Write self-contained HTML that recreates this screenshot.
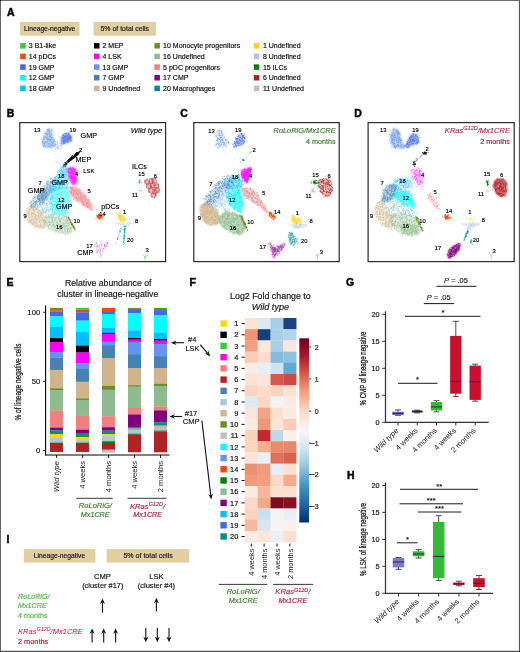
<!DOCTYPE html><html><head><meta charset="utf-8"><title>Figure</title><style>html,body{margin:0;padding:0;background:#fff}svg{display:block}text{font-family:"Liberation Sans",Arial,Helvetica,sans-serif}</style></head><body>
<svg width="520" height="652" viewBox="0 0 520 652">
<rect x="0.00" y="0.00" width="520.00" height="652.00" fill="#fff"/>
<text x="7.0" y="15.6" font-size="10.5" text-anchor="start" fill="#000" font-weight="bold" stroke="#000" stroke-width="0.45" stroke-linejoin="round">A</text>
<rect x="20.00" y="22.00" width="59.50" height="13.70" fill="#E3CEA2"/>
<text x="49.7" y="31.2" font-size="6.7" text-anchor="middle" fill="#1a1a1a" stroke="#1a1a1a" stroke-width="0.18">Lineage-negative</text>
<rect x="93.50" y="22.00" width="62.50" height="13.70" fill="#E3CEA2"/>
<text x="124.8" y="31.3" font-size="6.95" text-anchor="middle" fill="#1a1a1a" stroke="#1a1a1a" stroke-width="0.18">5% of total cells</text>
<rect x="20.20" y="43.05" width="5.50" height="5.50" fill="#32CD32"/>
<text x="28.8" y="48.3" font-size="7.0" text-anchor="start" fill="#111" stroke="#111" stroke-width="0.18">3 B1-like</text>
<rect x="20.20" y="53.70" width="5.50" height="5.50" fill="#FF4500"/>
<text x="28.8" y="58.9" font-size="7.0" text-anchor="start" fill="#111" stroke="#111" stroke-width="0.18">14 pDCs</text>
<rect x="20.20" y="64.35" width="5.50" height="5.50" fill="#4169E1"/>
<text x="28.8" y="69.6" font-size="7.0" text-anchor="start" fill="#111" stroke="#111" stroke-width="0.18">19 GMP</text>
<rect x="20.20" y="75.00" width="5.50" height="5.50" fill="#00FFFF"/>
<text x="28.8" y="80.2" font-size="7.0" text-anchor="start" fill="#111" stroke="#111" stroke-width="0.18">12 GMP</text>
<rect x="20.20" y="85.65" width="5.50" height="5.50" fill="#00BFFF"/>
<text x="28.8" y="90.9" font-size="7.0" text-anchor="start" fill="#111" stroke="#111" stroke-width="0.18">18 GMP</text>
<rect x="94.00" y="43.05" width="5.50" height="5.50" fill="#000000"/>
<text x="102.5" y="48.3" font-size="7.0" text-anchor="start" fill="#111" stroke="#111" stroke-width="0.18">2 MEP</text>
<rect x="94.00" y="53.70" width="5.50" height="5.50" fill="#FF00FF"/>
<text x="102.5" y="58.9" font-size="7.0" text-anchor="start" fill="#111" stroke="#111" stroke-width="0.18">4 LSK</text>
<rect x="94.00" y="64.35" width="5.50" height="5.50" fill="#6495ED"/>
<text x="102.5" y="69.6" font-size="7.0" text-anchor="start" fill="#111" stroke="#111" stroke-width="0.18">13 GMP</text>
<rect x="94.00" y="75.00" width="5.50" height="5.50" fill="#4682B4"/>
<text x="102.5" y="80.2" font-size="7.0" text-anchor="start" fill="#111" stroke="#111" stroke-width="0.18">7 GMP</text>
<rect x="94.00" y="85.65" width="5.50" height="5.50" fill="#D2B48C"/>
<text x="102.5" y="90.9" font-size="7.0" text-anchor="start" fill="#111" stroke="#111" stroke-width="0.18">9 Undefined</text>
<rect x="154.40" y="43.05" width="5.50" height="5.50" fill="#6B8E23"/>
<text x="163.1" y="48.3" font-size="7.0" text-anchor="start" fill="#111" stroke="#111" stroke-width="0.18">10 Monocyte progenitors</text>
<rect x="154.40" y="53.70" width="5.50" height="5.50" fill="#8FBC8F"/>
<text x="163.1" y="58.9" font-size="7.0" text-anchor="start" fill="#111" stroke="#111" stroke-width="0.18">16 Undefined</text>
<rect x="154.40" y="64.35" width="5.50" height="5.50" fill="#F08080"/>
<text x="163.1" y="69.6" font-size="7.0" text-anchor="start" fill="#111" stroke="#111" stroke-width="0.18">5 pDC progenitors</text>
<rect x="154.40" y="75.00" width="5.50" height="5.50" fill="#800080"/>
<text x="163.1" y="80.2" font-size="7.0" text-anchor="start" fill="#111" stroke="#111" stroke-width="0.18">17 CMP</text>
<rect x="154.40" y="85.65" width="5.50" height="5.50" fill="#008B8B"/>
<text x="163.1" y="90.9" font-size="7.0" text-anchor="start" fill="#111" stroke="#111" stroke-width="0.18">20 Macrophages</text>
<rect x="253.80" y="43.05" width="5.50" height="5.50" fill="#FFD700"/>
<text x="262.9" y="48.3" font-size="7.0" text-anchor="start" fill="#111" stroke="#111" stroke-width="0.18">1 Undefined</text>
<rect x="253.80" y="53.70" width="5.50" height="5.50" fill="#B0C4DE"/>
<text x="262.9" y="58.9" font-size="7.0" text-anchor="start" fill="#111" stroke="#111" stroke-width="0.18">8 Undefined</text>
<rect x="253.80" y="64.35" width="5.50" height="5.50" fill="#008000"/>
<text x="262.9" y="69.6" font-size="7.0" text-anchor="start" fill="#111" stroke="#111" stroke-width="0.18">15 ILCs</text>
<rect x="253.80" y="75.00" width="5.50" height="5.50" fill="#B22222"/>
<text x="262.9" y="80.2" font-size="7.0" text-anchor="start" fill="#111" stroke="#111" stroke-width="0.18">6 Undefined</text>
<rect x="253.80" y="85.65" width="5.50" height="5.50" fill="#C0C0C0"/>
<text x="262.9" y="90.9" font-size="7.0" text-anchor="start" fill="#111" stroke="#111" stroke-width="0.18">11 Undefined</text>
<defs><filter id="bl" x="-20%" y="-20%" width="140%" height="140%"><feGaussianBlur stdDeviation="0.9"/></filter></defs>
<text x="6.8" y="117.0" font-size="10.5" text-anchor="start" fill="#000" font-weight="bold" stroke="#000" stroke-width="0.45" stroke-linejoin="round">B</text>
<polygon points="46.9,128.9 50.8,128.2 53.1,131.2 52.6,136.6 55.1,140.5 55.7,145.1 50.8,147.6 44.6,147.6 41.5,144.3 42.3,138.9 44.6,134.3" fill="#6495ED" opacity="0.357" filter="url(#bl)"/>
<polygon points="60.8,137.4 63.8,133.5 69.2,132.8 71.8,136.6 71.5,141.2 66.2,143.2 61.5,144.0" fill="#4169E1" opacity="0.588" filter="url(#bl)"/>
<polygon points="50.8,145.0 55.7,141.2 60.8,141.2 63.0,144.3 61.5,149.0 54.6,149.7" fill="#9db8f2" opacity="0.147" filter="url(#bl)"/>
<polygon points="62.0,166.0 67.0,167.0 68.0,174.0 69.0,180.0 68.0,186.0 62.0,188.0 56.0,190.0 50.0,193.0 49.0,189.0 53.0,181.0 57.0,173.0" fill="#00BFFF" opacity="0.231" filter="url(#bl)"/>
<polygon points="51.0,178.0 56.0,180.0 52.0,189.0 47.0,197.0 42.0,204.0 36.0,208.5 30.0,207.0 31.5,201.0 37.0,193.0 44.0,185.0" fill="#4682B4" opacity="0.17639999999999997" filter="url(#bl)"/>
<polygon points="40.0,190.0 46.0,188.0 49.0,194.0 46.0,201.0 41.0,204.0 38.0,198.0" fill="#4682B4" opacity="0.336" filter="url(#bl)"/>
<polygon points="52.0,190.0 60.0,187.0 68.0,187.0 70.0,195.0 70.0,205.0 68.0,213.0 60.0,215.0 52.0,213.0 50.0,205.0 50.0,196.0" fill="#00FFFF" opacity="0.252" filter="url(#bl)"/>
<polygon points="69.0,187.0 73.0,186.0 78.0,188.0 84.0,193.0 89.0,200.0 93.0,207.0 93.5,210.0 91.0,210.0 87.0,207.5 81.0,204.0 75.0,200.0 71.0,196.0 69.0,191.0" fill="#F08080" opacity="0.462" filter="url(#bl)"/>
<polygon points="30.0,206.5 36.0,207.5 41.5,211.0 45.0,217.0 46.5,224.0 44.0,229.0 37.0,228.5 31.0,225.0 26.0,219.0 25.0,212.0" fill="#D2B48C" opacity="0.294" filter="url(#bl)"/>
<polygon points="44.0,217.5 52.0,213.0 60.0,215.0 67.0,214.0 71.0,220.0 73.0,228.0 71.0,233.0 64.0,234.0 56.0,232.0 48.0,229.0 44.5,224.0" fill="#8FBC8F" opacity="0.21" filter="url(#bl)"/>
<polygon points="67.5,168.0 71.0,167.0 75.0,168.0 77.0,171.0 76.0,175.0 77.0,180.0 76.0,184.0 73.0,185.0 71.0,182.0 69.0,178.0 68.0,173.0" fill="#FF00FF" opacity="0.672" filter="url(#bl)"/>
<polygon points="95.0,242.0 101.0,244.0 108.0,242.0 109.0,245.0 104.0,250.0 101.0,256.0 98.0,256.0 96.0,250.0" fill="#b545b5" opacity="0.042" filter="url(#bl)"/>
<polygon points="113.0,223.0 120.0,222.0 127.0,222.5 136.0,220.5 137.0,222.0 130.0,226.0 126.0,231.0 123.5,236.0 122.0,231.0 122.0,226.0 117.0,225.0" fill="#B0C4DE" opacity="0.1344" filter="url(#bl)"/>
<polygon points="116.0,212.5 120.0,214.0 127.5,220.0 124.0,221.5 120.0,221.0" fill="#FFD700" opacity="0.672" filter="url(#bl)"/>
<path d="M49.8 140.0h0M52.6 139.9h0M44.9 142.0h0M45.7 142.0h0M53.6 144.0h0M48.2 143.3h0M45.5 146.5h0M45.5 146.9h0M44.9 133.7h0M48.1 136.9h0M48.3 146.5h0M48.5 145.9h0M53.2 146.2h0M50.5 136.7h0M44.9 142.9h0M44.9 137.7h0M50.0 137.3h0M49.0 130.5h0M48.2 129.3h0M53.5 142.7h0M50.3 138.9h0M48.0 141.1h0M48.5 143.8h0M50.7 134.4h0M43.7 142.8h0M47.4 135.1h0M53.0 141.1h0M53.8 141.6h0M48.9 143.4h0M49.5 140.1h0M48.7 138.9h0M48.3 132.7h0M46.8 139.6h0M50.1 139.8h0M46.6 142.0h0M47.7 133.3h0M49.6 147.4h0M49.6 133.9h0M51.0 139.5h0M51.0 148.0h0M47.5 129.1h0M44.4 137.9h0M47.0 141.0h0M42.7 141.6h0M44.3 134.5h0M54.2 139.0h0M51.9 129.8h0M50.3 146.3h0M43.9 135.9h0M54.6 141.9h0M50.5 144.5h0M50.0 140.3h0M46.6 129.9h0M47.2 134.6h0M47.5 130.2h0M49.4 140.6h0M52.0 130.9h0M46.4 134.7h0M55.8 143.1h0M51.6 141.7h0M47.4 139.2h0M48.2 139.3h0M45.7 133.0h0M49.7 139.3h0M51.3 145.6h0M46.8 143.3h0M48.5 140.4h0M51.8 137.6h0M43.1 145.5h0M52.5 141.9h0M52.5 143.6h0M43.0 143.7h0M46.4 137.6h0M50.2 144.3h0M49.0 133.5h0M52.0 145.5h0M44.8 136.6h0M47.3 138.0h0M47.1 136.9h0M49.7 141.6h0M46.2 138.3h0M44.7 145.4h0M48.0 134.5h0M47.7 146.4h0M49.2 137.6h0M49.8 146.2h0M47.9 139.1h0M47.8 137.2h0M48.0 146.5h0M49.3 146.1h0M50.8 145.5h0M51.3 139.9h0M50.3 141.8h0M46.8 133.1h0M46.8 143.2h0M42.8 142.3h0M43.5 139.2h0M49.6 129.2h0M47.6 135.8h0M50.4 140.7h0M52.0 129.3h0M45.5 133.5h0M49.0 138.9h0M49.8 135.8h0M51.2 137.7h0M42.0 141.5h0M47.4 131.0h0M52.2 145.4h0M52.0 137.8h0M55.0 145.2h0M53.2 144.0h0M49.4 134.0h0M55.0 141.9h0M44.6 144.3h0M43.6 137.6h0M50.1 135.2h0M49.7 128.8h0M50.5 139.7h0M45.7 141.4h0M48.0 147.6h0M52.4 144.9h0M51.2 143.8h0M49.4 132.6h0M43.8 147.1h0M49.8 132.8h0M52.7 145.7h0M53.3 138.9h0M45.9 138.1h0M47.0 134.0h0M50.5 131.8h0M53.0 143.3h0M46.3 145.5h0M53.0 131.4h0M44.0 139.2h0M49.7 136.4h0M50.1 136.8h0M49.1 132.0h0M42.7 141.0h0M51.0 133.2h0M50.8 135.9h0M52.6 145.1h0M45.6 133.2h0M51.3 142.2h0M54.7 146.1h0M51.5 145.1h0M44.0 141.8h0M49.7 130.6h0M46.9 148.0h0M48.4 134.4h0M51.1 147.0h0M47.0 131.4h0M51.4 129.6h0M47.7 139.6h0M47.3 134.3h0M49.0 131.3h0M44.4 143.3h0M44.7 143.6h0M47.3 139.2h0M48.5 130.4h0M42.8 139.0h0M53.1 140.1h0M50.0 136.7h0M45.2 144.9h0M52.2 136.9h0M43.7 139.4h0M43.1 142.4h0M43.4 142.5h0M45.8 148.1h0M45.6 142.6h0M50.2 136.2h0M44.1 143.3h0M48.2 131.7h0M54.0 140.5h0M47.0 141.7h0M51.3 138.2h0M42.6 145.1h0M51.5 138.3h0M53.2 137.4h0M51.0 147.1h0M46.9 134.3h0M42.6 141.8h0M49.6 136.1h0M53.3 145.9h0M44.6 146.1h0M50.0 147.3h0M52.1 140.4h0M43.9 137.3h0M52.7 138.2h0M50.7 131.7h0M51.6 135.0h0M53.3 143.8h0M52.8 147.1h0M46.1 134.5h0M50.4 139.5h0M51.8 135.3h0M51.7 147.2h0M51.8 130.4h0M48.0 145.0h0M46.1 141.2h0M47.6 133.8h0M42.5 143.9h0M48.7 145.2h0M47.8 130.5h0M48.9 129.9h0M51.4 142.5h0M46.1 136.9h0M46.4 133.4h0M43.9 138.5h0M52.3 142.9h0M56.0 144.7h0M51.6 139.3h0M44.1 143.5h0M55.0 145.1h0M43.5 139.7h0M44.9 146.1h0M49.4 143.4h0M47.2 145.2h0M44.3 143.4h0M52.5 133.5h0M42.1 139.7h0M47.6 139.9h0M45.8 132.1h0M51.6 134.8h0M48.4 143.8h0M53.9 142.3h0M54.1 141.2h0M44.2 133.8h0M47.5 129.7h0M44.8 136.6h0M43.9 145.8h0M48.8 128.4h0M43.5 136.1h0M54.6 139.6h0M49.0 139.3h0M44.0 146.7h0M51.2 134.0h0M45.7 136.8h0M48.4 139.4h0M45.7 145.1h0M47.6 142.3h0M50.5 137.1h0M50.2 144.1h0M46.7 137.7h0M42.9 143.9h0M55.6 144.4h0M44.5 138.9h0M44.9 143.9h0M49.0 129.7h0M49.3 146.9h0M55.4 144.7h0M49.9 144.7h0M47.9 138.1h0M53.0 135.8h0M53.3 140.4h0M51.9 145.4h0M51.6 142.9h0M51.2 137.5h0M51.6 137.2h0M45.1 148.3h0M51.6 138.9h0M44.2 145.8h0M49.4 133.8h0M47.0 138.5h0M43.6 146.7h0M49.0 130.8h0" stroke="#6495ED" stroke-width="0.7" stroke-linecap="round" fill="none" opacity="0.6"/>
<path d="M63.2 140.4h0M70.6 135.8h0M68.0 138.3h0M65.1 139.7h0M61.9 141.7h0M65.7 142.0h0M65.3 133.9h0M68.8 137.1h0M62.4 138.3h0M67.0 134.3h0M64.6 133.4h0M63.9 142.9h0M68.8 137.2h0M64.3 138.2h0M63.4 135.2h0M64.9 136.7h0M66.8 135.5h0M68.1 139.1h0M68.6 138.3h0M64.5 142.8h0M70.7 139.3h0M68.1 142.5h0M68.9 138.2h0M67.0 139.2h0M68.2 141.0h0M62.2 137.4h0M63.7 143.4h0M67.3 138.6h0M69.7 135.5h0M64.7 136.5h0M69.7 138.2h0M65.7 138.7h0M64.9 137.8h0M69.1 132.7h0M70.7 141.2h0M65.3 138.1h0M72.0 140.7h0M65.5 137.0h0M71.4 136.7h0M69.6 138.5h0M62.6 143.9h0M69.6 137.3h0M68.4 134.1h0M67.4 133.3h0M66.5 136.6h0M66.4 133.6h0M65.3 139.8h0M71.0 140.0h0M69.8 137.3h0M63.2 135.2h0M63.6 143.9h0M67.2 137.7h0M63.9 134.3h0M63.3 142.4h0M62.9 143.9h0M64.1 141.4h0M69.0 136.0h0M66.5 138.6h0M67.5 139.2h0M71.2 137.2h0M70.3 140.5h0M68.9 138.5h0M66.2 133.5h0M65.5 133.7h0M71.0 136.3h0M70.4 136.7h0M65.6 140.8h0M66.4 140.2h0M63.5 141.2h0M66.8 141.1h0M68.3 139.6h0M65.7 139.3h0M64.9 141.8h0M64.1 135.6h0M61.9 141.6h0M63.3 134.9h0M71.3 138.3h0M69.0 138.1h0M65.0 141.1h0M67.2 137.7h0M63.1 135.5h0M68.3 141.8h0M69.3 140.4h0M69.1 137.6h0M65.6 142.5h0M71.1 141.0h0M67.1 141.0h0M64.2 139.3h0M71.3 140.8h0M68.2 142.7h0M63.7 138.3h0M67.8 141.6h0M61.9 140.5h0M62.2 143.8h0M69.2 137.1h0M62.4 139.2h0M64.6 143.5h0M63.2 137.6h0M61.9 137.5h0M65.2 136.9h0M70.4 136.5h0M68.8 135.4h0M68.7 138.4h0M69.2 133.9h0M68.6 133.3h0M61.1 143.3h0M69.4 139.5h0M67.5 136.5h0M63.8 134.6h0M67.2 140.2h0M64.0 138.7h0M69.7 135.9h0M66.8 140.2h0M61.4 139.6h0M69.0 136.3h0M66.2 136.6h0M63.7 137.9h0M68.5 138.4h0M63.8 141.9h0M70.7 140.4h0M64.8 139.6h0M71.0 139.0h0M64.3 140.2h0M72.0 138.0h0M61.1 140.3h0M69.0 134.8h0M64.0 136.2h0M66.1 142.4h0M67.5 137.8h0M63.9 143.5h0M61.2 139.0h0M69.2 133.9h0M63.9 140.7h0M66.6 140.0h0M65.0 136.0h0M63.9 142.2h0M70.5 137.7h0M66.1 133.0h0M68.5 134.2h0M68.7 134.9h0M69.8 139.3h0M64.3 142.1h0M62.9 139.6h0M60.1 137.0h0M70.4 137.9h0M67.7 141.6h0M65.2 143.8h0M61.9 143.2h0M69.1 141.2h0M71.4 139.6h0M70.7 137.8h0M66.6 137.3h0M64.1 137.3h0M67.8 136.3h0M62.3 135.8h0M67.6 135.5h0M68.6 138.2h0M64.6 140.9h0" stroke="#4169E1" stroke-width="0.7" stroke-linecap="round" fill="none" opacity="0.6"/>
<path d="M56.4 142.1h0M59.6 143.5h0M57.4 148.1h0M60.0 142.2h0M62.7 144.1h0M62.1 143.2h0M59.7 147.1h0M58.2 147.9h0M53.9 144.2h0M60.9 145.2h0M53.5 146.4h0M52.2 144.1h0M57.9 145.3h0M56.7 144.5h0M60.1 148.3h0M61.9 148.8h0M62.1 142.2h0M61.7 145.6h0M56.6 147.4h0M55.4 146.7h0M62.1 144.7h0M56.8 142.7h0M58.6 146.6h0M58.4 147.3h0M58.3 148.9h0M57.7 148.7h0M55.9 144.2h0M61.0 142.9h0M55.7 149.2h0M52.4 146.1h0M62.2 142.8h0M61.5 141.8h0M58.9 148.0h0M61.6 146.1h0M57.4 146.6h0M56.3 147.3h0M58.2 148.0h0M54.9 145.6h0M61.4 142.5h0M61.2 145.2h0M55.5 141.8h0M55.3 146.8h0M55.7 149.4h0M60.9 147.0h0M62.1 144.0h0M57.2 141.6h0M57.5 148.2h0M55.3 144.0h0M60.6 145.7h0M57.7 140.4h0M57.6 144.0h0M61.0 143.2h0M53.2 145.7h0M52.9 143.4h0M57.7 146.4h0M61.3 148.5h0M53.2 146.5h0M57.7 143.1h0M60.5 145.0h0M53.1 145.3h0" stroke="#9db8f2" stroke-width="0.7" stroke-linecap="round" fill="none" opacity="0.6"/>
<path d="M66.2 175.0h0M51.5 192.6h0M62.0 170.7h0M54.6 186.7h0M61.2 182.5h0M56.5 176.7h0M54.2 187.3h0M53.2 183.8h0M62.8 179.1h0M52.2 183.0h0M66.1 185.5h0M58.9 170.0h0M64.1 181.2h0M61.2 177.3h0M59.1 188.2h0M60.7 177.2h0M58.2 180.5h0M65.3 184.6h0M68.5 175.4h0M58.3 178.3h0M60.0 181.5h0M61.2 182.5h0M66.7 169.2h0M54.2 186.1h0M59.6 183.2h0M55.8 183.6h0M55.5 176.8h0M56.9 189.3h0M55.4 179.7h0M52.9 189.3h0M55.8 190.4h0M62.9 180.1h0M53.1 189.4h0M65.3 169.2h0M61.3 169.6h0M66.5 183.4h0M54.5 181.7h0M50.5 190.8h0M61.3 188.1h0M63.3 169.7h0M67.2 175.9h0M55.3 187.1h0M53.4 184.5h0M61.3 170.3h0M68.2 179.8h0M55.7 188.6h0M62.6 182.5h0M67.9 184.0h0M65.0 172.7h0M62.1 171.6h0M51.4 191.8h0M66.7 172.3h0M66.0 178.3h0M60.6 185.0h0M64.2 181.5h0M64.0 184.5h0M56.2 190.1h0M61.5 182.2h0M68.0 169.9h0M55.3 188.7h0M54.4 179.5h0M51.5 190.2h0M55.3 179.9h0M54.1 190.1h0M67.5 184.5h0M68.3 176.3h0M60.5 184.0h0M50.4 190.9h0M59.9 171.3h0M52.3 189.5h0M66.0 173.9h0M58.5 186.6h0M59.9 181.6h0M55.1 177.8h0M55.7 182.8h0M62.6 182.9h0M63.8 175.0h0M63.6 167.9h0M56.2 188.5h0M67.8 169.8h0M54.7 180.7h0M65.0 168.1h0M55.6 178.2h0M64.1 182.2h0M60.7 170.4h0M61.4 176.9h0M64.9 166.2h0M56.2 176.9h0M66.0 169.0h0M60.4 172.5h0M64.6 170.9h0M59.6 184.8h0M60.4 171.1h0M57.6 175.4h0M58.4 181.4h0M60.0 187.8h0M58.3 178.8h0M61.9 187.4h0M60.1 187.6h0M61.4 183.4h0M53.6 188.3h0M65.3 178.9h0M53.6 186.2h0M57.3 188.2h0M52.6 187.9h0M54.1 185.4h0M59.1 175.2h0M63.7 168.1h0M61.6 185.2h0M67.1 172.3h0M59.7 175.0h0M52.8 191.0h0M60.0 171.6h0M57.8 176.2h0M62.4 185.3h0M53.1 191.3h0M51.8 187.6h0M55.1 177.0h0M60.7 168.8h0M54.3 178.0h0M60.3 167.7h0M63.7 166.7h0M57.6 172.6h0M56.5 187.5h0M52.7 185.0h0M65.4 172.0h0M61.1 185.3h0M62.9 180.5h0M58.7 170.8h0M49.0 190.2h0M67.4 179.1h0M53.0 190.4h0M63.7 182.7h0M59.3 174.4h0M64.4 173.4h0M53.6 189.3h0M55.3 185.8h0M67.4 184.8h0M59.4 182.4h0M59.9 181.4h0M61.1 185.1h0M66.2 174.3h0M61.7 166.5h0M62.3 167.8h0M53.7 185.8h0M49.8 190.3h0M54.9 183.8h0M62.3 171.5h0M61.7 170.5h0M57.7 177.3h0M53.1 186.2h0M67.7 184.9h0M59.3 187.8h0M58.7 175.4h0M50.4 188.3h0M61.7 171.6h0M65.0 179.1h0M62.9 183.2h0M64.1 167.4h0M60.5 176.0h0M54.9 189.9h0M54.5 190.2h0M53.2 185.8h0M53.3 190.8h0M62.1 183.3h0M53.2 182.2h0M48.8 189.0h0M51.9 184.2h0M63.9 185.2h0M53.3 186.0h0M53.3 185.8h0M66.7 182.4h0M50.1 188.5h0M65.9 180.7h0M62.2 188.0h0M56.9 183.1h0M66.3 169.1h0M59.5 186.2h0M60.3 188.2h0M63.8 167.1h0M56.8 184.5h0M58.0 175.2h0M62.6 186.0h0M63.0 171.9h0M54.2 189.0h0M56.2 184.4h0M67.9 176.3h0M68.9 172.5h0M50.9 189.1h0M51.6 186.5h0M65.2 184.2h0M57.0 183.5h0M62.2 186.3h0M51.5 190.1h0M65.3 174.5h0M62.9 173.2h0M67.0 177.3h0M56.8 185.0h0M49.2 192.1h0M55.6 181.8h0M57.2 179.7h0M68.9 181.2h0M58.3 180.8h0M58.4 188.1h0M49.6 193.0h0M66.4 179.7h0M58.7 188.6h0M59.2 187.3h0M55.8 178.3h0M62.7 174.1h0M52.6 179.7h0M55.3 187.4h0M51.7 187.5h0M56.9 182.5h0M62.1 174.0h0M67.4 180.6h0M64.0 172.9h0M66.8 167.3h0M56.7 180.2h0M61.6 177.6h0M62.5 172.7h0M57.1 181.8h0M61.9 168.1h0M59.3 185.7h0M65.4 169.1h0M56.9 171.0h0M52.3 190.3h0M57.9 171.7h0M62.1 170.0h0M65.6 182.6h0M62.0 167.6h0M56.3 181.3h0M58.6 187.7h0M62.8 187.4h0M66.1 183.5h0M62.9 166.9h0M58.5 176.7h0M66.7 180.1h0M53.8 189.8h0M53.1 188.0h0M58.5 174.5h0M65.4 178.2h0M57.7 184.1h0M65.2 175.9h0M52.3 189.1h0M63.5 170.4h0M58.4 182.7h0M63.1 181.5h0M54.9 191.1h0M64.2 170.0h0M49.8 191.9h0M55.4 186.6h0M66.4 168.6h0M65.3 170.6h0M67.3 168.1h0M60.5 187.4h0M57.0 177.9h0M53.4 185.1h0M56.5 187.1h0M63.4 184.7h0M69.4 179.9h0M66.6 181.4h0M63.8 177.3h0M51.7 188.8h0M54.8 189.1h0M50.1 189.4h0M67.5 169.9h0M63.7 166.7h0M54.3 191.0h0M66.3 175.9h0M56.2 187.8h0M51.5 192.2h0M57.7 184.8h0M55.3 184.4h0M65.3 178.6h0M66.3 171.5h0M53.8 181.8h0M51.6 190.5h0M65.3 171.7h0M64.9 174.7h0M65.6 174.6h0M54.5 182.7h0M64.1 175.5h0M60.0 179.7h0M62.8 187.3h0M60.3 181.3h0M60.4 181.2h0M51.9 189.7h0M51.4 188.8h0M55.6 184.4h0M60.9 174.0h0M54.5 180.1h0M57.8 186.1h0M55.7 183.2h0M53.2 188.2h0M58.6 185.2h0M62.6 171.7h0M66.3 169.6h0M64.0 166.5h0M64.3 185.7h0M68.3 183.5h0M60.7 178.9h0M50.6 190.3h0M61.6 188.8h0M52.8 181.8h0M57.1 181.3h0M67.8 186.3h0M55.5 187.9h0M60.9 183.1h0M60.6 173.3h0M60.2 170.5h0M56.2 180.2h0M57.2 187.0h0M66.9 170.0h0M62.9 172.5h0M54.1 186.4h0M54.9 180.7h0M54.2 182.3h0M58.1 174.3h0M64.8 178.1h0M61.0 177.0h0M59.7 169.0h0M58.8 177.9h0M59.2 182.9h0M66.5 180.1h0M54.3 184.1h0M60.7 185.5h0M65.5 172.8h0M69.6 182.9h0M57.1 179.0h0M67.1 180.6h0M49.7 189.3h0M57.8 171.8h0M61.0 169.8h0M61.7 170.2h0M66.8 174.7h0M58.0 183.4h0M55.6 185.3h0M56.6 184.0h0M67.6 180.9h0M60.7 173.7h0M59.8 178.2h0M54.7 183.7h0M64.6 186.6h0M66.6 171.3h0M54.5 177.0h0M63.3 173.6h0M66.2 176.3h0M58.3 178.2h0M57.0 181.4h0M62.2 173.9h0M65.8 184.9h0M63.7 169.0h0M52.7 189.5h0M67.2 181.0h0M62.2 176.5h0M68.5 178.5h0M57.6 177.4h0M50.4 191.3h0M62.5 172.5h0M59.7 186.1h0M62.5 166.8h0M55.0 177.6h0M61.5 177.7h0" stroke="#00BFFF" stroke-width="0.7" stroke-linecap="round" fill="none" opacity="0.6"/>
<path d="M54.3 178.9h0M44.3 191.2h0M48.9 189.9h0M44.7 189.6h0M51.7 178.4h0M49.6 187.3h0M35.2 197.8h0M38.8 200.1h0M52.4 186.9h0M47.8 187.9h0M35.5 202.9h0M44.9 191.3h0M32.6 204.8h0M47.0 188.7h0M50.2 185.5h0M34.0 205.8h0M32.1 200.3h0M39.2 192.5h0M39.4 202.8h0M48.6 191.7h0M46.5 195.5h0M53.5 188.5h0M35.7 205.8h0M55.8 180.2h0M45.6 194.5h0M37.4 205.9h0M31.0 201.1h0M31.3 205.1h0M33.4 201.0h0M37.9 196.0h0M52.9 183.1h0M31.7 206.5h0M48.2 191.0h0M42.0 193.3h0M36.0 204.3h0M44.8 190.0h0M36.4 203.2h0M56.3 180.6h0M34.1 199.8h0M44.7 188.5h0M42.2 192.0h0M31.4 204.5h0M41.0 205.9h0M35.0 207.4h0M30.3 203.0h0M45.4 190.0h0M36.4 201.3h0M39.9 204.4h0M53.5 180.0h0M45.9 194.1h0M39.4 199.1h0M48.8 181.8h0M51.2 178.6h0M50.1 186.9h0M39.0 198.7h0M37.1 202.9h0M31.9 201.6h0M37.3 195.8h0M41.8 191.5h0M53.0 184.4h0M42.7 199.7h0M46.8 183.1h0M37.5 199.5h0M44.8 195.8h0M37.7 201.0h0M46.0 197.8h0M51.2 186.3h0M31.4 207.2h0M32.0 204.3h0M37.6 192.5h0M46.9 180.5h0M49.6 193.4h0M47.4 184.8h0M35.1 204.3h0M35.6 202.1h0M35.1 197.0h0M45.6 196.1h0M46.0 188.4h0M47.2 186.2h0M45.5 197.6h0M38.9 196.0h0M38.7 201.0h0M44.5 187.2h0M48.7 184.3h0M47.2 185.2h0M41.5 194.5h0M50.2 186.0h0M34.3 206.2h0M51.2 182.8h0M39.9 198.7h0M38.4 194.4h0M44.7 195.9h0M37.2 207.2h0M35.9 201.7h0M34.0 207.3h0M36.9 206.7h0M49.9 185.6h0M40.6 201.0h0M41.2 198.9h0M30.2 202.9h0M44.9 185.7h0M47.7 187.2h0M46.5 192.3h0M41.9 184.3h0M54.7 180.8h0M49.3 186.4h0M44.1 197.6h0M42.9 188.8h0M35.0 194.7h0M45.9 194.1h0M44.1 183.2h0M39.9 204.8h0M38.7 191.6h0M32.9 200.1h0M38.8 199.0h0M44.1 189.6h0M39.5 200.6h0M49.3 193.6h0M46.4 183.2h0M37.8 198.4h0M43.9 188.9h0M45.4 185.6h0M45.8 196.4h0M38.9 195.8h0M34.9 203.1h0M47.9 195.0h0M44.2 188.4h0M44.1 191.3h0M46.4 187.4h0M43.1 190.4h0M50.0 184.1h0M39.8 204.3h0M40.4 198.2h0M45.4 193.1h0M37.3 197.5h0M48.0 182.5h0M39.3 207.1h0M50.8 182.0h0M34.6 201.4h0M31.2 202.7h0M55.2 182.5h0M34.4 197.6h0M46.9 185.8h0M48.4 187.8h0M36.8 208.5h0M39.0 196.3h0M35.6 201.6h0M52.1 183.8h0M45.4 197.6h0M38.6 205.7h0M38.5 201.4h0M41.3 192.2h0M50.7 183.9h0M53.3 180.9h0M34.6 197.5h0M36.1 201.7h0M48.1 192.6h0M51.6 181.4h0M48.9 181.5h0M46.0 182.1h0M38.8 199.5h0M39.4 199.0h0M41.8 196.6h0M45.0 191.8h0M39.3 202.0h0M35.0 202.5h0M44.8 194.1h0M32.5 198.0h0M37.4 197.4h0M55.4 182.5h0M31.5 205.5h0M46.3 194.9h0M33.3 198.6h0M49.5 190.2h0M47.9 192.2h0M45.1 193.4h0M41.9 195.1h0M43.5 198.9h0M50.9 181.4h0M30.2 203.4h0M51.3 182.0h0M37.0 203.7h0M48.7 186.1h0M42.0 190.2h0M37.4 197.2h0M48.7 189.4h0M36.0 201.3h0M47.1 181.4h0M39.1 199.2h0M37.6 196.8h0M50.2 178.8h0M33.2 207.0h0M37.5 197.5h0M47.5 188.4h0M37.7 198.2h0M31.9 207.4h0M33.3 206.3h0M38.6 208.0h0M34.0 202.8h0M46.2 187.5h0M43.4 191.8h0M44.5 198.3h0M32.8 203.6h0M50.1 182.8h0M47.3 194.1h0M36.5 209.3h0M53.9 180.3h0M41.2 190.9h0M47.2 183.8h0M40.0 201.1h0M43.7 194.9h0M43.7 186.1h0M43.7 192.4h0M34.7 206.9h0M42.3 191.3h0M45.9 193.8h0M41.8 191.0h0M31.3 207.1h0M44.4 187.0h0M39.9 189.2h0M33.1 208.1h0M40.6 202.2h0M47.5 189.5h0M46.1 192.7h0M32.9 206.5h0M39.9 204.0h0M36.8 201.8h0M47.1 187.4h0M37.2 204.6h0M42.8 196.2h0M30.1 205.8h0M42.3 196.5h0M43.0 199.0h0M37.9 199.9h0M43.6 198.9h0M49.9 187.3h0M48.3 189.5h0M50.4 183.8h0M54.2 181.3h0M31.4 201.7h0M42.5 198.9h0M41.6 190.8h0M44.5 189.1h0M44.0 191.6h0M43.7 198.1h0M41.3 190.1h0M55.1 178.9h0M34.1 202.9h0M41.0 191.8h0M35.4 196.4h0M43.0 202.3h0M41.4 191.1h0M34.5 204.3h0M48.1 181.9h0M49.3 184.8h0M34.8 205.9h0M31.5 206.2h0M30.2 206.7h0M47.1 183.8h0M50.5 178.7h0M48.5 184.7h0M34.6 196.2h0M36.6 200.7h0M33.3 204.9h0M39.1 194.4h0M48.1 181.9h0M37.6 195.8h0M49.4 192.4h0M50.4 179.7h0M33.4 203.2h0M31.7 205.8h0M37.6 196.3h0M46.6 183.8h0M36.7 198.2h0M40.1 202.8h0M47.5 184.8h0M49.9 187.8h0M36.2 203.1h0M38.7 196.4h0M47.7 196.5h0M38.7 201.8h0M44.1 192.4h0M30.9 205.8h0M50.5 182.5h0M50.1 188.7h0M33.7 203.7h0M35.7 204.0h0M43.2 191.9h0M49.0 190.4h0M43.3 189.4h0M42.6 188.8h0M31.1 207.5h0M47.5 181.4h0M43.8 195.7h0M40.2 193.6h0M35.4 205.1h0M53.5 181.6h0M37.7 202.2h0M42.4 196.0h0M50.0 191.8h0M41.9 195.5h0M45.8 188.7h0M47.8 191.2h0M41.8 200.3h0M44.1 189.6h0M48.2 189.5h0M50.1 190.2h0M41.0 188.9h0M35.4 205.5h0M29.8 201.3h0M39.7 200.1h0" stroke="#4682B4" stroke-width="0.7" stroke-linecap="round" fill="none" opacity="0.6"/>
<path d="M44.7 192.8h0M39.6 190.7h0M47.3 198.5h0M40.8 194.0h0M42.5 202.7h0M43.3 199.7h0M42.4 192.0h0M41.2 193.8h0M43.7 189.9h0M48.1 195.6h0M43.9 202.1h0M45.9 196.4h0M39.1 198.0h0M40.4 202.7h0M47.9 196.4h0M46.9 190.5h0M42.5 199.9h0M42.1 197.6h0M44.6 202.8h0M38.8 198.4h0M38.8 198.5h0M39.6 198.4h0M45.5 191.4h0M45.4 197.0h0M44.7 191.9h0M45.1 189.8h0M43.0 191.6h0M41.5 194.8h0M44.5 194.2h0M46.8 192.7h0M45.6 190.6h0M39.6 191.9h0M43.7 200.7h0M41.5 198.0h0M43.9 193.0h0M40.0 193.4h0M42.3 198.8h0M48.5 194.8h0M46.1 190.2h0M46.5 196.0h0M44.2 192.2h0M41.9 193.1h0M43.2 192.5h0M39.1 195.1h0M47.1 198.7h0M41.2 190.8h0M41.6 188.9h0M45.9 196.9h0M39.3 195.9h0M43.7 189.5h0M42.6 191.6h0M43.0 191.4h0M43.1 196.4h0M44.1 195.6h0M41.3 189.4h0M42.9 199.3h0M41.9 197.0h0M46.0 197.7h0M44.5 196.1h0M46.7 196.5h0M45.7 197.1h0M43.3 195.0h0M40.9 198.0h0M40.2 192.9h0M40.6 193.7h0M46.0 198.0h0M46.5 192.6h0M45.1 194.0h0M41.6 195.8h0M42.8 191.6h0M42.7 203.8h0M44.3 191.8h0M42.8 191.7h0M42.7 189.6h0M44.7 199.8h0M43.5 196.5h0M45.4 198.1h0M42.2 193.7h0M43.5 197.5h0M42.6 200.3h0M44.4 199.1h0M39.1 199.5h0M42.2 199.0h0M40.1 199.9h0M42.9 201.5h0M44.4 200.2h0M40.9 191.4h0M42.9 192.4h0M42.7 191.3h0M40.6 196.0h0M41.7 196.8h0M44.2 202.9h0M44.8 190.1h0M39.7 196.2h0M42.3 199.9h0M37.5 199.0h0M42.9 195.0h0M38.9 200.0h0M47.5 194.8h0M44.4 192.3h0M43.6 201.9h0M42.3 196.9h0M44.4 196.8h0M41.9 189.6h0M42.6 202.4h0M39.9 192.9h0M41.7 189.3h0M41.5 198.1h0M39.9 193.4h0M40.4 197.9h0M45.4 195.6h0M40.1 195.8h0M46.7 191.3h0" stroke="#4682B4" stroke-width="0.7" stroke-linecap="round" fill="none" opacity="0.6"/>
<path d="M51.8 189.8h0M63.4 200.7h0M48.5 202.2h0M65.8 197.9h0M59.2 197.9h0M53.8 211.2h0M63.2 208.2h0M62.0 198.5h0M62.7 210.4h0M54.4 198.1h0M51.5 191.9h0M52.1 198.9h0M56.7 199.4h0M56.3 192.9h0M50.1 205.8h0M66.2 192.7h0M53.3 205.2h0M50.7 202.0h0M55.0 205.9h0M60.2 212.7h0M62.5 208.1h0M52.1 205.5h0M52.9 204.7h0M49.7 201.6h0M66.0 191.3h0M67.7 190.5h0M67.8 199.9h0M54.4 212.9h0M63.9 191.7h0M57.8 193.8h0M64.0 207.9h0M61.5 201.1h0M63.5 193.0h0M69.1 196.9h0M64.1 192.2h0M63.3 212.0h0M64.2 200.9h0M67.9 201.9h0M53.6 204.8h0M55.0 200.0h0M70.8 195.5h0M63.7 207.4h0M68.6 206.9h0M56.5 211.5h0M70.1 200.8h0M58.4 190.2h0M59.3 190.8h0M59.2 206.6h0M60.8 210.6h0M51.4 203.4h0M68.7 195.3h0M61.7 188.4h0M52.2 207.6h0M61.8 204.8h0M55.4 190.3h0M66.2 208.0h0M57.8 213.8h0M63.3 204.0h0M69.6 198.4h0M63.5 204.1h0M52.7 211.9h0M55.2 195.8h0M65.6 205.1h0M59.6 194.0h0M53.5 191.5h0M58.0 213.9h0M55.2 194.4h0M64.9 212.8h0M66.3 211.0h0M66.1 203.1h0M63.3 203.6h0M65.8 187.6h0M68.6 208.2h0M55.9 205.2h0M55.5 202.0h0M68.0 198.7h0M62.6 197.9h0M65.6 207.4h0M62.2 200.5h0M55.0 204.2h0M61.8 191.8h0M54.9 193.4h0M52.3 192.8h0M57.0 209.5h0M50.4 200.7h0M55.1 208.9h0M67.0 189.1h0M68.2 195.6h0M55.5 212.7h0M69.4 195.3h0M60.1 191.5h0M64.1 200.0h0M63.7 208.4h0M59.7 214.6h0M67.1 187.7h0M67.5 202.8h0M59.9 209.8h0M56.5 211.1h0M63.1 205.7h0M57.2 211.1h0M52.5 198.3h0M58.0 204.5h0M60.3 202.6h0M66.0 200.9h0M64.0 199.5h0M60.3 207.1h0M68.6 190.9h0M61.6 211.6h0M68.3 207.2h0M51.5 192.5h0M52.3 196.4h0M67.3 210.3h0M64.3 198.9h0M55.2 210.4h0M52.4 198.2h0M56.1 197.5h0M53.8 198.2h0M55.7 198.9h0M66.5 191.9h0M55.0 209.6h0M54.2 189.2h0M64.6 208.7h0M66.0 201.0h0M50.0 204.0h0M57.6 214.2h0M61.6 200.7h0M56.0 192.1h0M64.2 212.7h0M53.8 212.5h0M62.1 210.2h0M54.4 204.3h0M53.1 195.6h0M66.8 187.0h0M62.8 209.5h0M60.4 206.7h0M58.5 198.5h0M63.8 200.3h0M58.2 193.5h0M55.0 190.5h0M56.0 192.7h0M62.6 205.6h0M57.9 201.8h0M61.2 201.3h0M62.4 202.2h0M66.1 204.2h0M65.2 210.0h0M58.4 210.1h0M67.3 188.4h0M52.4 210.5h0M57.3 201.8h0M65.7 210.1h0M64.9 188.6h0M53.6 198.4h0M70.8 201.6h0M51.3 203.6h0M64.6 188.3h0M67.1 204.5h0M62.0 200.6h0M65.7 191.1h0M63.5 206.4h0M51.9 207.1h0M62.5 191.0h0M65.0 190.3h0M60.4 200.5h0M64.4 213.9h0M59.0 211.9h0M51.8 206.8h0M68.0 196.7h0M54.3 201.0h0M53.2 190.3h0M57.1 203.0h0M57.4 189.5h0M54.1 212.3h0M53.5 201.8h0M58.2 206.9h0M59.5 210.3h0M51.2 208.1h0M52.6 209.8h0M51.3 197.6h0M66.0 188.8h0M66.8 194.3h0M69.7 205.1h0M66.2 195.4h0M59.5 213.9h0M57.9 195.3h0M62.3 205.4h0M63.0 190.8h0M70.6 199.6h0M55.7 208.8h0M68.8 212.3h0M62.2 213.6h0M62.3 187.5h0M57.2 187.8h0M66.2 207.0h0M54.7 189.0h0M61.0 207.8h0M63.9 190.0h0M54.1 204.4h0M66.1 197.1h0M61.3 203.4h0M52.9 208.4h0M57.3 195.2h0M66.2 187.8h0M70.1 198.4h0M65.1 189.0h0M68.0 207.7h0M52.2 206.8h0M58.0 187.8h0M62.4 205.2h0M55.9 206.1h0M57.5 197.2h0M58.4 194.9h0M67.7 193.7h0M58.9 203.5h0M55.4 201.8h0M61.2 198.0h0M61.6 200.4h0M68.2 208.7h0M59.5 193.2h0M65.9 195.8h0M64.5 201.1h0M60.4 195.4h0M58.2 206.8h0M59.1 190.3h0M52.1 213.2h0M51.6 190.7h0M52.9 200.2h0M52.0 197.1h0M58.6 197.3h0M52.0 193.2h0M70.0 202.7h0M57.6 210.1h0M63.5 208.2h0M65.2 207.4h0M68.3 204.9h0M54.5 212.1h0M56.2 204.1h0M65.5 209.4h0M63.1 214.3h0M61.9 211.5h0M69.1 203.2h0M70.7 196.3h0M50.7 202.9h0M58.1 207.1h0M68.7 207.4h0M50.1 199.3h0M57.0 208.0h0M65.8 196.9h0M62.6 214.3h0M60.7 199.0h0M48.6 201.4h0M58.9 213.5h0M51.5 198.1h0M62.4 204.3h0M57.4 190.3h0M57.1 190.7h0M65.5 203.3h0M64.7 206.4h0M53.3 206.9h0M56.4 204.5h0M63.0 203.4h0M60.1 194.2h0M65.6 198.2h0M57.0 204.9h0M68.7 190.4h0M55.2 196.1h0M62.2 192.1h0M66.3 187.5h0M70.2 200.2h0M57.1 196.1h0M68.0 202.2h0M60.9 197.9h0M61.2 188.8h0M56.2 209.2h0M67.9 187.5h0M61.1 208.5h0M62.1 197.3h0M63.0 195.0h0M52.8 199.2h0M65.9 206.9h0M65.2 212.2h0M54.1 212.5h0M67.3 198.7h0M62.5 206.0h0M55.3 187.8h0M63.8 202.9h0M63.6 205.0h0M60.5 195.4h0M63.9 205.2h0M65.9 197.0h0M66.4 207.7h0M67.0 189.1h0M53.0 202.5h0M70.4 204.1h0M60.1 213.2h0M55.2 208.5h0M59.5 207.1h0M52.5 201.0h0M52.5 208.8h0M58.2 209.9h0M60.6 188.0h0M59.5 198.7h0M58.8 207.0h0M51.0 199.5h0M52.5 198.8h0M68.0 187.7h0M63.2 204.5h0M61.0 213.2h0M68.2 204.4h0M63.6 193.4h0M56.5 205.1h0M67.2 196.9h0M63.9 196.3h0M67.6 206.0h0M67.4 210.4h0M66.1 186.9h0M68.1 209.4h0M52.7 196.8h0M63.8 195.6h0M57.6 200.1h0M66.1 193.0h0M51.3 193.3h0M68.2 207.2h0M61.0 190.0h0M60.2 194.6h0M68.0 206.2h0M67.4 197.3h0M55.5 208.8h0M58.0 207.5h0M68.9 207.9h0M52.9 199.7h0M53.5 195.5h0M63.8 197.8h0M63.8 191.4h0M54.8 190.3h0M62.6 197.6h0M58.7 210.7h0M50.3 197.5h0M57.0 202.8h0M52.7 209.7h0M58.8 189.4h0M58.5 197.5h0M57.7 197.7h0M68.2 206.1h0M58.2 212.5h0M68.6 202.1h0M63.0 187.2h0M69.0 196.0h0M59.8 198.0h0M62.1 194.1h0M56.5 198.9h0M69.9 197.2h0M55.5 200.5h0M68.8 193.3h0M56.9 198.0h0M64.7 193.4h0M62.8 199.2h0M65.2 207.2h0M61.0 191.3h0M52.1 208.7h0M63.4 193.8h0M62.9 208.3h0M64.4 201.4h0M53.5 194.4h0M52.6 196.5h0M52.4 213.0h0M63.7 206.9h0M63.1 194.2h0M68.8 193.8h0M56.8 203.5h0M52.0 191.0h0M61.4 195.1h0M66.5 209.1h0M65.6 207.7h0M60.5 187.3h0M55.6 200.0h0M63.8 198.0h0M67.0 207.5h0M53.9 198.1h0M64.5 193.5h0M66.2 210.5h0M57.1 204.1h0M57.9 194.7h0M52.3 205.9h0M54.3 191.2h0M63.9 211.4h0M54.8 198.3h0M68.3 205.8h0M56.4 208.9h0M65.3 200.4h0M56.3 202.0h0M64.7 190.5h0M58.9 203.0h0M54.7 201.5h0M53.2 211.5h0M55.4 196.7h0M51.9 192.0h0M68.0 198.2h0M68.1 208.8h0M65.9 187.3h0M64.8 202.3h0M65.6 207.1h0M63.1 199.3h0M54.3 192.1h0M55.5 207.0h0M58.4 194.1h0M53.4 199.9h0M57.7 198.3h0M61.6 206.4h0M51.9 191.1h0M68.3 204.6h0M64.5 194.3h0M53.5 195.3h0M64.5 187.8h0M50.6 203.9h0M50.8 201.2h0M52.4 210.2h0M64.8 198.2h0M61.0 197.2h0M56.6 188.4h0M65.2 210.6h0M64.0 189.9h0M51.1 207.7h0M54.8 201.4h0M65.2 211.4h0M62.1 201.0h0M57.9 205.7h0M60.6 194.9h0M61.1 192.6h0M53.1 210.1h0M67.9 199.5h0M61.7 197.0h0M64.2 210.3h0M61.9 192.4h0M62.7 211.5h0M64.4 212.5h0M66.5 196.2h0M54.1 207.6h0M50.0 208.5h0M64.0 208.9h0M62.3 209.8h0M60.5 203.3h0M52.3 192.7h0M55.9 213.5h0M63.5 203.2h0M61.2 191.0h0M56.6 213.1h0M53.6 208.1h0M50.5 197.5h0M52.6 195.9h0M58.7 192.4h0M56.5 210.2h0M70.4 199.3h0M68.2 207.3h0M60.9 210.5h0M53.6 188.9h0M56.6 194.4h0M62.4 197.5h0M56.8 191.9h0M57.8 209.5h0M68.1 202.3h0M58.9 193.7h0M64.2 192.2h0M57.9 203.5h0M66.9 212.0h0M54.5 212.7h0M53.5 212.9h0M51.8 196.6h0M57.9 206.5h0M64.5 201.5h0M59.8 202.6h0M67.1 205.9h0M61.7 194.8h0M59.4 194.9h0M60.4 197.9h0M63.1 210.3h0M54.5 197.4h0M52.3 205.5h0M63.1 202.4h0M55.0 194.1h0M56.0 213.4h0M58.9 204.6h0M69.4 204.8h0M56.4 199.4h0M56.5 208.8h0M54.5 205.1h0M57.2 202.5h0M55.8 196.4h0M67.3 209.0h0M59.0 189.4h0M66.8 187.7h0M59.0 211.2h0M67.3 205.5h0M52.2 198.3h0M57.4 212.7h0M60.2 199.0h0M68.5 197.0h0M69.5 202.6h0M54.2 203.8h0M60.0 210.8h0M64.9 210.5h0M58.0 193.6h0M60.9 198.7h0M62.5 188.5h0M64.0 197.0h0M58.8 208.5h0M55.4 206.9h0M65.7 195.6h0M56.7 201.1h0M52.6 196.6h0M67.6 208.8h0M57.7 195.5h0M68.0 194.0h0M57.7 208.9h0M63.4 208.2h0M64.9 206.6h0M60.2 188.8h0M67.2 214.2h0M61.7 192.3h0M52.1 200.8h0M53.8 198.5h0M52.5 196.2h0M59.8 188.7h0M68.5 194.4h0M61.0 213.7h0M57.5 199.8h0M52.3 192.3h0M57.5 189.7h0M52.7 204.0h0M58.4 209.9h0M57.0 193.6h0M69.5 207.9h0M68.4 188.6h0M50.8 205.9h0M58.0 189.3h0M63.9 200.3h0M58.1 200.3h0M56.0 210.1h0M61.1 208.8h0M55.0 204.8h0M51.7 194.0h0M65.2 206.3h0M62.6 203.7h0M55.6 204.7h0M58.3 207.2h0M57.9 194.6h0M65.0 213.1h0M68.0 200.1h0M56.7 195.1h0M67.6 200.4h0M58.8 213.8h0M60.4 207.2h0M54.2 190.2h0M51.9 194.9h0M54.3 205.8h0M58.8 202.8h0M59.2 201.3h0M66.4 187.7h0M57.0 192.6h0M63.1 209.1h0M54.8 194.0h0M60.5 201.9h0M50.8 206.7h0M68.9 201.9h0M57.5 208.7h0M62.2 204.7h0M61.4 195.7h0M59.6 202.6h0M55.0 206.0h0M66.5 188.5h0M59.6 214.6h0M52.8 204.8h0M59.1 211.5h0M61.5 187.4h0M55.4 187.3h0M54.8 210.7h0M65.0 194.2h0M63.2 212.7h0M66.0 208.9h0M51.2 204.3h0M67.2 199.9h0M65.1 212.5h0M52.1 203.8h0M68.9 208.0h0M52.8 195.5h0" stroke="#00FFFF" stroke-width="0.7" stroke-linecap="round" fill="none" opacity="0.6"/>
<path d="M75.4 190.1h0M88.9 201.7h0M88.3 201.6h0M84.4 203.5h0M86.6 203.4h0M79.1 200.2h0M89.0 200.5h0M69.9 192.7h0M76.6 200.7h0M88.4 202.3h0M87.9 207.4h0M74.7 190.4h0M77.3 200.5h0M84.6 196.5h0M81.9 202.1h0M70.8 193.0h0M71.0 192.2h0M74.7 187.9h0M80.5 192.1h0M76.2 190.0h0M88.5 204.6h0M86.2 202.0h0M83.8 196.5h0M84.9 201.1h0M71.2 187.9h0M84.6 205.0h0M85.3 195.8h0M72.8 186.4h0M81.5 193.2h0M87.4 206.6h0M78.8 194.4h0M77.0 191.2h0M74.7 199.7h0M88.2 206.1h0M85.0 196.5h0M83.9 204.4h0M76.4 197.8h0M81.2 194.0h0M83.8 205.5h0M78.9 192.1h0M73.0 195.3h0M81.0 200.2h0M76.8 198.5h0M78.0 190.7h0M78.1 189.2h0M70.4 192.1h0M87.9 198.4h0M79.8 192.7h0M77.2 189.5h0M76.9 197.9h0M83.3 195.4h0M83.6 204.9h0M85.7 195.4h0M91.0 205.0h0M84.8 199.1h0M74.1 188.6h0M76.9 194.0h0M79.0 189.3h0M72.5 195.3h0M76.2 187.2h0M86.3 203.3h0M77.0 190.5h0M82.0 199.1h0M79.7 189.5h0M79.2 197.9h0M79.1 197.7h0M73.1 192.7h0M76.4 197.5h0M82.6 201.9h0M81.3 196.2h0M93.3 206.9h0M70.7 191.7h0M73.5 190.5h0M73.9 197.7h0M88.7 200.2h0M89.2 208.2h0M80.2 197.2h0M73.5 194.9h0M83.7 196.4h0M79.8 190.2h0M79.9 194.4h0M83.5 204.9h0M85.2 199.8h0M83.2 202.4h0M70.7 187.9h0M71.4 192.2h0M77.0 200.6h0M78.6 201.4h0M78.6 191.5h0M88.4 199.7h0M91.3 210.4h0M87.3 202.4h0M75.9 198.1h0M91.6 205.5h0M82.1 194.6h0M71.6 187.5h0M90.3 203.8h0M87.8 203.9h0M78.0 194.5h0M77.1 193.8h0M72.0 195.5h0M79.5 193.1h0M71.6 192.6h0M83.5 201.9h0M83.7 205.1h0M89.9 209.0h0M84.9 205.1h0M70.9 193.6h0M82.1 205.7h0M84.7 197.0h0M75.6 193.8h0M80.4 193.8h0M82.2 200.3h0M83.8 204.3h0M87.7 207.1h0M79.2 197.2h0M90.1 200.1h0M69.3 192.5h0M89.9 203.7h0M69.5 191.4h0M72.0 187.3h0M78.8 195.8h0M74.8 186.1h0M75.2 194.1h0M90.3 208.8h0M80.6 196.0h0M81.7 201.2h0M85.4 205.7h0M79.8 199.1h0M89.5 205.1h0M85.0 201.0h0M77.0 192.2h0M89.2 205.4h0M76.0 191.6h0M89.3 206.3h0M78.8 188.6h0M76.3 197.5h0M81.8 193.5h0M78.3 195.3h0M81.5 199.9h0M91.3 209.7h0M75.1 191.6h0M87.6 202.8h0M71.2 188.8h0M70.4 189.6h0M87.6 203.4h0M87.1 199.6h0M87.4 206.5h0M72.4 189.1h0M74.9 193.7h0M83.4 198.6h0M78.6 198.4h0M82.5 201.9h0M76.5 192.7h0M89.7 202.6h0M83.2 196.3h0M73.9 194.4h0M81.3 198.6h0M77.0 192.8h0M81.6 202.8h0M71.3 191.8h0M81.7 192.9h0M88.6 208.1h0M73.6 193.4h0M72.7 188.1h0M89.4 203.5h0M69.2 187.2h0M70.9 188.8h0M81.4 202.2h0M88.5 204.4h0M72.7 187.7h0M82.5 204.0h0M82.2 198.9h0M74.4 192.1h0M84.8 199.5h0M82.5 205.1h0M75.6 187.9h0M87.5 204.2h0M73.6 192.8h0M77.9 195.3h0M90.0 202.0h0M76.2 196.6h0M92.7 209.4h0M81.9 197.0h0M87.4 202.3h0M71.5 187.2h0M84.3 194.4h0M73.5 195.0h0M73.4 189.6h0M77.5 194.2h0M71.9 189.6h0M81.1 196.6h0M85.2 196.2h0M78.3 197.0h0M80.5 196.9h0M78.8 199.1h0M84.9 202.4h0M85.9 206.4h0M86.7 203.9h0M81.0 195.0h0M81.1 193.3h0M77.3 198.9h0M90.1 203.1h0M87.8 204.8h0M73.6 199.4h0M72.9 190.0h0M85.4 201.2h0M70.2 188.3h0M77.6 198.4h0M82.8 196.1h0M87.9 199.7h0M85.0 205.8h0M77.3 199.9h0M86.4 207.0h0M73.5 190.8h0M71.7 190.8h0M81.1 203.3h0M87.1 202.7h0M78.8 190.2h0M84.5 195.9h0M90.3 206.6h0M75.2 198.7h0M83.1 202.8h0M83.5 196.9h0M86.6 199.3h0M69.9 187.6h0M81.3 195.2h0M74.0 190.6h0M72.6 193.1h0M84.4 204.4h0M91.0 204.5h0M84.1 203.9h0M82.6 199.5h0M80.6 197.8h0M75.3 197.5h0M86.6 199.2h0M80.1 189.6h0M71.5 191.6h0M88.7 202.2h0M81.5 199.0h0M75.7 196.7h0M70.2 187.1h0M85.3 197.7h0M75.7 187.6h0M86.8 206.4h0M77.1 195.2h0M78.1 193.4h0M72.0 191.4h0M75.7 190.5h0M85.7 200.2h0M79.9 190.9h0M73.9 195.7h0M75.8 194.3h0M73.7 191.4h0M80.9 196.9h0M91.1 209.4h0M80.9 198.5h0M72.6 192.9h0M83.0 197.2h0M75.1 196.2h0M72.5 195.1h0M76.6 199.1h0M87.5 202.3h0M74.9 198.1h0M78.7 188.5h0M89.3 206.9h0M90.8 205.1h0M76.4 192.4h0M85.2 205.6h0M83.8 204.3h0M71.2 187.4h0M80.9 198.1h0M68.9 191.7h0M79.5 198.5h0M73.4 191.6h0M77.3 189.5h0M84.2 194.7h0M72.0 190.6h0M88.2 206.6h0M80.8 198.3h0M89.7 207.0h0M80.7 199.5h0M71.4 191.6h0M86.3 203.3h0M72.6 188.5h0M85.3 198.9h0M85.7 197.5h0M69.2 187.2h0M70.2 187.8h0M73.7 189.3h0M85.0 200.7h0M81.6 198.5h0M80.1 190.9h0M83.3 202.0h0M75.9 194.4h0M83.7 203.6h0M82.7 200.7h0M76.3 189.5h0M87.4 204.9h0M71.5 195.4h0M82.7 198.6h0M84.6 198.3h0M84.8 198.4h0M77.4 190.7h0M80.4 201.7h0M87.7 204.9h0M85.3 204.1h0M86.3 196.5h0M87.2 202.5h0M76.0 190.6h0M76.8 201.3h0M75.1 194.0h0M78.9 190.4h0M82.4 200.7h0M88.9 200.9h0M77.7 196.6h0M69.9 190.7h0M78.4 195.5h0M74.4 190.5h0M80.5 198.3h0M78.7 193.5h0M74.2 196.1h0M86.4 201.9h0M80.3 196.4h0M87.3 206.9h0M70.6 191.8h0M74.0 193.5h0M87.2 203.2h0M74.6 187.3h0M83.7 197.8h0M71.5 193.4h0M89.8 206.8h0M78.6 199.6h0M75.8 198.4h0M86.4 204.6h0M84.0 192.5h0M88.5 200.3h0M86.8 203.7h0M78.8 192.1h0M89.1 204.4h0M84.3 205.1h0M71.3 192.8h0M80.6 197.1h0M79.7 192.2h0M86.9 205.3h0M71.7 189.9h0M76.5 188.4h0M72.7 189.8h0M85.2 196.8h0M72.0 187.8h0M92.2 205.9h0M81.7 201.5h0M73.2 193.9h0M82.8 202.9h0M85.4 200.9h0M81.0 196.2h0M88.1 207.2h0M77.7 187.8h0M84.9 201.5h0M87.6 200.7h0M77.2 194.7h0M74.2 200.6h0M86.2 206.8h0M84.1 195.2h0M77.7 199.3h0" stroke="#F08080" stroke-width="0.7" stroke-linecap="round" fill="none" opacity="0.6"/>
<path d="M40.4 212.7h0M33.8 210.5h0M37.6 212.9h0M32.5 216.8h0M42.6 228.3h0M28.8 214.2h0M34.3 226.2h0M35.7 223.7h0M32.3 212.6h0M35.9 215.1h0M29.5 209.5h0M45.0 221.8h0M28.1 211.4h0M42.3 220.1h0M40.5 214.8h0M38.7 220.0h0M41.5 220.1h0M27.9 210.2h0M31.3 221.5h0M29.7 220.9h0M30.7 221.2h0M31.6 222.2h0M33.5 220.3h0M41.8 227.9h0M39.5 221.4h0M36.5 224.4h0M36.0 223.1h0M43.9 217.2h0M32.5 212.7h0M43.0 219.0h0M37.0 209.3h0M32.6 216.3h0M41.1 213.3h0M30.9 213.4h0M40.3 224.2h0M30.5 214.3h0M43.9 216.7h0M35.2 221.2h0M43.2 213.5h0M28.5 222.9h0M26.6 215.1h0M31.5 219.7h0M33.8 213.5h0M41.2 221.3h0M40.5 213.9h0M33.8 207.4h0M40.7 226.8h0M40.6 213.2h0M28.8 220.3h0M30.8 209.6h0M33.9 225.5h0M42.1 225.3h0M39.9 211.3h0M31.5 209.8h0M31.7 220.1h0M32.6 216.6h0M35.4 215.0h0M33.4 218.4h0M31.8 215.9h0M42.0 213.1h0M42.9 220.2h0M28.5 213.6h0M36.4 226.5h0M28.7 222.1h0M43.5 221.3h0M36.0 227.3h0M42.7 225.4h0M39.2 225.0h0M28.4 211.1h0M44.0 215.7h0M34.5 224.7h0M38.8 213.4h0M32.4 210.0h0M35.0 227.3h0M42.1 213.1h0M42.8 214.5h0M32.7 219.3h0M43.0 218.5h0M32.3 213.6h0M43.6 220.6h0M31.3 211.0h0M43.4 222.9h0M31.1 213.9h0M36.3 211.3h0M28.9 213.4h0M27.0 212.7h0M34.0 223.8h0M27.8 208.6h0M41.6 224.8h0M33.1 209.3h0M26.7 216.9h0M33.9 217.6h0M34.9 217.3h0M31.3 206.6h0M35.9 215.8h0M35.9 223.0h0M38.1 218.8h0M40.2 223.1h0M33.5 213.3h0M33.2 213.4h0M29.0 207.9h0M38.8 216.6h0M29.9 221.9h0M38.9 215.2h0M30.1 222.9h0M26.4 210.9h0M36.9 215.3h0M30.3 217.9h0M28.2 215.0h0M40.2 217.0h0M40.3 222.4h0M39.3 218.7h0M37.4 223.2h0M37.3 226.9h0M42.8 222.1h0M31.5 208.5h0M35.7 223.8h0M44.7 225.0h0M36.4 220.0h0M42.9 220.0h0M26.1 216.3h0M27.3 219.3h0M39.9 212.3h0M40.2 217.3h0M32.1 218.2h0M43.1 226.2h0M39.8 227.0h0M44.4 225.2h0M42.4 218.6h0M32.5 224.3h0M34.1 216.3h0M29.7 209.8h0M32.8 207.9h0M28.5 209.5h0M44.6 225.2h0M37.8 217.5h0M38.4 210.6h0M36.2 215.9h0M44.3 220.0h0M37.5 216.7h0M37.1 218.8h0M25.8 215.6h0M34.2 210.0h0M30.9 207.3h0M43.0 219.5h0M35.5 208.1h0M29.9 208.7h0M28.2 214.5h0M40.8 216.2h0M37.0 219.3h0M37.0 225.7h0M32.9 210.0h0M34.0 210.3h0M41.1 225.1h0M32.3 213.2h0M29.8 212.2h0M29.2 221.5h0M37.1 212.3h0M28.0 214.1h0M39.6 222.6h0M33.4 222.6h0M28.2 217.4h0M31.3 221.7h0M34.6 213.2h0M40.1 211.7h0M35.3 215.1h0M31.0 222.3h0M44.6 222.3h0M28.1 213.2h0M32.6 219.2h0M45.8 222.7h0M25.7 216.2h0M40.5 215.0h0M28.9 222.6h0M35.8 210.3h0M45.0 225.6h0M43.5 221.8h0M36.9 221.8h0M38.6 213.8h0M38.4 207.9h0M35.6 221.4h0M30.5 216.2h0M27.0 209.9h0M31.4 212.9h0M38.6 215.0h0M37.9 214.8h0M33.3 209.2h0M35.5 218.5h0M33.3 211.4h0M35.3 218.5h0M32.2 212.4h0M39.2 227.6h0M25.3 217.6h0M38.3 216.8h0M38.0 209.5h0M40.4 214.1h0M35.1 218.8h0M35.6 219.0h0M28.6 215.8h0M30.1 205.3h0M35.2 209.1h0M31.7 211.7h0M30.1 216.3h0M41.7 213.0h0M43.9 225.0h0M37.9 223.6h0M44.0 220.6h0M27.6 208.9h0M36.2 226.1h0M45.1 221.9h0M35.0 210.0h0M39.1 217.0h0M31.3 218.6h0M30.0 217.4h0M36.5 220.0h0M29.8 211.7h0M38.7 215.3h0M25.9 213.5h0M45.5 224.8h0M43.8 224.3h0M34.7 220.2h0M38.5 226.1h0M33.8 214.0h0M33.0 213.5h0M39.1 220.7h0M32.0 215.2h0M31.4 212.1h0M40.4 224.0h0M32.6 224.5h0M32.7 223.5h0M40.2 226.2h0M36.5 209.0h0M34.8 209.2h0M41.7 216.9h0M38.0 227.9h0M39.2 227.2h0M43.9 227.4h0M43.2 221.0h0M36.2 221.6h0M39.5 211.6h0M30.4 220.5h0M37.2 219.3h0M39.7 214.2h0M28.8 212.7h0M37.0 221.3h0M36.3 217.8h0M43.0 227.6h0M27.0 210.4h0M28.0 211.2h0M34.6 223.0h0M32.3 220.5h0M44.6 227.0h0M29.3 219.4h0M36.4 225.6h0M46.0 217.6h0M42.5 214.5h0M39.9 219.9h0M33.6 208.7h0M41.9 221.9h0M40.0 210.8h0M28.9 220.6h0M41.1 214.4h0M42.3 214.7h0M39.0 226.0h0M30.1 214.7h0M34.1 224.2h0M30.8 208.5h0M33.0 221.7h0M33.5 208.1h0M41.8 217.6h0M41.3 226.6h0M28.1 212.9h0M41.8 213.1h0M40.1 225.8h0M31.5 216.8h0M37.1 220.3h0M41.4 228.0h0M29.4 208.0h0M32.1 207.3h0M35.8 223.1h0M34.1 212.0h0M31.1 222.1h0M36.2 209.5h0M35.8 216.9h0M42.9 216.9h0M41.6 219.4h0M28.7 211.1h0M35.1 217.0h0M40.5 223.7h0M38.7 218.7h0M26.8 213.2h0M35.3 216.6h0M37.7 211.5h0M42.4 228.0h0M29.0 217.3h0M26.2 216.7h0M31.6 215.1h0M39.7 221.2h0M30.1 220.3h0M41.0 224.3h0M37.6 209.1h0M37.6 206.2h0M42.1 218.0h0M30.2 213.5h0M42.7 220.3h0M43.1 221.9h0M33.2 215.1h0M37.1 225.3h0M37.4 222.3h0M40.5 219.6h0M34.8 211.5h0M29.7 214.4h0M25.5 215.4h0M29.5 222.2h0M35.3 218.8h0M38.2 213.5h0M37.1 225.5h0M33.4 207.5h0M27.6 214.2h0M35.5 214.4h0M45.3 217.2h0M40.9 215.3h0M39.7 222.4h0M33.8 211.6h0M29.3 221.1h0M39.2 217.3h0M37.8 212.4h0M41.2 216.1h0M38.7 224.6h0M35.5 226.3h0M31.9 220.3h0M31.5 208.7h0M41.5 212.5h0M45.9 220.9h0M39.1 216.4h0M34.6 220.4h0M34.5 217.3h0M41.9 226.7h0M32.1 223.3h0M44.0 223.4h0M41.8 217.8h0M44.8 223.7h0M43.5 225.4h0M29.9 210.5h0M36.8 218.5h0M40.5 228.2h0M38.8 216.4h0M30.7 220.3h0M28.8 221.3h0M45.4 227.6h0M43.9 221.2h0M30.4 209.2h0M37.9 212.5h0M33.8 226.2h0M31.8 223.7h0M34.0 221.6h0M31.8 213.1h0M30.9 220.8h0M41.2 226.3h0M32.9 222.7h0M44.7 217.8h0M35.0 222.8h0M30.2 218.8h0M32.8 224.3h0M44.6 220.4h0M39.9 213.8h0M30.9 225.6h0M29.6 209.4h0M31.4 206.2h0M34.6 220.0h0M29.4 213.9h0M40.3 225.7h0M36.7 226.5h0M42.4 212.3h0M41.0 223.7h0M40.4 211.1h0M26.8 218.3h0M31.8 214.5h0M33.1 223.2h0M44.2 227.3h0M44.9 228.1h0M33.8 214.4h0M39.5 210.1h0M39.9 215.6h0M33.9 221.9h0M35.6 208.1h0M38.9 222.1h0M35.9 219.0h0M43.6 219.7h0M34.9 209.7h0M38.2 217.0h0M32.3 207.1h0M41.5 226.5h0M32.0 222.0h0M39.0 210.1h0M38.2 216.7h0M40.4 220.6h0M41.6 226.8h0M30.0 209.4h0M33.2 222.2h0M38.5 211.0h0" stroke="#D2B48C" stroke-width="0.7" stroke-linecap="round" fill="none" opacity="0.6"/>
<path d="M67.4 229.6h0M63.0 223.1h0M67.3 224.9h0M53.8 214.5h0M69.2 221.0h0M58.1 218.4h0M59.3 216.6h0M46.5 215.5h0M51.7 215.4h0M55.1 231.4h0M59.8 222.7h0M49.2 228.7h0M72.4 227.9h0M69.4 231.1h0M47.7 224.6h0M48.7 217.0h0M66.5 226.4h0M52.2 220.9h0M61.4 215.9h0M60.5 221.4h0M55.9 233.1h0M49.6 222.1h0M58.7 231.5h0M52.9 217.9h0M68.0 231.2h0M53.3 216.4h0M70.4 229.0h0M68.4 228.7h0M66.8 222.8h0M59.5 221.5h0M61.6 218.7h0M58.2 222.9h0M71.6 227.5h0M57.3 227.3h0M48.9 224.1h0M68.2 216.7h0M69.7 224.4h0M53.1 224.9h0M54.5 230.2h0M62.4 225.4h0M70.8 230.9h0M69.5 224.7h0M48.9 225.1h0M55.4 218.5h0M60.0 225.0h0M65.6 232.7h0M69.1 218.1h0M70.8 232.8h0M63.0 219.2h0M67.6 226.6h0M69.0 233.1h0M52.9 225.4h0M62.4 227.2h0M61.9 224.2h0M67.1 225.8h0M53.2 217.9h0M50.9 222.2h0M65.6 220.4h0M68.4 233.3h0M54.1 221.4h0M65.2 226.7h0M58.5 215.0h0M57.0 224.5h0M52.4 220.3h0M51.0 214.6h0M69.6 222.8h0M65.4 227.0h0M58.2 232.4h0M64.0 220.6h0M70.4 232.8h0M49.2 225.1h0M60.9 227.8h0M72.1 230.8h0M58.7 218.2h0M66.9 220.6h0M51.2 218.5h0M65.7 218.3h0M61.6 230.8h0M54.3 228.3h0M57.6 222.9h0M66.9 218.1h0M60.4 231.6h0M50.2 223.9h0M49.0 219.4h0M50.5 225.0h0M70.9 227.4h0M65.7 228.1h0M66.5 216.1h0M50.7 217.5h0M56.2 223.0h0M53.9 224.2h0M57.3 230.0h0M47.1 217.9h0M63.2 214.5h0M59.6 226.1h0M49.0 222.5h0M46.2 218.1h0M51.2 227.8h0M65.6 222.0h0M50.0 224.3h0M60.8 222.7h0M61.0 229.6h0M60.1 220.7h0M71.3 232.3h0M55.6 228.1h0M45.0 222.6h0M63.2 218.7h0M55.5 218.9h0M49.6 220.4h0M66.5 221.5h0M51.8 222.7h0M63.9 227.0h0M46.7 217.3h0M60.2 221.4h0M48.7 217.1h0M53.4 215.3h0M64.5 215.3h0M49.7 217.8h0M48.3 221.9h0M52.0 226.8h0M61.5 230.2h0M73.4 224.5h0M60.7 214.7h0M55.1 225.8h0M60.0 230.5h0M67.4 230.8h0M67.6 229.8h0M64.5 220.6h0M64.4 230.4h0M60.2 221.0h0M63.2 214.1h0M52.8 225.9h0M50.8 227.0h0M66.4 216.7h0M52.1 223.1h0M71.5 219.8h0M60.3 233.1h0M63.7 215.7h0M69.9 223.1h0M66.5 223.1h0M46.2 219.2h0M62.5 230.9h0M66.6 218.3h0M63.9 216.7h0M68.0 227.8h0M63.4 233.5h0M57.7 223.1h0M50.8 214.7h0M65.2 230.8h0M52.3 224.6h0M66.7 225.7h0M67.3 223.1h0M70.2 221.4h0M52.3 217.6h0M67.4 221.5h0M53.0 229.8h0M70.5 228.9h0M63.6 228.1h0M50.3 214.8h0M51.2 230.8h0M63.3 232.3h0M59.1 228.2h0M56.7 224.7h0M46.9 226.4h0M65.2 233.6h0M64.4 225.0h0M67.6 220.8h0M51.5 215.7h0M69.9 230.9h0M51.4 228.9h0M53.6 226.8h0M67.5 232.1h0M65.7 225.7h0M67.8 232.7h0M69.0 226.4h0M54.0 224.2h0M48.0 226.5h0M68.6 229.7h0M56.5 229.7h0M71.2 225.3h0M48.8 229.3h0M52.3 221.6h0M51.9 222.3h0M66.3 225.2h0M52.4 219.5h0M66.7 226.8h0M50.5 217.6h0M55.8 220.6h0M68.3 225.3h0M58.7 228.3h0M60.5 224.5h0M46.4 222.9h0M49.0 221.6h0M54.4 223.5h0M60.7 219.7h0M58.1 224.0h0M62.1 221.8h0M60.4 229.6h0M64.6 222.8h0M69.0 222.1h0M47.2 225.6h0M44.1 222.2h0M47.8 222.5h0M57.3 231.0h0M56.4 231.0h0M55.7 213.8h0M59.9 232.4h0M44.6 223.5h0M59.6 226.9h0M53.1 225.6h0M60.2 222.1h0M55.3 217.4h0M44.6 219.5h0M56.7 221.0h0M59.9 229.8h0M49.2 225.0h0M59.5 215.7h0M69.8 227.5h0M47.4 217.1h0M59.5 218.6h0M63.4 219.7h0M60.0 220.8h0M45.2 220.9h0M59.0 231.9h0M59.8 223.9h0M65.4 216.6h0M56.9 223.1h0M56.8 222.3h0M50.0 222.2h0M66.1 228.7h0M51.8 220.1h0M63.6 220.1h0M52.8 219.8h0M57.9 225.2h0M70.3 221.1h0M56.6 230.9h0M52.2 222.5h0M64.8 231.0h0M68.5 223.5h0M62.2 227.5h0M52.1 221.0h0M46.4 221.2h0M66.2 215.7h0M60.3 223.3h0M52.7 230.8h0M55.4 226.3h0M65.9 233.3h0M49.0 216.3h0M61.5 232.5h0M56.3 217.8h0M62.0 224.1h0M67.2 230.7h0M62.2 229.3h0M45.0 222.9h0M53.6 228.0h0M64.1 225.6h0M48.6 227.1h0M48.1 221.1h0M63.0 227.7h0M54.9 227.2h0M53.5 223.8h0M71.4 228.4h0M46.7 223.7h0M65.5 223.7h0M57.6 214.9h0M52.9 214.1h0M54.3 220.7h0M64.5 223.5h0M49.2 216.3h0M60.0 218.7h0M61.9 226.3h0M70.9 231.1h0M47.0 220.2h0M55.5 222.1h0M49.8 225.1h0M63.0 232.6h0M57.3 221.7h0M70.1 220.7h0M52.6 229.0h0M69.3 219.6h0M61.7 218.5h0M64.3 228.3h0M62.9 221.7h0M55.0 217.2h0M67.7 222.9h0M66.2 222.0h0M61.1 220.8h0M63.5 225.7h0M68.0 216.2h0M61.2 219.3h0M65.2 225.0h0M60.2 220.9h0M56.8 222.1h0M54.6 226.4h0M54.5 214.4h0M67.8 228.9h0M61.5 232.3h0M54.7 232.1h0M48.1 218.7h0M54.0 214.5h0M51.9 217.3h0M66.4 233.4h0M68.5 225.3h0M58.0 219.9h0M64.1 217.4h0M53.7 213.7h0M47.9 225.6h0M45.2 224.0h0M50.0 221.6h0M68.1 228.6h0M63.1 223.9h0M66.9 221.7h0M49.8 224.1h0M59.3 220.5h0M60.0 229.7h0M62.5 215.7h0M64.3 225.9h0M52.3 225.3h0M68.7 231.9h0M64.9 217.5h0M55.8 229.7h0M53.2 224.7h0M70.5 221.5h0M67.1 226.0h0M53.4 222.5h0M64.5 227.4h0M54.6 225.2h0M64.8 214.5h0M69.8 227.9h0M68.8 215.4h0M54.9 227.2h0M64.6 228.1h0M68.3 233.2h0M50.6 216.0h0M63.5 215.0h0M63.0 222.7h0M59.8 218.5h0M68.6 219.1h0M65.7 214.8h0M59.1 219.2h0M70.7 228.8h0M45.5 221.8h0M63.4 223.4h0M64.1 216.7h0M63.5 226.4h0M65.5 226.6h0M59.1 221.0h0M47.5 223.4h0M61.1 219.1h0M68.9 217.8h0M65.4 234.5h0M50.8 216.0h0M66.7 231.0h0M54.1 226.0h0M56.0 224.7h0M55.3 220.2h0M58.2 216.9h0M64.6 216.5h0M66.5 219.5h0M53.2 215.6h0M57.6 219.2h0M64.7 229.4h0M55.1 229.7h0M61.3 231.0h0M54.3 220.1h0M46.4 217.7h0M60.1 222.6h0M52.6 220.4h0M53.2 217.0h0M67.1 233.1h0M65.1 226.4h0M58.0 216.4h0M67.4 216.9h0M45.2 221.3h0M58.4 232.4h0M58.5 219.0h0M55.3 214.0h0M63.1 226.3h0M61.7 228.5h0M55.3 226.3h0M46.0 217.8h0M72.6 225.2h0M49.1 216.1h0M47.4 216.7h0M51.2 219.1h0M65.1 228.2h0M68.0 218.8h0M52.4 220.5h0M50.8 223.2h0M65.3 233.9h0M67.7 231.5h0M65.2 230.4h0M70.8 228.5h0M59.9 227.6h0M63.1 224.1h0M46.2 222.4h0M55.2 230.2h0M48.8 227.4h0M67.7 228.1h0M66.3 220.1h0M68.1 229.2h0M66.3 217.0h0M56.2 218.0h0M53.8 229.2h0M61.6 228.7h0M58.2 230.5h0M59.0 224.3h0M50.1 221.5h0M67.1 228.7h0M45.7 220.2h0M67.5 231.7h0M56.5 215.7h0M64.4 216.0h0M62.5 231.7h0M54.2 218.8h0M68.4 220.5h0M57.7 222.1h0M71.6 228.8h0M65.0 232.5h0M66.9 216.9h0M59.3 230.3h0M70.5 219.0h0M62.4 231.0h0M49.7 224.6h0M57.0 217.8h0M55.4 230.6h0M67.2 229.9h0M68.5 223.9h0M48.5 217.4h0M52.8 221.0h0M66.5 226.0h0M65.1 225.8h0M51.7 215.4h0M46.2 224.6h0M70.8 223.9h0M71.3 226.7h0M51.6 217.7h0M56.9 228.6h0M60.5 226.6h0M60.8 226.3h0M58.7 217.1h0M59.2 220.8h0M69.5 231.6h0M52.9 214.5h0M48.2 228.9h0M68.7 223.5h0M66.6 217.6h0M61.6 219.4h0M65.3 224.0h0M51.6 219.1h0M69.8 229.4h0M68.1 234.3h0M53.8 221.8h0M69.2 228.9h0M67.6 219.5h0M67.9 223.4h0M63.8 224.1h0M66.8 223.5h0M66.0 217.0h0M64.3 231.9h0M45.3 226.0h0M54.8 220.0h0M68.7 219.3h0M48.7 222.2h0M67.8 220.0h0M69.6 230.6h0M66.2 216.3h0M62.6 217.4h0M59.9 227.4h0M52.4 219.0h0M54.2 219.0h0M56.3 217.2h0M61.4 217.4h0M59.4 220.1h0M68.4 223.3h0M60.9 228.0h0M49.1 215.5h0M51.9 216.5h0M50.2 228.5h0M55.1 215.3h0M48.3 225.7h0M57.5 224.4h0M70.2 219.5h0M58.2 227.6h0M72.6 220.6h0M62.6 226.8h0M62.7 225.5h0M58.3 230.4h0M68.5 217.1h0M62.9 223.9h0M58.5 224.3h0M51.2 222.8h0M70.5 227.3h0M71.5 229.9h0M64.3 227.4h0M58.5 218.1h0M45.3 217.3h0M67.8 222.2h0M65.7 214.7h0M71.0 231.2h0" stroke="#8FBC8F" stroke-width="0.7" stroke-linecap="round" fill="none" opacity="0.6"/>
<path d="M73.0 173.2h0M69.9 170.0h0M74.7 183.4h0M68.8 174.3h0M74.1 184.0h0M69.9 169.4h0M74.9 179.2h0M70.3 171.6h0M71.7 183.0h0M71.4 168.1h0M69.0 174.0h0M73.8 170.3h0M73.6 180.1h0M72.1 182.0h0M75.9 169.7h0M69.2 169.4h0M76.4 172.8h0M73.0 176.7h0M74.5 181.9h0M74.2 171.5h0M75.4 181.8h0M74.0 171.0h0M70.4 178.5h0M68.5 172.6h0M69.3 176.2h0M70.3 173.5h0M74.9 170.5h0M76.3 179.9h0M71.3 174.8h0M68.6 169.0h0M75.3 177.4h0M71.5 180.1h0M74.3 171.9h0M69.7 179.0h0M70.9 172.0h0M73.8 179.1h0M71.2 178.8h0M72.6 171.5h0M74.2 169.1h0M71.4 170.0h0M74.1 181.5h0M72.9 174.6h0M73.1 178.2h0M71.1 168.4h0M73.6 170.8h0M70.7 180.2h0M73.1 174.0h0M68.6 168.6h0M75.5 175.9h0M69.2 175.4h0M72.2 180.2h0M73.6 174.4h0M75.6 174.0h0M68.2 171.5h0M72.7 167.9h0M71.8 176.7h0M76.9 177.9h0M74.2 180.2h0M76.3 178.7h0M75.1 181.0h0M70.7 177.4h0M75.0 169.6h0M75.7 174.9h0M74.4 179.9h0M75.3 181.1h0M70.9 171.6h0M73.1 178.0h0M72.0 181.8h0M74.2 171.7h0M68.6 176.3h0M72.1 181.9h0M76.1 180.8h0M68.6 171.9h0M72.6 178.6h0M70.8 176.0h0M71.4 169.5h0M76.0 184.0h0M76.2 174.1h0M74.7 171.8h0M73.9 178.4h0M72.7 177.7h0M73.8 178.8h0M70.7 181.1h0M70.7 173.1h0M69.4 171.0h0M72.3 170.6h0M73.5 171.0h0M72.3 177.8h0M73.4 169.0h0M70.2 168.9h0M73.6 179.0h0M69.7 168.3h0M69.1 177.7h0M74.6 176.3h0M72.3 169.6h0M73.6 170.8h0M75.2 181.1h0M70.6 169.3h0M71.9 171.0h0M76.3 171.5h0M74.1 182.8h0M77.2 179.8h0M71.0 176.2h0M70.0 172.9h0M75.4 179.1h0M77.1 181.0h0M74.1 180.3h0M73.2 179.9h0M71.1 180.0h0M69.9 173.3h0M74.3 168.5h0M75.2 178.3h0M75.6 178.1h0M69.4 168.2h0M71.9 177.4h0M73.8 177.2h0M72.7 178.5h0M71.0 169.1h0M74.2 168.9h0M71.4 173.9h0M68.0 169.3h0M75.4 169.9h0M67.7 171.9h0M73.0 177.1h0M72.9 183.3h0M71.2 176.9h0M75.8 176.2h0M76.5 178.9h0M71.6 177.9h0M72.7 180.8h0M69.0 172.7h0M73.1 173.7h0M74.0 169.2h0M71.9 171.2h0M71.5 178.0h0M74.5 182.5h0M70.0 174.4h0M71.2 176.3h0M73.5 178.8h0M73.4 180.8h0M70.4 169.8h0M71.6 178.3h0M70.1 168.2h0M70.8 176.5h0M75.4 182.1h0M75.5 174.9h0M75.0 182.7h0M72.8 168.6h0M70.9 171.7h0M73.1 172.7h0M73.2 173.1h0M72.2 173.5h0M72.7 167.6h0M73.8 180.6h0M71.7 175.7h0M74.5 178.5h0M72.5 176.3h0M75.6 176.3h0M68.6 170.2h0M73.6 184.4h0M71.4 183.0h0M73.1 177.9h0M76.8 176.9h0M73.5 172.6h0M72.9 173.3h0M75.1 180.4h0M70.0 168.4h0M72.7 182.4h0M73.3 171.8h0M71.4 170.6h0M71.4 180.9h0M73.5 169.5h0M69.6 176.1h0M69.1 178.1h0M71.5 177.4h0M71.3 173.3h0M75.1 177.4h0M69.7 177.5h0M68.7 172.2h0M69.2 174.6h0M75.3 183.7h0M71.2 172.5h0M73.9 176.3h0M71.6 173.6h0M75.8 179.1h0M72.5 184.0h0M74.4 169.9h0M74.4 172.5h0M74.1 183.9h0M70.9 178.4h0M75.5 179.7h0M73.9 175.5h0M72.9 181.1h0M73.4 174.1h0M75.8 173.6h0M70.4 175.9h0M72.0 176.1h0M68.1 172.0h0M75.9 175.0h0M69.0 170.2h0M72.1 182.2h0M75.7 178.6h0M74.9 172.6h0M69.7 172.4h0M72.7 184.5h0M73.7 181.8h0M74.4 177.9h0M76.4 178.8h0M76.1 176.9h0M69.1 172.5h0M67.4 170.5h0M73.3 171.7h0M71.0 167.2h0M69.6 177.4h0M68.1 168.5h0M70.9 175.7h0" stroke="#FF00FF" stroke-width="0.7" stroke-linecap="round" fill="none" opacity="0.6"/>
<path d="M103.8 248.4h0M107.4 243.3h0M102.1 253.2h0M102.6 251.5h0M100.2 250.1h0M101.0 255.9h0M102.1 246.4h0M100.6 253.0h0M94.5 246.4h0M98.4 250.1h0M104.5 246.4h0M102.7 249.0h0M106.9 246.3h0M98.6 250.3h0M103.7 248.2h0M106.5 246.3h0M103.5 249.1h0M104.6 246.0h0M97.1 246.5h0M97.8 246.7h0M100.7 246.2h0M97.7 245.9h0M97.5 245.8h0M104.5 246.1h0M97.4 250.9h0M97.1 252.3h0M107.4 246.4h0M107.5 242.2h0M100.1 251.4h0M107.9 242.8h0M100.4 250.6h0M105.1 249.8h0M108.2 244.7h0M99.0 251.8h0M100.9 254.3h0M96.8 245.8h0M104.6 244.9h0M97.5 251.8h0M98.1 246.2h0M100.1 249.8h0M104.9 245.3h0M96.6 242.5h0M102.0 244.4h0M97.2 252.6h0M105.0 247.9h0M101.6 244.7h0M104.4 244.5h0M96.8 243.6h0M105.5 246.2h0M95.9 250.4h0M104.1 242.1h0M103.0 250.8h0M101.8 244.1h0M106.2 245.0h0M107.7 243.9h0M100.8 255.4h0M99.5 245.7h0M96.9 252.5h0M100.9 242.8h0M101.9 248.5h0M100.0 248.5h0M95.8 242.0h0M99.9 252.9h0M100.8 251.5h0M108.1 242.2h0M96.5 248.0h0M99.8 247.5h0M103.9 248.9h0M100.4 256.7h0M96.9 250.8h0M106.6 243.1h0M105.5 246.7h0M104.6 244.8h0M95.6 244.4h0M94.3 244.7h0M107.3 242.5h0M97.0 249.6h0M97.0 247.1h0M99.6 244.5h0M96.3 244.0h0M106.6 245.2h0M98.6 248.9h0M99.8 254.0h0M105.0 244.7h0M100.4 249.7h0" stroke="#b545b5" stroke-width="0.7" stroke-linecap="round" fill="none" opacity="0.6"/>
<path d="M123.8 226.4h0M127.9 225.4h0M123.6 234.9h0M126.4 225.1h0M119.9 222.5h0M123.0 230.2h0M123.1 225.6h0M125.6 229.7h0M120.7 222.0h0M126.6 223.5h0M124.8 229.5h0M117.4 223.4h0M130.2 223.0h0M127.6 223.2h0M125.4 226.2h0M130.3 223.0h0M122.7 228.2h0M129.3 222.8h0M121.0 224.5h0M122.6 225.9h0M122.5 229.5h0M124.0 229.4h0M129.2 223.6h0M117.6 223.2h0M122.4 230.2h0M136.2 222.3h0M133.7 223.5h0M133.6 222.1h0M116.3 224.3h0M118.9 224.9h0M123.5 223.1h0M127.2 222.7h0M123.6 221.9h0M125.2 228.4h0M125.4 228.7h0M116.6 222.8h0M124.1 230.2h0M124.9 228.1h0M124.5 225.5h0M125.1 232.2h0M123.8 230.6h0M125.0 231.7h0M124.6 224.0h0M124.0 224.5h0M134.3 221.8h0M128.4 222.9h0M126.5 226.7h0M124.6 231.5h0M123.1 226.6h0M125.9 227.1h0M129.0 224.9h0M131.5 223.5h0M120.1 223.0h0M122.7 224.3h0M122.7 233.2h0M119.9 223.4h0M118.8 223.6h0M123.4 226.7h0M134.5 223.6h0M127.6 224.1h0M126.7 225.8h0M122.0 223.0h0M125.1 230.3h0M124.0 233.4h0M127.1 225.9h0M130.0 221.3h0M119.7 223.9h0M125.2 231.6h0M125.8 229.4h0M124.9 225.6h0M124.0 225.3h0M120.6 226.2h0M120.9 224.7h0M115.8 223.4h0M122.1 224.2h0M135.5 223.5h0M125.9 226.6h0M124.2 233.6h0M124.7 232.6h0M128.5 224.6h0M130.0 223.1h0M125.4 227.8h0M126.6 230.0h0" stroke="#B0C4DE" stroke-width="0.7" stroke-linecap="round" fill="none" opacity="0.6"/>
<path d="M124.6 220.5h0M118.3 213.3h0M118.5 214.9h0M124.0 218.4h0M126.5 219.9h0M120.9 220.9h0M124.2 220.9h0M122.5 216.2h0M120.8 215.8h0M118.7 215.3h0M120.7 220.7h0M120.2 219.1h0M120.1 214.6h0M123.8 218.6h0M120.3 219.0h0M119.7 219.7h0M123.4 218.1h0M120.9 216.2h0M120.4 217.5h0M125.6 218.9h0M122.5 215.4h0M119.8 220.0h0M119.8 214.8h0M121.1 219.4h0M122.5 217.6h0M118.7 215.0h0M119.1 217.5h0M121.0 220.7h0M119.9 217.5h0M122.0 218.8h0M121.5 216.8h0M121.0 218.9h0M124.9 220.9h0M119.6 216.0h0M118.6 214.1h0M119.9 217.7h0M121.1 216.1h0M123.9 217.8h0M124.4 217.4h0M119.5 216.7h0M121.4 216.0h0M118.2 216.5h0M116.9 213.5h0M123.1 220.9h0M119.2 215.4h0M123.4 218.0h0M125.6 219.6h0M121.3 216.0h0M119.9 218.5h0M118.7 214.5h0M124.0 219.6h0M127.1 220.0h0M119.1 214.8h0M120.7 215.2h0M125.1 220.0h0M118.7 217.7h0M123.2 218.0h0M116.6 213.3h0M119.8 216.5h0M122.0 220.9h0M119.2 215.0h0M122.4 218.0h0M120.0 216.5h0M121.0 215.5h0M123.6 219.4h0M121.0 217.2h0" stroke="#FFD700" stroke-width="0.7" stroke-linecap="round" fill="none" opacity="0.6"/>
<path d="M58.4 153.5h0M63.9 159.3h0M64.3 154.2h0M68.8 159.3h0M54.6 151.7h0M61.2 154.4h0M56.4 161.2h0M56.5 162.7h0M54.6 154.2h0M59.9 158.6h0M55.0 157.3h0M64.9 159.4h0M55.6 162.8h0M62.5 162.5h0M57.1 149.7h0M60.3 151.7h0M56.0 150.9h0M56.7 166.9h0M57.6 157.6h0M55.2 164.5h0M61.0 155.4h0M57.9 162.5h0M66.4 158.6h0M58.2 163.2h0M66.7 162.0h0M62.1 163.7h0M56.1 154.2h0M62.2 151.8h0M53.6 151.6h0M61.0 160.4h0M55.9 157.4h0M61.5 162.8h0M54.2 161.9h0M60.6 164.8h0M63.8 156.7h0M63.4 152.8h0M62.9 165.2h0M58.7 155.0h0M58.0 162.6h0M56.8 162.8h0" stroke="#9cc4f0" stroke-width="0.6" stroke-linecap="round" fill="none" opacity="0.6"/>
<path d="M41.2 207.1h0M50.0 198.7h0M51.1 209.1h0M46.0 195.6h0M50.3 198.6h0M44.1 196.5h0M47.2 195.3h0M45.6 198.5h0M46.4 203.6h0M48.1 207.8h0M48.0 213.9h0M41.7 212.4h0M50.2 195.0h0M51.6 196.4h0M43.8 209.3h0M43.2 212.7h0M52.4 211.8h0M48.9 211.1h0M46.3 210.7h0M45.0 208.7h0M47.8 195.0h0M48.5 215.9h0M49.5 195.2h0M51.1 197.1h0M44.3 196.6h0M48.7 212.2h0M44.8 208.3h0M54.1 197.0h0M50.8 192.9h0M45.4 209.1h0M47.6 198.6h0M46.4 210.9h0M47.5 209.7h0M49.6 192.0h0M46.4 194.1h0M52.8 191.3h0M42.0 212.2h0M47.5 199.5h0M51.6 202.5h0M50.1 192.3h0M50.9 198.1h0M47.0 203.8h0M44.9 194.0h0M45.1 211.6h0M52.5 187.3h0M48.1 214.0h0M44.8 194.2h0M49.1 201.4h0M50.4 196.0h0M49.8 217.0h0M42.8 208.1h0M47.8 197.4h0M49.3 204.1h0M49.6 195.6h0M41.4 209.9h0M43.4 199.4h0M46.5 210.6h0M51.1 213.4h0M50.7 203.1h0M48.1 195.5h0M45.1 213.7h0M44.2 204.2h0M49.4 197.4h0M48.9 194.2h0M45.7 199.9h0M48.7 192.8h0M47.3 198.8h0M51.4 191.4h0M49.9 203.4h0M41.6 214.8h0M47.5 193.4h0M52.8 197.9h0M49.7 197.3h0M45.9 213.1h0M46.9 205.3h0M40.5 212.8h0M49.9 195.0h0M48.6 210.4h0M47.4 198.2h0M51.5 195.4h0M46.9 205.2h0M45.8 212.5h0M45.7 191.2h0M46.0 191.5h0M51.3 199.0h0M46.5 209.1h0M43.0 200.2h0M43.1 209.5h0M41.1 205.7h0M47.8 209.8h0M52.0 211.0h0M46.2 207.8h0M49.4 199.3h0M49.7 193.5h0M47.8 187.8h0M44.5 212.3h0M43.3 213.0h0M43.5 202.5h0M51.4 203.3h0M47.4 203.7h0M44.6 195.8h0M53.7 195.7h0M44.3 205.6h0M49.4 195.5h0M43.6 206.9h0M52.6 204.1h0M49.2 203.3h0M48.0 207.7h0M47.7 199.7h0M49.3 206.3h0M51.7 203.9h0M44.4 199.5h0M49.0 200.4h0M51.9 197.2h0M49.7 193.6h0M50.7 198.9h0M49.1 209.6h0M53.2 205.1h0M46.1 211.3h0M50.3 193.4h0M43.8 211.0h0M50.5 200.8h0M49.3 194.1h0M53.0 208.1h0M51.2 199.8h0M51.3 200.1h0M45.5 211.6h0M46.1 201.8h0M51.0 196.3h0M45.9 210.4h0M42.5 209.6h0M48.1 213.9h0M41.9 202.7h0M48.2 197.8h0M50.4 202.9h0M40.4 204.4h0M49.7 187.9h0M48.9 193.3h0M47.9 211.6h0M50.9 196.5h0M48.8 211.0h0M51.2 189.6h0M51.5 202.1h0M44.2 194.8h0M50.3 203.4h0M50.6 209.9h0M54.4 194.4h0M44.7 207.5h0M48.5 201.7h0M52.7 210.6h0" stroke="#86c0ee" stroke-width="0.65" stroke-linecap="round" fill="none" opacity="0.75"/>
<path d="M49.7 210.7h0M51.3 193.4h0M46.1 209.4h0M50.8 202.8h0M47.3 199.9h0M46.1 194.7h0M46.1 209.2h0M46.3 199.6h0M45.7 212.8h0M51.9 186.4h0M46.3 208.0h0M49.9 189.3h0M44.9 194.8h0M44.8 211.7h0M48.7 209.9h0M44.3 197.5h0M48.6 209.5h0M49.1 210.7h0M49.1 211.7h0M45.0 203.7h0M43.8 211.6h0M45.3 199.2h0M51.6 188.9h0M50.0 197.7h0M49.8 192.1h0M41.8 205.6h0M48.8 214.7h0M40.6 204.9h0M47.9 208.9h0M48.9 190.3h0M44.4 210.4h0M48.7 199.1h0M44.2 205.2h0M48.8 200.8h0M50.3 208.0h0M49.4 195.8h0M42.4 198.6h0M42.7 209.7h0M49.0 209.7h0M45.6 207.9h0M48.7 188.0h0M46.0 200.0h0M49.5 204.3h0M43.6 211.9h0M44.3 208.7h0M43.3 205.1h0M47.7 196.3h0M51.2 202.0h0M43.3 211.2h0M48.3 206.8h0M41.0 210.3h0M40.4 209.7h0M51.0 211.6h0M47.0 208.4h0M46.7 198.3h0M45.5 192.8h0M49.0 203.0h0M42.0 205.1h0M50.4 210.1h0M46.5 211.0h0M43.4 203.7h0M47.3 195.5h0M49.9 207.0h0M53.4 190.4h0M50.5 214.8h0M47.5 202.2h0M44.5 203.5h0M52.0 209.5h0M45.8 214.4h0M45.4 210.9h0" stroke="#6fe0ee" stroke-width="0.65" stroke-linecap="round" fill="none" opacity="0.7"/>
<path d="M45.4 195.7h0M46.0 212.5h0M47.5 205.3h0M40.6 205.0h0M52.0 189.3h0M42.4 204.3h0M50.3 188.8h0M46.2 204.5h0M54.7 204.7h0M52.3 206.3h0M45.8 196.0h0M44.3 192.8h0M47.1 200.8h0M47.2 192.4h0M47.2 203.3h0M50.8 192.4h0M47.2 203.6h0M43.6 210.5h0M46.1 210.3h0M42.6 212.0h0M51.7 209.6h0M42.6 208.2h0M47.2 207.1h0M50.5 198.8h0M53.9 190.4h0M45.5 216.4h0M43.0 197.0h0M45.7 216.1h0M51.2 191.6h0M49.8 199.5h0M49.8 194.0h0M46.3 198.9h0M42.5 210.6h0M42.4 198.5h0M51.4 195.5h0M44.0 200.2h0M42.5 203.2h0M50.3 209.3h0M48.7 194.0h0M42.5 201.8h0" stroke="#5a8fc4" stroke-width="0.65" stroke-linecap="round" fill="none" opacity="0.7"/>
<path d="M70.6 159.6h0M73.7 157.8h0M68.4 160.4h0M64.9 164.7h0M79.3 152.8h0M66.5 163.9h0M78.1 154.3h0M72.1 159.0h0M69.6 161.1h0M75.5 155.6h0M68.6 160.7h0M66.6 162.9h0M78.1 153.1h0M66.9 162.2h0M78.0 154.1h0M70.0 160.4h0M73.2 156.3h0M74.7 154.9h0M67.4 162.1h0M69.8 160.1h0M73.0 157.2h0M65.4 164.2h0M66.1 164.2h0M65.6 163.2h0M78.2 152.7h0M76.2 154.6h0M79.0 152.9h0M68.8 161.8h0M73.5 156.9h0M70.5 159.7h0M76.8 154.4h0M69.7 160.8h0M75.9 154.3h0M74.1 156.7h0M68.9 160.8h0M66.5 164.4h0M71.7 158.9h0M79.8 151.7h0M77.3 154.8h0M74.6 155.9h0M70.3 157.6h0M72.9 158.4h0M77.1 155.0h0M75.3 153.8h0M70.1 161.0h0M75.6 155.8h0M76.3 155.3h0M69.3 161.2h0M69.9 159.5h0M75.2 155.7h0M69.3 160.1h0M77.1 153.6h0M73.6 156.8h0M72.0 158.0h0M73.4 157.4h0M67.1 162.4h0M69.3 160.3h0M75.2 155.7h0M71.5 158.8h0M77.7 153.4h0M76.1 154.7h0M66.9 161.6h0M69.5 160.7h0M72.4 158.1h0M68.6 159.4h0M65.4 163.5h0M71.1 159.4h0M68.1 160.9h0M71.4 157.8h0M71.6 159.4h0M71.8 157.6h0M67.7 161.8h0M76.1 155.7h0M77.1 153.3h0M73.7 158.2h0M65.6 164.1h0M71.9 158.0h0M73.1 158.3h0M69.4 160.7h0M74.8 155.5h0M65.4 164.5h0M74.5 156.5h0M68.4 160.1h0M70.9 158.1h0M65.4 162.4h0M66.7 163.7h0M75.1 157.0h0M70.8 159.1h0M70.8 159.3h0M68.8 160.1h0M73.2 157.0h0M70.3 160.5h0M72.3 158.4h0M77.8 152.8h0M65.1 162.9h0M72.8 157.4h0M76.3 154.6h0M78.6 152.3h0M72.4 159.0h0M71.5 158.3h0M74.6 155.2h0M67.6 160.5h0M71.7 158.0h0M76.8 154.8h0M74.1 157.4h0M65.3 163.8h0M75.4 155.6h0M66.2 163.6h0M77.1 154.4h0M68.3 161.8h0M72.0 157.7h0M72.6 157.9h0M74.8 157.5h0M72.1 158.4h0M71.6 159.0h0M78.4 152.4h0M70.2 159.3h0M74.4 157.8h0M78.0 153.2h0M77.1 155.4h0M68.8 161.3h0M79.4 151.8h0M65.3 164.4h0M71.0 159.0h0M75.7 156.1h0M74.6 155.4h0M69.7 159.0h0M71.3 158.2h0M67.2 164.0h0M77.8 153.6h0M74.5 155.1h0M73.7 156.8h0M75.6 155.4h0M73.4 158.1h0M66.5 163.9h0M69.4 161.2h0M76.3 153.8h0M75.6 156.5h0M70.6 159.7h0M76.2 153.8h0M69.9 160.2h0M78.4 153.3h0M77.4 153.1h0M66.8 163.7h0M69.1 159.4h0M68.5 162.7h0M78.4 152.9h0M77.4 152.8h0M68.2 161.3h0M65.7 163.9h0" stroke="#000" stroke-width="0.85" stroke-linecap="round" fill="none" opacity="0.95"/>
<path d="M73.1 156.3h0M72.8 158.7h0M74.9 155.3h0M75.7 155.2h0M76.6 152.6h0M77.0 153.7h0M72.0 159.5h0M73.4 156.3h0M70.7 159.7h0M70.4 160.5h0M77.8 153.0h0M75.0 156.4h0M70.1 158.6h0M71.2 158.5h0M76.8 154.9h0M76.0 153.6h0M77.1 153.1h0M69.8 158.7h0M76.7 155.2h0M71.6 158.1h0M73.7 156.6h0M73.0 157.0h0M74.8 155.7h0M71.1 158.6h0M73.0 156.2h0M75.0 155.3h0M74.9 155.1h0M75.6 155.8h0M77.9 153.8h0M75.8 155.0h0M72.6 155.5h0M76.8 153.4h0M74.9 155.5h0M75.8 157.0h0M71.2 158.2h0M77.0 154.4h0M78.7 154.3h0M70.4 159.7h0M71.1 159.3h0M73.2 156.8h0M78.0 152.7h0M75.2 155.6h0M71.9 156.3h0M73.9 156.8h0M71.1 158.7h0M76.5 154.1h0M71.9 158.5h0M75.3 155.0h0M74.7 156.4h0M70.8 158.0h0M76.7 152.5h0M76.0 154.5h0M73.6 156.4h0M76.2 153.7h0M74.2 156.6h0M71.7 158.8h0M74.5 155.7h0M72.3 158.3h0M75.5 155.3h0M75.3 155.1h0M74.6 156.8h0M77.4 154.1h0M71.6 156.4h0M73.3 157.4h0M75.6 156.1h0M71.3 160.4h0M75.6 154.6h0M75.3 155.0h0M76.6 153.0h0M76.3 156.1h0" stroke="#000" stroke-width="0.85" stroke-linecap="round" fill="none" opacity="0.95"/>
<path d="M64.3 164.8h0M64.7 164.9h0M64.8 162.8h0M63.8 166.6h0M65.4 166.8h0M65.2 166.1h0M64.2 164.8h0M63.4 165.4h0M64.1 164.3h0M65.7 164.4h0M64.1 164.3h0M65.4 165.2h0M65.6 164.5h0M66.1 164.5h0M65.4 166.6h0M65.6 164.7h0M66.8 165.5h0M64.9 165.3h0M65.4 164.6h0M66.6 164.6h0M64.4 166.0h0M66.0 164.5h0M63.1 165.6h0M64.0 164.6h0M64.0 164.6h0" stroke="#0a5050" stroke-width="0.8" stroke-linecap="round" fill="none" opacity="0.9"/>
<path d="M71.9 224.0h0M72.7 225.9h0M73.3 225.4h0M71.6 222.8h0M75.0 229.2h0M71.7 224.6h0M74.2 227.3h0M68.5 217.8h0M75.2 230.6h0M74.7 227.7h0M70.4 220.7h0M73.3 226.8h0M70.9 222.1h0M68.9 218.1h0M71.9 224.4h0M71.3 224.0h0M73.8 226.3h0M72.8 224.6h0M74.9 229.4h0M71.7 224.3h0M69.4 219.3h0M68.9 219.1h0M74.9 229.1h0M73.5 226.1h0M74.0 228.1h0M70.7 222.4h0M70.2 222.3h0M69.9 219.1h0M71.2 224.2h0M73.8 228.1h0M73.3 226.2h0M73.8 227.0h0M68.2 217.3h0M74.2 226.9h0M73.3 227.2h0M71.8 223.5h0M69.1 218.6h0M72.4 224.9h0M71.3 222.6h0M72.6 226.5h0M73.3 228.0h0M71.6 223.4h0M70.0 220.8h0M73.6 226.5h0M72.7 224.7h0M69.6 219.6h0M70.2 219.9h0M74.1 227.1h0M69.1 217.3h0M74.1 228.4h0M72.6 225.1h0M73.8 227.8h0M72.4 225.1h0M70.7 222.4h0M68.3 217.7h0M69.3 219.8h0M71.8 225.2h0M72.0 223.3h0M72.4 224.3h0M71.2 223.1h0M68.3 218.6h0M72.4 223.5h0M74.6 228.2h0M72.1 224.0h0M70.6 221.1h0M71.0 221.9h0M74.9 229.3h0M68.5 217.7h0M70.4 222.5h0M72.9 225.6h0" stroke="#6B8E23" stroke-width="0.7" stroke-linecap="round" fill="none" opacity="0.9"/>
<path d="M98.7 216.5h0M99.5 217.9h0M101.2 217.0h0M97.2 215.5h0M100.0 217.6h0M97.1 215.5h0M100.0 218.4h0M99.1 216.6h0M99.3 214.2h0M99.1 215.5h0M102.1 217.5h0M95.8 218.8h0M97.5 217.0h0M99.7 216.2h0M99.8 219.4h0M98.4 214.9h0M99.9 217.8h0M99.4 214.7h0M99.6 214.4h0M101.0 215.2h0M98.2 217.6h0M99.7 216.9h0M100.7 216.3h0M98.7 217.1h0M101.1 215.7h0M98.3 218.4h0M97.1 216.7h0M97.9 217.2h0M99.5 215.0h0M100.8 216.5h0M98.9 215.1h0M99.3 217.4h0M99.4 214.6h0M100.3 217.5h0M98.1 217.8h0M99.2 217.3h0M98.1 218.1h0M100.0 218.4h0M100.6 216.2h0M96.3 216.0h0M99.7 216.0h0M99.1 216.5h0M100.4 216.3h0M98.4 216.3h0M99.4 218.7h0M97.7 216.6h0M100.5 216.0h0M102.6 218.4h0M99.8 215.2h0M101.5 216.5h0M101.6 217.2h0M99.1 217.4h0M99.5 215.0h0M99.7 214.9h0M100.9 215.1h0M98.5 215.5h0M100.4 218.0h0M98.3 216.4h0M100.3 217.0h0M99.4 215.5h0M97.1 215.9h0M98.9 217.3h0M100.1 217.0h0M99.2 216.2h0M99.8 217.7h0M102.5 215.8h0M97.7 215.9h0M98.4 216.0h0M98.4 215.8h0M99.4 217.5h0M98.8 214.7h0M99.1 217.1h0M98.3 214.3h0M98.4 214.4h0M102.1 216.5h0M102.9 216.9h0M99.2 216.4h0M99.6 214.0h0M97.1 218.0h0M98.9 217.9h0M100.5 215.5h0M100.0 218.1h0M99.1 215.8h0M101.9 216.6h0M103.5 215.6h0M99.2 215.3h0M98.0 214.7h0M100.3 216.2h0M100.6 217.3h0M98.3 216.1h0" stroke="#FF4500" stroke-width="0.8" stroke-linecap="round" fill="none" opacity="0.95"/>
<path d="M123.7 242.1h0M123.3 238.0h0M124.6 229.7h0M124.8 230.0h0M124.9 230.1h0M124.2 240.3h0M124.9 226.1h0M124.7 232.7h0M124.2 236.5h0M123.7 238.7h0M124.4 231.6h0M124.3 235.3h0M123.5 241.8h0M125.1 227.2h0M124.8 226.4h0M124.1 235.9h0M124.1 234.8h0M124.4 243.7h0M124.4 238.0h0M124.0 239.0h0M124.5 233.2h0M123.9 236.9h0M124.3 236.8h0M123.8 239.1h0M124.2 236.6h0M124.4 228.9h0M124.5 229.9h0M124.2 238.5h0M124.9 229.1h0M124.4 235.6h0M124.0 240.4h0M125.1 228.0h0M124.3 242.1h0M124.7 229.2h0M125.0 228.9h0M124.8 226.3h0M123.3 242.2h0M124.9 230.8h0M124.2 232.7h0M124.7 234.7h0M124.5 231.8h0M124.1 237.6h0M123.3 244.0h0M124.4 235.0h0M124.0 229.5h0" stroke="#008B8B" stroke-width="0.7" stroke-linecap="round" fill="none" opacity="0.9"/>
<path d="M118.1 236.1h0M117.8 238.9h0M118.8 235.3h0M121.0 230.1h0M119.7 234.1h0M121.0 228.2h0M119.9 230.3h0M117.9 238.2h0M117.7 237.4h0M117.6 239.0h0M117.2 239.0h0M120.1 232.3h0M120.5 231.4h0M119.5 232.1h0M119.6 230.8h0M117.5 239.1h0M120.4 230.3h0M118.7 233.3h0M121.0 228.3h0M120.0 231.8h0M120.7 228.3h0M117.9 237.1h0M117.8 238.6h0M117.6 239.2h0M116.1 243.5h0" stroke="#008B8B" stroke-width="0.6" stroke-linecap="round" fill="none" opacity="0.8"/>
<circle cx="147.3" cy="181.9" r="2.7" fill="#d96a6a" opacity="0.5"/>
<path d="M144.6 181.3h0M149.7 183.0h0M145.2 181.1h0M144.6 182.9h0M146.5 179.2h0M146.4 179.8h0M145.5 183.4h0M149.7 181.0h0M146.4 184.2h0M147.2 179.3h0M144.5 181.9h0M145.2 180.8h0M148.4 184.2h0M145.2 182.4h0M146.3 184.4h0M144.9 180.5h0M146.1 180.6h0M146.7 184.0h0M147.4 179.3h0M149.4 181.8h0M149.3 183.4h0M149.4 180.3h0M144.9 181.1h0M145.2 180.3h0" stroke="#b03a3a" stroke-width="0.6" stroke-linecap="round" fill="none" opacity="0.8"/>
<circle cx="150.9" cy="181.1" r="2.7" fill="#d96a6a" opacity="0.5"/>
<path d="M150.7 183.4h0M153.0 183.0h0M149.3 179.0h0M150.0 178.7h0M151.3 183.4h0M153.8 180.7h0M152.7 183.3h0M149.2 182.7h0M149.0 183.2h0M152.4 183.2h0M148.6 182.0h0M151.7 178.4h0M152.0 179.0h0M152.5 183.0h0M153.6 180.4h0M153.3 180.1h0M150.4 183.2h0M149.5 183.0h0M153.1 179.8h0M152.4 179.3h0M150.3 178.7h0M152.6 183.2h0M151.9 179.0h0M151.2 178.9h0" stroke="#b03a3a" stroke-width="0.6" stroke-linecap="round" fill="none" opacity="0.8"/>
<circle cx="154.5" cy="180.6" r="2.7" fill="#d96a6a" opacity="0.5"/>
<path d="M154.8 182.7h0M154.0 178.2h0M156.3 182.5h0M153.0 182.5h0M153.6 178.1h0M152.8 181.8h0M152.0 178.9h0M155.0 178.2h0M152.2 180.0h0M152.3 179.8h0M152.3 181.5h0M155.3 178.6h0M152.4 181.4h0M152.6 178.9h0M154.6 183.3h0M156.2 182.0h0M154.9 178.0h0M153.5 182.8h0M153.3 177.8h0M152.9 182.7h0M155.3 178.0h0M156.2 178.7h0M152.0 181.2h0M155.0 178.2h0" stroke="#b03a3a" stroke-width="0.6" stroke-linecap="round" fill="none" opacity="0.8"/>
<circle cx="149.1" cy="186.2" r="2.7" fill="#d96a6a" opacity="0.5"/>
<path d="M148.6 183.8h0M149.9 188.5h0M147.7 188.6h0M146.9 185.1h0M146.9 187.0h0M151.3 184.1h0M146.5 187.4h0M148.7 188.8h0M151.5 186.0h0M146.2 186.2h0M151.2 187.7h0M151.2 187.5h0M147.8 184.1h0M151.0 184.2h0M151.0 187.9h0M148.0 184.1h0M148.7 188.1h0M147.5 184.0h0M148.2 188.6h0M151.3 184.6h0M146.7 187.1h0M151.8 186.3h0M146.7 185.0h0M146.6 186.1h0" stroke="#b03a3a" stroke-width="0.6" stroke-linecap="round" fill="none" opacity="0.8"/>
<circle cx="152.7" cy="185.3" r="2.7" fill="#d96a6a" opacity="0.5"/>
<path d="M155.2 185.6h0M155.2 184.9h0M151.7 187.8h0M152.0 182.8h0M154.0 187.9h0M150.7 187.5h0M150.8 187.2h0M150.7 186.4h0M154.7 186.7h0M151.4 187.5h0M150.3 185.8h0M150.2 186.5h0M150.1 185.7h0M150.2 186.0h0M152.1 187.8h0M154.1 183.0h0M150.4 185.4h0M154.0 187.1h0M152.5 182.9h0M154.2 183.7h0M151.5 183.3h0M153.5 187.0h0M155.2 185.6h0M152.7 187.6h0" stroke="#b03a3a" stroke-width="0.6" stroke-linecap="round" fill="none" opacity="0.8"/>
<circle cx="156.3" cy="186.2" r="2.7" fill="#d96a6a" opacity="0.5"/>
<path d="M157.2 188.7h0M154.9 188.3h0M153.9 184.7h0M158.8 186.2h0M156.4 183.7h0M158.2 184.8h0M158.9 186.0h0M158.8 187.1h0M153.9 184.9h0M154.1 185.1h0M155.3 183.9h0M158.5 185.0h0M155.0 187.7h0M158.5 184.9h0M157.6 188.0h0M155.2 183.9h0M158.7 186.3h0M156.5 183.8h0M157.5 184.0h0M155.3 184.3h0M157.6 184.1h0M158.9 187.4h0M159.0 185.2h0M155.0 188.8h0" stroke="#b03a3a" stroke-width="0.6" stroke-linecap="round" fill="none" opacity="0.8"/>
<circle cx="151.1" cy="190.7" r="2.7" fill="#d96a6a" opacity="0.5"/>
<path d="M152.3 187.8h0M153.3 191.9h0M148.7 191.0h0M153.0 188.9h0M148.8 189.5h0M150.2 188.5h0M149.5 188.7h0M149.2 189.7h0M148.5 190.1h0M149.5 192.4h0M149.2 191.8h0M153.5 191.5h0M150.5 188.6h0M148.8 192.2h0M153.2 188.7h0M153.0 189.6h0M148.9 191.7h0M150.3 192.8h0M152.2 192.6h0M151.1 188.4h0M148.7 191.1h0M149.1 191.4h0M150.6 188.0h0M154.0 191.6h0" stroke="#b03a3a" stroke-width="0.6" stroke-linecap="round" fill="none" opacity="0.8"/>
<circle cx="154.7" cy="191.6" r="2.7" fill="#d96a6a" opacity="0.5"/>
<path d="M152.3 193.1h0M156.4 193.5h0M152.5 193.3h0M152.5 191.9h0M154.1 189.3h0M155.8 190.3h0M154.7 194.4h0M154.0 188.9h0M156.3 190.2h0M156.3 190.0h0M155.7 193.9h0M156.9 192.0h0M154.8 194.4h0M152.9 194.0h0M157.2 192.0h0M155.0 189.0h0M153.4 193.7h0M153.6 193.5h0M156.8 191.1h0M155.8 193.6h0M156.2 193.6h0M153.0 189.4h0M155.9 193.6h0M153.5 189.3h0" stroke="#b03a3a" stroke-width="0.6" stroke-linecap="round" fill="none" opacity="0.8"/>
<circle cx="157.0" cy="190.2" r="2.7" fill="#d96a6a" opacity="0.5"/>
<path d="M158.7 188.5h0M154.8 190.5h0M158.7 191.8h0M159.5 189.9h0M156.9 187.7h0M159.0 188.8h0M154.7 189.5h0M155.2 188.2h0M154.8 191.1h0M159.3 192.1h0M159.2 190.8h0M158.7 190.8h0M154.7 189.8h0M156.6 187.6h0M159.3 189.0h0M155.5 188.0h0M155.4 192.4h0M158.8 192.5h0M157.5 192.5h0M159.8 190.5h0M156.8 187.6h0M154.7 190.9h0M157.5 193.1h0M159.8 189.8h0" stroke="#b03a3a" stroke-width="0.6" stroke-linecap="round" fill="none" opacity="0.8"/>
<circle cx="153.4" cy="195.2" r="2.7" fill="#d96a6a" opacity="0.5"/>
<path d="M154.3 197.8h0M153.0 192.6h0M154.4 197.5h0M151.8 193.7h0M154.6 197.7h0M151.3 196.8h0M155.4 193.5h0M154.2 192.9h0M151.1 193.6h0M151.2 194.4h0M155.6 195.2h0M156.2 195.6h0M151.0 195.6h0M154.4 193.1h0M155.7 195.9h0M156.2 196.0h0M155.9 194.4h0M155.8 195.0h0M155.6 194.6h0M155.2 196.7h0M151.9 197.2h0M152.2 197.0h0M151.0 195.4h0M155.8 195.0h0" stroke="#b03a3a" stroke-width="0.6" stroke-linecap="round" fill="none" opacity="0.8"/>
<path d="M139.1 181.5h0M139.6 181.7h0M139.3 180.7h0M139.9 180.3h0M140.8 180.7h0M140.9 182.9h0M139.2 183.1h0M139.7 183.1h0M140.2 180.3h0M139.6 183.9h0M138.9 182.6h0M139.4 180.7h0M139.2 181.6h0M139.1 181.8h0M139.9 182.3h0M139.8 179.4h0M139.3 180.0h0M140.8 182.8h0M139.7 182.7h0M140.8 180.7h0M139.6 181.9h0M139.9 183.2h0" stroke="#4db565" stroke-width="0.7" stroke-linecap="round" fill="none" opacity="0.75"/>
<path d="M141.6 182.0h0M139.8 182.2h0M141.4 182.4h0M144.6 183.6h0M142.1 182.7h0M142.3 182.6h0" stroke="#7fcf8f" stroke-width="0.6" stroke-linecap="round" fill="none" opacity="0.6"/>
<path d="M142.3 190.8h0M139.0 191.0h0M141.9 190.5h0M141.4 190.9h0M140.6 192.0h0M139.1 191.0h0M141.3 190.4h0M139.6 190.5h0M139.5 190.6h0M140.8 191.9h0" stroke="#aab" stroke-width="0.6" stroke-linecap="round" fill="none" opacity="0.8"/>
<path d="M143.5 254.8L145 257.5L146.6 254.8M145 257.5L145.2 260.2" stroke="#32CD32" stroke-width="0.7" fill="none" opacity="0.85"/>
<text x="37.2" y="131.9" font-size="5.8" text-anchor="middle" fill="#000" stroke="#000" stroke-width="0.15">13</text>
<text x="72.7" y="131.7" font-size="5.8" text-anchor="middle" fill="#000" stroke="#000" stroke-width="0.15">19</text>
<text x="80.6" y="151.9" font-size="5.8" text-anchor="middle" fill="#000" stroke="#000" stroke-width="0.15">2</text>
<text x="76.5" y="175.6" font-size="5.8" text-anchor="middle" fill="#000" stroke="#000" stroke-width="0.15">4</text>
<text x="61.2" y="177.8" font-size="5.8" text-anchor="middle" fill="#000" stroke="#000" stroke-width="0.15">18</text>
<text x="40.2" y="185.1" font-size="5.8" text-anchor="middle" fill="#000" stroke="#000" stroke-width="0.15">7</text>
<text x="61.2" y="201.8" font-size="5.8" text-anchor="middle" fill="#000" stroke="#000" stroke-width="0.15">12</text>
<text x="89.2" y="193.3" font-size="5.8" text-anchor="middle" fill="#000" stroke="#000" stroke-width="0.15">5</text>
<text x="25.2" y="218.1" font-size="5.8" text-anchor="middle" fill="#000" stroke="#000" stroke-width="0.15">9</text>
<text x="59.2" y="228.6" font-size="5.8" text-anchor="middle" fill="#000" stroke="#000" stroke-width="0.15">16</text>
<text x="76.8" y="223.3" font-size="5.8" text-anchor="middle" fill="#000" stroke="#000" stroke-width="0.15">10</text>
<text x="102.6" y="215.9" font-size="5.8" text-anchor="middle" fill="#000" stroke="#000" stroke-width="0.15">14</text>
<text x="124.5" y="213.5" font-size="5.8" text-anchor="middle" fill="#000" stroke="#000" stroke-width="0.15">1</text>
<text x="136.6" y="222.7" font-size="5.8" text-anchor="middle" fill="#000" stroke="#000" stroke-width="0.15">8</text>
<text x="130.2" y="241.5" font-size="5.8" text-anchor="middle" fill="#000" stroke="#000" stroke-width="0.15">20</text>
<text x="89.6" y="247.5" font-size="5.8" text-anchor="middle" fill="#000" stroke="#000" stroke-width="0.15">17</text>
<text x="147.0" y="252.3" font-size="5.8" text-anchor="middle" fill="#000" stroke="#000" stroke-width="0.15">3</text>
<text x="141.4" y="175.9" font-size="5.8" text-anchor="middle" fill="#000" stroke="#000" stroke-width="0.15">15</text>
<text x="155.4" y="177.8" font-size="5.8" text-anchor="middle" fill="#000" stroke="#000" stroke-width="0.15">6</text>
<text x="135.0" y="196.7" font-size="5.8" text-anchor="middle" fill="#000" stroke="#000" stroke-width="0.15">11</text>
<text x="88.8" y="137.5" font-size="7.2" text-anchor="middle" fill="#000" stroke="#000" stroke-width="0.15">GMP</text>
<text x="83.4" y="161.6" font-size="7.2" text-anchor="middle" fill="#000" stroke="#000" stroke-width="0.15">MEP</text>
<text x="59.7" y="184.8" font-size="7.2" text-anchor="middle" fill="#000" stroke="#000" stroke-width="0.15">GMP</text>
<text x="36.0" y="193.4" font-size="7.2" text-anchor="middle" fill="#000" stroke="#000" stroke-width="0.15">GMP</text>
<text x="64.2" y="209.0" font-size="7.2" text-anchor="middle" fill="#000" stroke="#000" stroke-width="0.15">GMP</text>
<text x="110.3" y="209.3" font-size="7.2" text-anchor="middle" fill="#000" stroke="#000" stroke-width="0.15">pDCs</text>
<text x="85.3" y="254.6" font-size="7.2" text-anchor="middle" fill="#000" stroke="#000" stroke-width="0.15">CMP</text>
<text x="139.4" y="168.8" font-size="7.2" text-anchor="middle" fill="#000" stroke="#000" stroke-width="0.15">ILCs</text>
<text x="88.8" y="173.1" font-size="5.8" text-anchor="middle" fill="#000" stroke="#000" stroke-width="0.15">LSK</text>
<text x="162.3" y="132.6" font-size="7.7" text-anchor="end" fill="#1a1a1a" font-style="italic" stroke="#1a1a1a" stroke-width="0.18">Wild type</text>
<rect x="19.8" y="122.6" width="145.8" height="139" fill="none" stroke="#2a2a2a" stroke-width="1.2"/>
<text x="180.3" y="117.0" font-size="10.5" text-anchor="start" fill="#000" font-weight="bold" stroke="#000" stroke-width="0.45" stroke-linejoin="round">C</text>
<polygon points="216.0,131.0 219.0,129.0 222.0,130.0 224.0,134.0 227.0,139.0 229.0,143.0 227.0,147.0 222.0,147.0 218.0,148.0 215.5,145.0 216.0,138.0" fill="#6495ED" opacity="0.13999999999999999" filter="url(#bl)"/>
<polygon points="236.0,138.0 240.0,134.0 244.0,133.0 245.5,137.0 245.0,142.0 242.0,145.0 238.0,146.0 235.0,149.0 233.0,147.0 234.0,142.0" fill="#4169E1" opacity="0.315" filter="url(#bl)"/>
<polygon points="233.0,176.0 240.0,175.0 242.0,181.0 242.0,188.0 236.0,189.0 229.0,190.0 225.0,188.0 227.0,182.0" fill="#00BFFF" opacity="0.27999999999999997" filter="url(#bl)"/>
<polygon points="224.0,177.5 233.0,175.5 230.0,186.0 225.0,193.0 218.0,200.0 211.0,206.0 204.0,205.0 205.0,198.0 211.0,190.0 217.0,183.0" fill="#4682B4" opacity="0.182" filter="url(#bl)"/>
<polygon points="226.0,192.0 233.0,189.5 240.0,189.0 242.0,196.0 242.5,205.0 241.5,213.5 237.0,211.5 231.0,207.0 227.0,200.0" fill="#00FFFF" opacity="0.42" filter="url(#bl)"/>
<polygon points="242.0,188.5 247.0,187.0 253.0,189.5 258.0,195.0 263.0,203.0 268.0,210.0 267.0,212.0 262.0,209.0 256.0,205.0 250.0,201.0 245.0,197.0 242.0,192.0" fill="#F08080" opacity="0.26599999999999996" filter="url(#bl)"/>
<polygon points="201.0,205.0 205.0,203.0 212.0,205.0 217.5,210.5 219.5,218.5 217.5,225.0 210.0,225.5 204.0,222.0 200.0,215.0 200.0,209.0" fill="#D2B48C" opacity="0.63" filter="url(#bl)"/>
<polygon points="218.5,216.0 227.0,211.0 236.0,214.0 242.0,216.0 245.0,224.0 245.0,231.0 240.0,235.0 232.0,233.0 224.5,228.5 219.0,223.0" fill="#8FBC8F" opacity="0.48999999999999994" filter="url(#bl)"/>
<polygon points="241.0,170.0 245.0,169.0 250.0,167.0 251.5,169.0 250.0,175.0 248.0,181.0 246.5,184.0 244.0,181.0 241.5,176.0" fill="#FF00FF" opacity="0.6649999999999999" filter="url(#bl)"/>
<polygon points="268.0,242.0 273.0,246.0 279.0,246.0 286.0,242.0 284.0,247.0 279.0,253.0 275.0,258.0 272.0,257.0 271.0,250.0" fill="#9a28a8" opacity="0.27999999999999997" filter="url(#bl)"/>
<polygon points="290.0,224.0 296.0,223.0 303.0,224.0 308.0,225.0 303.0,228.0 296.0,228.5 291.0,227.0" fill="#B0C4DE" opacity="0.27999999999999997" filter="url(#bl)"/>
<polygon points="291.0,217.0 293.0,215.0 296.0,218.0 301.0,218.0 301.5,222.0 297.0,224.0 292.0,222.5" fill="#FFD700" opacity="0.42" filter="url(#bl)"/>
<polygon points="289.0,233.0 292.0,231.0 294.0,236.0 297.0,238.0 297.5,243.0 294.0,245.5 290.0,244.0 288.5,239.0" fill="#1f9aa0" opacity="0.24499999999999997" filter="url(#bl)"/>
<polygon points="319.0,180.0 324.0,178.0 330.0,179.0 332.0,184.0 332.5,191.0 330.0,196.0 325.0,197.0 321.0,193.0 318.0,187.0" fill="#B22222" opacity="0.21" filter="url(#bl)"/>
<path d="M226.3 145.4h0M218.0 138.2h0M221.4 142.2h0M217.0 144.1h0M221.7 139.5h0M219.0 144.7h0M228.7 141.9h0M226.0 145.9h0M218.4 144.8h0M223.2 134.6h0M228.3 143.8h0M221.4 143.2h0M218.2 130.6h0M224.3 144.1h0M217.1 139.0h0M220.9 137.6h0M223.4 144.6h0M228.9 142.8h0M219.1 143.8h0M219.2 148.2h0M219.4 139.5h0M220.2 137.2h0M215.8 135.7h0M220.6 138.3h0M215.0 145.7h0M225.4 139.6h0M222.1 129.8h0M217.2 134.9h0M221.5 144.4h0M219.6 143.1h0M222.6 138.6h0M218.9 138.6h0M221.7 144.6h0M218.0 147.9h0M223.2 141.5h0M224.1 142.5h0M217.1 147.0h0M219.9 139.0h0M219.9 145.6h0M221.2 137.5h0M220.9 141.1h0M222.9 140.1h0M219.0 131.4h0M218.5 142.9h0M227.2 140.7h0M223.1 142.6h0M218.1 130.7h0M226.1 139.5h0M229.0 142.3h0M221.4 131.1h0M222.7 140.6h0M220.6 142.5h0M219.4 133.7h0M217.1 135.3h0M220.6 141.5h0M219.5 130.5h0M217.0 143.3h0M220.1 139.0h0M220.4 146.1h0M215.9 144.9h0M226.2 140.8h0M220.5 135.2h0M219.4 134.9h0M223.9 144.7h0M217.4 137.3h0M225.6 140.6h0M218.5 133.3h0M221.7 146.3h0M224.0 143.4h0M222.2 135.4h0M223.6 142.6h0M222.2 134.3h0M217.8 138.5h0M221.6 130.8h0M218.5 147.1h0M217.4 140.6h0M219.3 135.6h0M218.1 137.8h0M221.3 132.5h0M222.8 142.2h0M222.3 139.7h0M216.1 136.2h0M222.3 132.4h0M222.7 140.5h0M225.6 146.8h0M222.4 139.9h0M217.3 140.1h0M219.1 133.5h0M221.3 133.3h0M224.6 143.8h0M217.6 143.3h0M228.3 141.9h0M222.0 136.7h0M221.0 133.6h0M225.1 145.0h0M216.8 131.7h0M224.7 137.6h0M221.2 137.6h0M220.5 135.4h0M218.1 139.2h0M228.5 142.6h0M220.5 130.8h0M216.4 140.6h0M219.9 135.8h0M220.8 140.3h0M220.3 137.6h0M221.8 135.4h0M220.5 140.9h0M223.7 138.1h0M219.6 146.0h0M226.3 142.2h0M224.3 143.0h0M218.4 144.2h0M220.5 144.9h0M220.8 132.0h0M219.3 131.9h0M216.2 136.5h0M223.8 146.5h0M225.2 139.4h0M216.3 144.4h0M220.2 128.7h0M219.0 135.4h0M219.7 145.6h0M219.7 138.4h0M216.8 140.0h0M217.7 141.3h0" stroke="#6495ED" stroke-width="0.7" stroke-linecap="round" fill="none" opacity="0.85"/>
<path d="M240.9 143.9h0M234.6 141.6h0M237.5 141.4h0M242.4 143.8h0M242.7 143.7h0M240.8 142.2h0M241.7 135.0h0M243.4 141.9h0M242.9 137.5h0M236.3 138.8h0M234.5 142.1h0M241.7 145.0h0M243.9 141.7h0M237.8 145.8h0M242.3 133.7h0M238.9 136.7h0M239.1 145.3h0M239.9 137.5h0M242.0 138.5h0M237.2 142.0h0M244.3 138.0h0M237.9 142.2h0M240.4 137.8h0M237.0 139.3h0M244.7 137.7h0M241.6 134.5h0M242.6 141.5h0M234.7 146.0h0M242.2 139.9h0M234.9 141.5h0M235.5 144.7h0M239.5 134.3h0M244.7 138.5h0M237.8 143.1h0M239.7 141.9h0M237.9 143.7h0M243.0 137.7h0M243.3 137.4h0M237.3 141.9h0M237.9 138.0h0M241.3 144.1h0M238.3 136.8h0M241.2 144.9h0M235.4 145.1h0M241.7 141.0h0M239.0 145.3h0M242.5 134.7h0M244.0 137.8h0M236.3 143.0h0M244.6 138.5h0M235.4 139.9h0M238.8 143.6h0M238.1 135.9h0M243.7 143.0h0M241.4 139.3h0M238.9 135.0h0M234.4 143.5h0M240.1 137.0h0M237.6 139.7h0M243.2 140.4h0M237.1 138.6h0M244.8 134.7h0M243.5 135.5h0M239.8 143.4h0M238.0 136.4h0M243.3 135.9h0M243.1 144.1h0M245.1 136.9h0M239.9 137.6h0M236.1 138.4h0M236.8 140.6h0M239.4 140.2h0M238.3 144.8h0M241.3 141.2h0M238.1 141.4h0M242.1 140.5h0M240.3 145.1h0M238.0 143.0h0M240.1 140.5h0M244.7 141.1h0M243.0 136.7h0M239.2 142.8h0M236.1 138.7h0M239.8 145.0h0M245.3 138.5h0M240.8 134.2h0M239.2 143.0h0M240.9 141.5h0M235.2 142.8h0M233.5 144.0h0M237.4 138.4h0M235.7 145.7h0M243.3 143.3h0M242.6 135.9h0M243.9 135.4h0M242.6 138.1h0M238.6 138.6h0M243.3 140.5h0M232.9 144.3h0M235.9 142.9h0M244.4 138.5h0M237.3 145.5h0M239.2 139.6h0M240.0 143.4h0M235.7 143.2h0M235.0 147.3h0M242.5 135.4h0M236.5 138.6h0M240.3 140.2h0M236.4 140.0h0M243.0 142.9h0M246.0 141.5h0M239.8 135.8h0M234.1 146.1h0M241.7 140.2h0M238.2 141.0h0M239.3 139.5h0M235.5 137.8h0M237.8 142.7h0M236.5 146.2h0M242.8 136.2h0M234.8 143.5h0M242.1 136.2h0M234.8 147.1h0M236.3 144.2h0M236.6 146.2h0M236.3 146.5h0M238.1 143.8h0M241.5 133.4h0M240.9 133.6h0M236.5 141.9h0M244.4 140.6h0M241.8 138.2h0M233.8 147.1h0M244.5 142.0h0M241.9 137.3h0M243.2 136.9h0M240.5 140.1h0M238.4 135.3h0M239.5 140.8h0" stroke="#4169E1" stroke-width="0.7" stroke-linecap="round" fill="none" opacity="0.85"/>
<path d="M239.2 188.6h0M230.7 185.0h0M239.5 184.0h0M231.6 179.8h0M230.5 182.8h0M235.9 178.6h0M238.6 180.3h0M233.3 176.8h0M233.1 188.9h0M240.1 181.1h0M233.1 186.2h0M234.5 181.7h0M229.0 186.2h0M238.1 179.5h0M234.7 186.9h0M234.8 179.7h0M233.1 181.8h0M239.6 182.7h0M235.3 178.1h0M233.1 182.5h0M236.3 185.1h0M236.8 184.9h0M233.4 180.2h0M238.3 175.0h0M240.6 186.2h0M238.9 176.8h0M237.2 182.6h0M238.7 183.7h0M226.1 185.4h0M232.4 182.8h0M232.8 188.3h0M236.8 185.9h0M233.3 178.7h0M238.4 181.3h0M232.7 183.7h0M242.8 180.1h0M241.6 184.2h0M227.0 186.5h0M231.9 182.6h0M228.6 182.8h0M232.5 178.5h0M236.0 181.0h0M235.2 180.5h0M232.0 181.4h0M237.8 177.1h0M227.8 182.1h0M228.8 189.8h0M225.2 186.8h0M233.1 184.8h0M230.0 186.6h0M242.6 184.4h0M241.3 184.9h0M233.1 183.2h0M229.8 180.4h0M238.2 185.6h0M235.7 188.1h0M238.9 182.9h0M234.9 181.9h0M238.2 179.9h0M237.1 186.5h0M236.2 182.6h0M234.8 176.7h0M238.3 174.4h0M227.0 183.7h0M234.3 185.4h0M233.0 182.7h0M230.9 187.6h0M230.5 186.3h0M239.0 186.5h0M232.5 189.7h0M231.4 186.3h0M237.7 188.2h0M232.6 182.2h0M241.4 186.4h0M231.7 182.8h0M239.6 183.2h0M232.3 187.6h0M242.3 182.0h0M231.9 177.3h0M231.4 188.9h0M232.9 188.7h0M228.0 188.1h0M236.0 179.5h0M233.5 176.2h0M240.1 180.4h0M234.5 179.4h0M237.3 178.2h0M231.0 188.7h0M236.6 177.1h0M236.4 176.5h0M239.1 177.5h0M237.9 177.9h0M235.5 187.6h0M225.7 187.5h0M237.8 176.0h0M229.2 186.2h0M234.0 188.0h0M229.3 181.6h0M241.3 181.8h0M239.6 179.1h0M226.6 186.8h0M238.8 179.9h0M235.0 184.7h0M225.9 187.8h0M233.5 181.1h0M236.8 181.9h0M231.4 180.4h0M230.1 179.1h0M240.3 188.0h0M229.5 181.7h0M231.2 186.6h0M229.2 187.4h0M231.0 176.6h0M240.5 186.4h0M239.3 175.6h0M229.3 182.6h0M238.6 174.8h0M239.2 179.4h0M239.4 186.0h0M231.8 188.0h0M234.1 185.9h0M229.6 188.2h0M234.6 179.0h0M231.7 186.8h0M232.9 181.3h0M230.0 181.5h0M234.7 186.0h0M238.7 185.6h0M232.3 188.6h0M233.7 184.3h0M238.0 186.3h0M232.9 185.3h0M242.2 181.5h0M237.9 186.2h0M236.3 182.5h0M239.3 180.5h0M241.9 187.4h0M238.6 184.6h0M229.5 183.7h0M233.6 179.7h0M236.2 180.6h0M235.0 179.0h0M227.7 185.0h0M235.1 177.0h0M236.2 186.5h0M237.9 183.7h0M228.2 183.3h0M241.0 180.8h0M239.3 178.4h0M235.3 182.2h0M237.2 187.3h0M227.0 187.2h0M231.3 182.2h0M229.9 188.0h0M242.7 180.0h0M231.8 184.1h0M231.1 179.8h0M238.5 174.7h0M240.9 184.9h0M229.7 180.9h0M239.1 180.4h0M241.0 182.3h0M237.6 188.0h0M241.0 186.7h0M233.3 183.2h0M226.2 187.1h0M232.6 185.2h0M235.5 178.0h0M238.6 180.8h0M233.1 183.4h0M238.0 177.4h0M230.9 179.4h0M227.5 183.0h0M227.2 181.8h0M239.9 178.8h0M228.5 185.3h0M241.8 182.1h0M235.2 178.4h0M230.0 185.6h0M235.1 180.9h0M237.3 176.8h0M241.9 177.5h0M236.2 187.3h0M236.0 187.3h0M241.0 183.6h0M231.2 178.9h0M231.8 179.3h0M233.6 184.7h0M238.4 176.6h0M239.1 184.8h0M238.9 179.2h0M233.3 185.5h0M235.5 179.1h0M235.0 175.3h0M229.7 184.4h0M229.1 186.2h0M231.2 185.8h0M237.8 187.9h0M232.3 180.9h0M235.2 180.9h0M229.9 180.6h0M238.2 177.4h0M231.1 181.7h0" stroke="#00BFFF" stroke-width="0.7" stroke-linecap="round" fill="none" opacity="0.85"/>
<path d="M215.9 189.6h0M213.3 196.4h0M227.9 188.4h0M210.7 191.4h0M209.3 205.6h0M219.1 194.6h0M213.2 201.5h0M229.6 181.4h0M215.0 201.1h0M212.8 194.6h0M214.3 188.5h0M207.9 197.4h0M220.5 186.2h0M215.3 192.6h0M207.4 202.5h0M225.2 180.6h0M214.1 197.0h0M218.9 182.1h0M217.5 184.1h0M213.6 200.7h0M213.1 201.5h0M224.2 184.8h0M231.5 182.3h0M221.8 190.1h0M225.7 190.2h0M207.1 204.3h0M210.9 200.1h0M220.3 187.9h0M210.4 197.8h0M218.2 193.3h0M218.3 184.8h0M218.3 196.4h0M209.8 201.3h0M227.0 184.1h0M214.2 197.2h0M225.7 179.1h0M213.4 197.4h0M210.6 194.9h0M211.0 205.0h0M227.4 178.4h0M224.7 184.9h0M219.7 188.6h0M206.7 197.2h0M225.7 190.6h0M206.6 195.3h0M224.3 185.7h0M208.7 201.3h0M209.8 188.7h0M214.8 191.0h0M227.9 176.0h0M219.1 190.5h0M214.1 184.9h0M206.3 197.0h0M207.6 204.0h0M229.7 177.0h0M218.3 197.6h0M209.9 198.1h0M222.9 194.1h0M222.4 181.5h0M206.1 199.3h0M226.4 188.1h0M222.0 185.4h0M228.7 184.4h0M224.7 176.7h0M225.7 181.2h0M229.2 181.6h0M207.9 196.9h0M217.4 191.6h0M231.1 182.6h0M214.4 193.7h0M211.2 199.4h0M215.9 186.1h0M215.3 192.1h0M208.5 202.8h0M211.9 199.0h0M231.8 175.4h0M208.8 198.7h0M211.3 199.7h0M216.2 196.7h0M218.2 183.6h0M228.3 185.1h0M217.4 188.3h0M223.9 183.1h0M209.6 195.1h0M212.7 198.2h0M221.1 187.9h0M217.0 183.3h0M219.6 187.2h0M223.0 186.7h0M225.8 190.5h0M227.9 187.1h0M217.2 193.4h0M215.7 202.8h0M213.8 195.6h0M227.2 181.5h0M218.4 183.6h0M225.8 185.5h0M219.3 183.3h0M228.9 180.7h0M229.2 181.0h0M221.6 182.7h0M216.9 196.8h0M227.9 175.9h0M207.5 201.7h0M229.1 184.8h0M210.7 199.8h0M211.3 204.7h0M215.5 191.6h0M208.3 204.2h0M232.6 178.0h0M213.1 194.1h0M205.6 196.3h0M204.7 205.4h0M231.9 180.8h0M221.2 183.6h0M211.1 196.6h0M232.6 176.2h0M212.1 190.7h0M224.2 176.5h0M217.7 185.7h0M217.9 182.3h0M224.1 179.4h0M204.5 204.6h0M222.9 185.3h0M227.2 183.7h0M217.7 189.7h0M232.4 176.8h0M215.7 200.6h0M226.6 177.7h0M211.2 201.2h0M214.3 199.6h0M215.3 188.3h0M222.7 185.5h0M224.7 185.2h0M225.6 183.3h0M219.5 184.2h0M211.5 205.0h0M215.9 185.8h0M210.2 195.7h0M216.9 193.6h0M210.1 199.5h0M215.7 191.9h0M221.0 186.4h0M212.1 195.5h0M209.8 203.3h0M227.2 188.0h0M215.4 193.4h0M225.3 184.5h0M220.2 190.6h0M228.2 188.7h0M223.6 188.3h0M221.8 183.7h0M226.5 181.1h0M229.4 178.8h0M218.7 190.7h0M219.1 183.7h0M218.3 185.3h0M215.0 199.6h0M223.0 182.6h0M210.0 195.8h0M228.9 175.5h0M218.4 188.2h0M214.3 202.0h0M205.8 203.1h0M219.5 181.3h0M231.7 181.2h0M206.7 195.4h0M209.4 200.5h0M222.6 186.1h0M232.0 178.5h0M224.3 183.2h0M220.3 181.0h0M213.3 201.9h0M219.3 192.6h0M208.4 204.6h0M209.1 200.2h0M211.5 191.9h0M210.1 200.1h0M222.1 189.3h0M221.8 188.2h0M214.1 199.1h0M229.3 186.4h0M229.7 180.5h0M206.1 196.2h0M226.5 187.3h0M219.4 195.1h0M229.2 177.8h0M210.4 196.7h0M230.1 179.1h0M219.6 197.1h0M230.7 177.5h0M218.8 198.1h0M222.1 178.5h0M215.8 193.0h0M216.9 190.6h0M204.5 203.8h0M215.0 196.6h0M203.6 205.6h0M216.2 187.7h0M220.0 181.9h0M224.3 181.3h0M207.4 200.6h0M221.0 191.7h0M218.7 183.0h0M227.1 184.2h0M212.6 200.4h0M214.2 202.3h0M208.3 195.4h0M216.5 197.1h0M213.6 200.8h0M211.4 202.0h0M227.1 179.1h0M208.3 194.0h0M226.4 187.3h0M225.5 178.7h0M206.0 201.8h0M227.4 185.4h0M220.6 182.5h0M215.7 197.1h0M224.3 187.0h0M224.0 185.4h0M207.7 204.5h0M222.1 183.9h0M222.9 186.7h0M219.3 186.3h0M215.4 184.8h0M218.8 198.8h0M224.1 183.9h0M216.1 192.8h0M219.0 191.7h0M217.7 194.1h0M224.5 179.5h0M210.4 196.5h0M221.8 188.1h0M223.3 183.6h0M227.1 176.2h0M207.6 203.2h0M220.0 189.8h0M209.9 191.6h0M227.7 188.4h0M219.1 196.1h0M207.3 202.2h0M221.5 188.6h0M218.3 190.8h0M219.5 193.1h0M206.2 201.8h0M209.8 201.8h0M217.2 193.6h0M210.0 201.3h0M219.6 187.5h0M222.4 193.0h0M219.0 195.9h0M226.3 190.0h0M210.1 192.9h0M215.7 188.1h0M224.5 182.8h0M215.9 185.9h0M208.2 195.7h0M228.2 190.9h0M224.1 182.4h0M210.8 192.1h0M226.7 192.9h0M211.0 201.4h0M215.5 196.5h0M209.6 194.9h0M224.1 184.5h0M209.5 204.7h0M212.9 203.1h0M215.3 191.8h0M228.2 180.4h0M207.6 201.1h0M229.0 179.7h0M221.4 194.8h0M218.0 189.4h0M207.2 202.8h0M204.0 198.8h0M222.5 181.1h0M221.9 191.8h0M227.6 178.3h0M206.0 203.5h0M214.7 187.0h0M209.9 201.7h0M215.8 191.8h0M220.0 190.7h0M226.9 185.1h0M216.6 198.2h0M225.7 191.7h0M213.1 186.3h0M227.6 187.9h0M208.3 199.8h0M210.4 197.4h0M213.6 194.3h0M216.4 193.6h0M228.1 184.5h0M217.4 198.4h0M213.2 191.7h0M223.0 186.2h0M217.0 201.2h0M223.7 179.6h0M205.5 199.1h0M217.3 197.3h0M210.9 202.6h0M220.7 191.0h0M216.8 192.9h0M228.8 181.1h0M215.4 191.8h0M230.5 188.7h0M218.8 194.4h0M218.8 195.8h0M223.9 188.3h0M222.1 191.3h0M211.6 197.7h0M213.0 203.7h0M203.9 198.7h0M216.6 202.1h0M214.8 196.7h0M203.2 205.5h0M232.9 176.7h0M215.4 194.4h0M217.3 183.3h0M218.9 181.6h0M214.3 194.0h0M219.4 194.6h0M218.8 187.6h0M226.2 176.7h0M226.9 183.1h0M214.1 197.9h0M216.2 188.1h0M222.7 193.3h0M208.7 199.4h0M209.8 203.8h0M210.4 198.9h0M228.3 178.9h0M213.2 199.4h0M222.7 178.3h0M212.2 195.7h0M219.8 187.9h0M208.5 201.7h0M222.9 195.6h0M209.1 195.7h0M225.2 178.6h0M224.6 182.3h0M216.6 185.2h0" stroke="#4682B4" stroke-width="0.7" stroke-linecap="round" fill="none" opacity="0.85"/>
<path d="M234.4 191.9h0M231.6 204.0h0M230.2 204.5h0M236.7 195.5h0M237.3 208.6h0M239.0 208.2h0M233.2 191.3h0M231.4 203.2h0M230.6 198.9h0M231.2 196.2h0M229.4 198.8h0M238.3 194.3h0M232.2 200.6h0M229.3 200.6h0M238.9 198.9h0M232.6 197.9h0M231.3 200.6h0M237.1 195.6h0M240.8 198.4h0M233.3 199.8h0M233.9 203.7h0M241.0 197.0h0M233.0 190.8h0M239.9 205.1h0M239.3 209.8h0M237.9 210.6h0M240.8 201.5h0M239.2 203.6h0M241.8 206.7h0M232.7 195.6h0M237.0 203.2h0M239.0 194.2h0M241.4 209.3h0M234.8 197.5h0M237.9 204.2h0M234.8 207.7h0M241.5 199.9h0M229.5 200.3h0M230.9 190.4h0M231.5 194.4h0M234.9 198.2h0M229.1 201.2h0M233.6 197.0h0M228.1 192.7h0M240.1 189.4h0M239.6 199.3h0M238.3 206.2h0M228.0 194.7h0M240.7 201.0h0M232.3 195.3h0M229.9 193.1h0M233.9 206.5h0M232.4 206.7h0M239.2 193.1h0M239.6 202.7h0M237.1 190.4h0M226.6 196.1h0M231.7 194.3h0M238.0 192.5h0M236.1 191.5h0M233.2 189.1h0M238.1 209.1h0M236.9 198.9h0M227.5 197.0h0M235.5 192.5h0M235.7 207.6h0M232.5 200.2h0M238.9 201.5h0M230.0 203.0h0M230.7 203.0h0M229.0 197.1h0M241.6 198.7h0M242.4 204.5h0M240.2 209.6h0M232.0 195.6h0M229.2 192.5h0M231.0 193.4h0M237.7 211.6h0M234.5 193.0h0M234.4 202.5h0M236.9 201.8h0M231.4 200.5h0M238.6 191.9h0M229.7 197.0h0M239.1 196.8h0M237.9 202.7h0M234.8 190.0h0M242.5 203.3h0M242.2 202.3h0M229.3 192.8h0M232.4 205.9h0M239.9 205.4h0M232.7 198.0h0M241.5 192.4h0M236.3 192.4h0M241.7 194.1h0M235.6 207.0h0M240.4 192.5h0M234.9 205.7h0M238.9 190.5h0M239.0 193.6h0M230.4 200.7h0M232.8 197.9h0M237.4 205.6h0M237.0 200.9h0M243.6 200.8h0M239.8 192.1h0M227.8 195.4h0M228.3 194.9h0M239.2 206.2h0M239.3 190.4h0M237.9 207.4h0M229.3 194.6h0M238.5 211.0h0M236.2 204.8h0M225.5 192.3h0M234.8 199.4h0M242.8 205.0h0M240.6 209.8h0M237.6 203.7h0M231.8 206.0h0M234.2 195.5h0M238.2 203.6h0M235.9 192.3h0M234.7 198.5h0M240.4 210.1h0M234.9 207.2h0M237.8 204.3h0M241.2 201.0h0M240.1 211.6h0M238.1 189.5h0M228.2 192.9h0M240.5 189.8h0M239.8 195.7h0M236.1 204.8h0M235.2 209.0h0M236.7 209.3h0M236.3 210.6h0M240.1 197.6h0M240.6 203.6h0M241.4 206.4h0M231.9 205.9h0M233.1 202.3h0M234.8 194.7h0M238.5 202.0h0M235.3 204.2h0M233.3 207.0h0M239.3 190.2h0M230.4 201.5h0M228.2 192.0h0M239.8 196.8h0M240.5 212.5h0M233.9 194.0h0M238.5 202.2h0M238.6 190.6h0M235.6 206.5h0M229.7 196.6h0M235.9 196.5h0M230.9 197.2h0M235.9 194.7h0M230.2 201.3h0M234.7 193.0h0M242.0 196.6h0M234.2 205.8h0M237.7 191.2h0M229.8 194.2h0M242.8 201.2h0M227.7 196.6h0M233.6 194.4h0M241.6 200.9h0M229.2 202.1h0M238.7 193.2h0M226.6 196.8h0M234.9 202.6h0M236.5 200.0h0M234.8 208.6h0M232.6 198.0h0M238.1 193.5h0M240.2 206.1h0M234.0 198.0h0M241.4 209.3h0M232.9 203.2h0M241.4 202.4h0M237.7 189.7h0M232.9 198.8h0M231.8 193.3h0M234.1 202.9h0M232.5 198.0h0M232.6 198.3h0M231.0 204.4h0M242.8 203.0h0M235.4 190.2h0M240.1 205.3h0M242.3 199.4h0M238.8 211.8h0M241.7 199.1h0M239.2 193.8h0M242.2 205.3h0M230.3 198.6h0M234.6 190.8h0M231.3 196.5h0M231.2 204.8h0M238.9 211.3h0M227.1 198.1h0M239.3 207.5h0M228.5 197.3h0M238.7 196.0h0M226.9 194.6h0M228.6 200.2h0M231.0 193.0h0M231.2 201.7h0M240.5 205.9h0M242.9 207.3h0M236.7 198.6h0M229.5 192.8h0M239.3 205.6h0M234.6 209.0h0M237.2 201.0h0M233.6 191.2h0M228.6 198.7h0M227.3 196.0h0M225.9 193.0h0M232.4 190.1h0M239.8 199.3h0M241.7 208.7h0M239.7 208.9h0M231.4 202.5h0M238.8 191.2h0M240.1 204.2h0M234.7 195.0h0M237.1 194.7h0M233.5 193.9h0M231.5 205.0h0M241.7 200.0h0M229.1 195.8h0M234.8 199.1h0M236.1 192.0h0M234.4 195.9h0M239.7 200.7h0M237.7 190.4h0M238.3 207.9h0M234.8 204.2h0M231.9 197.3h0M231.7 201.7h0M235.3 208.4h0M228.5 201.0h0M240.3 197.0h0M234.2 194.4h0M242.3 202.9h0M241.6 201.2h0M230.4 204.2h0M242.0 206.7h0M236.4 197.9h0M238.3 189.8h0M234.2 194.9h0M240.6 198.5h0M235.6 201.4h0M237.2 190.6h0M235.8 198.6h0M238.6 190.9h0M240.9 191.0h0M229.5 194.3h0M234.1 209.6h0M225.7 192.9h0M228.5 200.5h0M240.0 202.2h0M238.2 202.2h0M236.3 204.0h0M241.4 200.7h0M240.4 202.6h0M229.9 191.2h0M237.3 210.9h0M236.6 194.9h0M228.5 193.4h0M236.1 194.3h0M233.6 202.3h0M240.9 201.3h0M228.5 203.6h0M233.8 208.7h0M228.6 205.2h0M235.2 206.6h0M241.4 206.7h0M242.3 202.3h0M237.7 190.4h0M243.1 203.1h0M238.3 196.8h0M228.4 196.8h0M235.9 198.1h0M231.5 196.9h0M239.7 210.7h0M231.4 197.9h0M241.9 206.8h0M239.5 210.1h0M236.5 200.8h0M227.8 199.8h0M232.2 198.7h0M235.5 207.7h0M238.3 198.7h0M230.4 205.2h0M238.8 206.9h0M232.1 198.7h0M229.3 195.5h0M240.5 192.2h0M230.6 204.1h0M234.0 208.4h0M242.6 208.0h0M239.5 200.2h0M233.8 204.5h0M237.4 201.6h0M229.6 192.2h0M238.1 190.8h0M238.0 192.9h0M237.8 192.9h0M239.8 202.9h0M234.5 206.4h0M230.5 203.1h0M237.9 188.2h0M242.2 203.3h0M233.3 191.2h0M238.2 200.3h0M229.6 204.0h0M237.6 193.2h0M228.2 191.1h0M228.9 198.2h0M237.0 192.2h0M227.4 191.8h0M232.7 197.6h0M229.4 193.2h0M241.7 203.2h0M241.0 203.9h0M230.2 200.2h0M241.2 197.0h0M233.1 203.0h0M233.8 196.4h0M226.5 197.1h0M234.2 195.3h0M236.9 189.6h0M236.4 192.3h0M235.0 197.3h0M233.4 197.0h0M240.8 205.9h0M228.1 196.7h0M239.1 202.1h0M239.4 195.9h0M240.7 202.2h0M235.1 207.0h0M237.5 211.2h0M231.8 193.7h0M230.0 203.1h0M227.9 196.8h0M232.6 207.7h0M238.2 209.0h0M240.1 198.3h0M234.7 209.5h0M229.5 200.5h0M241.8 205.1h0M233.7 196.0h0M228.3 191.9h0M241.1 197.6h0M229.8 204.5h0M230.9 197.6h0M234.8 195.7h0M233.9 196.2h0M230.0 195.1h0M240.3 211.3h0M236.3 189.9h0M229.3 203.3h0M233.5 202.8h0M239.0 192.4h0M227.6 193.2h0M235.7 190.8h0M226.5 200.2h0M234.4 194.6h0M236.5 207.3h0M235.2 201.3h0M243.0 198.3h0M228.6 191.4h0" stroke="#00FFFF" stroke-width="0.7" stroke-linecap="round" fill="none" opacity="0.85"/>
<path d="M267.0 211.8h0M243.4 195.3h0M264.0 209.9h0M253.2 195.4h0M256.9 197.4h0M266.9 209.6h0M247.1 193.3h0M252.8 197.3h0M242.5 190.5h0M252.5 192.3h0M257.1 195.2h0M259.3 201.4h0M247.4 191.1h0M260.9 200.7h0M244.7 194.1h0M256.4 194.0h0M248.9 195.6h0M246.8 190.2h0M254.9 192.6h0M248.6 197.4h0M259.3 202.8h0M256.1 203.8h0M256.0 201.6h0M261.6 205.4h0M246.3 191.9h0M246.1 195.8h0M249.3 197.0h0M248.0 194.1h0M257.4 205.1h0M252.3 199.1h0M254.5 197.5h0M251.8 200.7h0M244.0 196.5h0M257.6 197.4h0M248.8 189.8h0M248.8 193.7h0M261.2 203.1h0M264.7 206.0h0M262.4 209.6h0M249.8 188.7h0M265.5 207.4h0M266.7 211.3h0M258.4 205.1h0M247.7 193.2h0M257.0 199.3h0M261.2 205.4h0M257.1 201.8h0M258.2 201.4h0M253.3 200.2h0M260.8 201.2h0M262.5 205.1h0M249.7 192.6h0M260.1 198.4h0M253.4 192.1h0M252.4 195.2h0M252.4 199.6h0M262.1 205.0h0M245.6 189.7h0M260.4 200.8h0M245.4 198.5h0M253.3 202.2h0M252.6 193.7h0M261.4 206.7h0M254.7 202.2h0M259.4 199.8h0M253.7 201.7h0M266.4 210.2h0M244.1 189.2h0M248.9 197.0h0M247.7 191.6h0M257.8 199.0h0M246.9 195.0h0M252.5 189.3h0M265.7 207.7h0M243.9 192.4h0M257.6 200.6h0M262.9 207.4h0M262.0 202.4h0M252.2 197.8h0M249.2 193.7h0M252.7 199.2h0M247.7 195.8h0M248.0 196.1h0M253.7 201.2h0M264.8 205.8h0M251.7 194.7h0M253.5 197.1h0M251.8 192.3h0M247.9 199.1h0M260.5 204.6h0M245.7 196.1h0M248.8 198.8h0M258.1 195.3h0M244.8 194.6h0M263.6 209.0h0M247.5 188.2h0M255.3 202.9h0M248.8 192.4h0M257.2 195.8h0M246.2 195.5h0M255.3 197.6h0M242.8 191.3h0M258.9 202.1h0M255.2 197.7h0M252.7 202.8h0M246.5 188.2h0M253.3 195.9h0M246.6 197.6h0M250.9 190.4h0M252.9 201.6h0M260.4 202.8h0M247.3 197.6h0M257.7 195.6h0M263.8 208.0h0M264.8 210.6h0M242.9 189.8h0M245.8 190.7h0M244.0 193.6h0M264.3 208.5h0M244.4 191.0h0M258.3 200.1h0M251.9 195.8h0M248.5 193.2h0M264.1 206.3h0M249.8 194.6h0M256.5 192.7h0M258.9 204.8h0M261.8 207.2h0M254.7 193.6h0M247.3 192.4h0M250.6 196.7h0M245.3 193.4h0M247.6 190.9h0M246.0 196.2h0M246.2 191.0h0M265.5 209.8h0M257.4 203.7h0M244.3 195.4h0M265.1 209.1h0M249.4 193.0h0M251.2 200.2h0M253.7 192.0h0M253.4 191.5h0M251.7 198.4h0M265.3 211.4h0M265.6 208.4h0M252.0 193.8h0M254.9 194.5h0M243.1 192.1h0M244.3 193.3h0M250.7 189.3h0M252.8 194.9h0M253.7 201.5h0M256.8 204.8h0M250.2 195.2h0M265.3 208.4h0M257.0 202.5h0M257.4 192.7h0M249.8 193.8h0M252.3 192.4h0M246.9 192.0h0M266.0 211.2h0M246.8 197.7h0M255.7 191.1h0M248.8 195.4h0M250.7 190.1h0M257.9 201.2h0M246.4 193.0h0M257.7 195.3h0M253.9 190.3h0M264.4 210.3h0M262.7 203.2h0M251.7 194.6h0M263.1 209.2h0M244.3 195.2h0M261.6 201.0h0M258.1 199.3h0M248.3 193.0h0M254.4 193.5h0M250.5 188.4h0M261.9 207.1h0M252.7 201.1h0M242.5 188.7h0M263.6 203.5h0M246.9 192.3h0M243.0 189.2h0M259.9 203.5h0M257.7 205.5h0M257.9 195.2h0M263.9 207.1h0M243.3 195.0h0M256.4 201.9h0M244.4 189.8h0M243.6 189.3h0M249.9 188.5h0M242.5 190.3h0M242.8 190.7h0M245.2 191.2h0M254.6 202.4h0M260.2 205.2h0M247.2 190.7h0M247.7 198.0h0M245.5 188.6h0M244.6 189.4h0M265.0 209.5h0M252.4 198.1h0M251.0 193.6h0M254.7 195.4h0M249.8 196.3h0M258.0 195.5h0M246.7 195.6h0M253.0 191.1h0M253.6 193.7h0M246.1 192.2h0M256.9 199.8h0M248.7 197.2h0M251.9 200.3h0M257.0 202.0h0M255.3 198.2h0M255.6 199.1h0M253.6 200.2h0M257.2 203.0h0M258.8 205.3h0M261.0 204.1h0M253.0 190.8h0M260.7 203.4h0M251.2 188.6h0M261.4 200.5h0M256.3 198.0h0M263.5 207.5h0M261.9 202.3h0M260.9 202.3h0M255.9 192.9h0M246.6 197.9h0M258.2 197.1h0M244.6 194.3h0M250.6 195.1h0M245.1 188.4h0M262.2 208.0h0M254.7 193.2h0M249.1 191.1h0M252.7 201.4h0M252.1 194.0h0M251.7 197.7h0M253.1 189.8h0M251.4 192.0h0M259.3 195.8h0M257.3 198.9h0M258.8 204.3h0M243.6 188.5h0M251.8 198.7h0M255.8 202.4h0M248.0 195.9h0M244.9 192.1h0M251.7 192.0h0M246.4 191.2h0" stroke="#F08080" stroke-width="0.7" stroke-linecap="round" fill="none" opacity="0.85"/>
<path d="M217.5 212.3h0M216.7 223.5h0M202.5 207.5h0M202.3 217.5h0M217.1 223.9h0M205.0 205.4h0M205.6 206.9h0M203.1 205.5h0M202.4 207.4h0M209.0 221.8h0M203.3 215.4h0M214.5 220.0h0M212.0 218.1h0M211.0 213.1h0M212.8 208.4h0M217.1 215.8h0M213.6 219.8h0M206.1 205.1h0M205.3 203.0h0M213.8 211.9h0M211.4 211.8h0M206.6 211.5h0M211.7 219.2h0M209.4 206.0h0M202.4 214.7h0M214.1 216.5h0M212.5 217.3h0M203.0 214.5h0M206.0 218.7h0M213.7 222.2h0M209.8 217.2h0M211.2 218.3h0M202.8 206.0h0M205.5 204.0h0M207.3 223.2h0M200.6 210.2h0M201.3 206.0h0M212.1 206.1h0M214.9 221.3h0M207.3 207.4h0M210.7 217.3h0M215.0 220.5h0M210.3 212.4h0M206.7 205.0h0M205.6 218.1h0M206.2 213.8h0M215.2 222.5h0M205.7 210.0h0M218.7 216.7h0M213.1 222.1h0M217.0 215.4h0M203.9 216.5h0M211.0 224.0h0M211.1 220.2h0M215.7 223.4h0M210.3 219.2h0M217.0 210.2h0M202.5 209.8h0M212.0 223.8h0M203.1 204.5h0M218.2 212.8h0M207.8 222.3h0M211.3 216.9h0M204.5 214.8h0M204.1 215.7h0M205.7 211.8h0M206.2 220.4h0M212.9 207.4h0M203.3 204.9h0M214.7 214.8h0M202.5 216.5h0M212.8 217.3h0M205.2 218.5h0M209.4 219.6h0M199.9 207.9h0M202.4 204.6h0M212.4 212.0h0M210.8 224.7h0M202.7 216.7h0M213.6 218.9h0M211.8 219.6h0M206.6 217.1h0M217.0 222.0h0M200.8 215.4h0M217.0 216.0h0M219.0 222.2h0M204.5 219.6h0M206.6 221.2h0M209.9 215.3h0M216.5 211.3h0M204.8 215.6h0M217.7 218.5h0M207.0 204.5h0M209.8 205.1h0M216.9 222.5h0M208.0 212.2h0M208.3 213.2h0M212.9 212.9h0M204.9 213.5h0M200.8 207.1h0M211.8 224.3h0M200.8 204.7h0M205.6 222.3h0M204.2 209.4h0M212.4 220.7h0M209.4 213.0h0M218.6 221.3h0M209.0 223.4h0M203.5 213.0h0M216.4 215.5h0M203.9 219.6h0M211.2 219.1h0M215.0 216.2h0M218.0 219.4h0M205.4 216.0h0M206.6 221.8h0M208.0 207.2h0M211.7 217.4h0M215.4 211.9h0M217.6 223.4h0M215.7 210.1h0M200.7 214.9h0M207.0 207.7h0M202.4 210.1h0M217.8 223.0h0M213.6 221.2h0M206.0 210.2h0M204.4 204.6h0M204.3 208.1h0M205.6 221.1h0M209.5 225.2h0M205.2 216.2h0M199.8 211.3h0M208.3 211.9h0M210.1 205.3h0M206.1 223.1h0M204.5 211.7h0M217.1 223.4h0M205.8 211.8h0M202.8 209.1h0M211.6 207.3h0M218.2 215.4h0M210.6 215.1h0M205.4 213.1h0M215.6 224.1h0M218.6 217.0h0M202.7 207.8h0M213.5 208.4h0M203.0 218.8h0M214.6 222.6h0M216.8 211.9h0M204.1 205.6h0M211.2 213.2h0M209.1 223.8h0M207.8 216.9h0M216.6 216.3h0M210.8 219.2h0M210.2 220.6h0M206.6 204.4h0M212.2 216.7h0M216.0 208.2h0M208.3 211.6h0M202.3 213.6h0M218.1 215.2h0M215.0 223.7h0M206.1 211.4h0M215.5 216.0h0M211.0 205.8h0M210.9 207.4h0M213.0 214.9h0M205.8 221.9h0M208.1 207.9h0M213.3 220.0h0M208.1 211.5h0M216.7 212.2h0M203.9 218.3h0M211.1 210.5h0M216.5 221.6h0M214.2 218.4h0M215.2 217.1h0M201.0 207.4h0M205.2 218.1h0M211.0 218.9h0M205.2 216.1h0M216.3 214.5h0M201.7 210.9h0M215.7 216.6h0M216.9 210.9h0M205.7 206.6h0M215.2 223.6h0M216.4 218.5h0M214.0 210.6h0M208.7 214.3h0M214.0 210.3h0M204.2 211.7h0M206.4 213.0h0M203.9 212.6h0M204.2 215.1h0M216.6 215.0h0M219.7 216.0h0M217.4 217.8h0M207.8 210.3h0M218.2 212.9h0M213.7 209.4h0M213.3 208.3h0M204.6 221.5h0M210.2 222.1h0M207.7 217.9h0M213.8 211.0h0M211.8 218.1h0M202.8 211.4h0M208.1 210.3h0M218.8 219.1h0M205.6 204.7h0M201.2 210.7h0M212.2 208.9h0M210.0 213.2h0M205.1 214.6h0M212.9 213.0h0M212.4 208.5h0M212.3 211.5h0M203.4 206.1h0M200.3 213.4h0M209.3 207.4h0M211.9 209.3h0M202.3 206.7h0M205.0 208.5h0M207.1 211.6h0M202.7 213.6h0M208.3 223.6h0M213.5 218.2h0M208.2 222.5h0M213.3 215.8h0M203.5 203.0h0M217.4 214.1h0M208.1 220.8h0M208.3 219.6h0M215.3 222.8h0M205.5 205.1h0M207.9 224.0h0M205.8 211.1h0M215.4 216.3h0M203.3 203.9h0M212.9 208.3h0M204.7 221.7h0M212.8 213.2h0M201.5 214.7h0M207.2 208.6h0M207.9 207.2h0M212.1 205.6h0M218.1 217.1h0M212.5 224.7h0M217.6 214.6h0M205.2 221.3h0M202.7 220.8h0M209.4 207.7h0M210.4 221.3h0M218.1 219.5h0M207.3 207.4h0M212.5 219.1h0M203.9 215.5h0M211.8 214.3h0M209.5 223.1h0M207.0 214.0h0M206.7 216.7h0M210.3 207.6h0M209.6 214.0h0M207.6 223.9h0M206.3 222.0h0M206.5 206.1h0M207.3 210.7h0M200.3 209.3h0M203.5 213.3h0M216.2 219.3h0M213.3 207.0h0M203.8 209.0h0M206.2 216.9h0M209.9 213.8h0M202.8 207.1h0M212.3 207.9h0M207.8 209.7h0M212.6 215.1h0M210.6 208.4h0M211.2 224.5h0M210.7 210.2h0M211.8 211.3h0M214.1 221.6h0M206.9 215.3h0M205.5 221.4h0M215.6 220.5h0M215.9 217.4h0M218.1 217.4h0M201.4 206.6h0M208.6 209.6h0M215.0 214.1h0M212.6 219.5h0M207.8 214.2h0M212.9 209.6h0M206.6 213.0h0M213.5 215.3h0M205.8 212.0h0M214.7 222.6h0M217.8 216.8h0M203.4 215.8h0M204.6 215.1h0M216.3 219.5h0M208.7 217.8h0M204.4 216.5h0M209.1 209.5h0M207.2 220.3h0M205.2 212.7h0M210.4 214.6h0M207.1 204.7h0M209.9 214.2h0M210.3 206.1h0M217.8 223.7h0M206.1 219.8h0M208.0 220.2h0M204.0 208.2h0M201.8 213.9h0M212.5 224.9h0M209.0 220.2h0M214.6 220.6h0M205.7 207.5h0M214.1 213.7h0M203.2 207.8h0M216.7 218.2h0M212.9 223.4h0M201.0 216.4h0M201.3 206.4h0M206.5 211.7h0M206.8 220.9h0M200.7 213.7h0M206.6 223.1h0M213.5 220.4h0M211.2 219.4h0M204.0 217.6h0M206.1 205.4h0M208.9 209.9h0M207.6 204.1h0M208.7 206.8h0M211.4 218.9h0M200.5 211.8h0M207.1 211.1h0M200.9 216.2h0M215.1 221.2h0M206.0 218.3h0M212.5 206.5h0M213.5 208.5h0M214.4 220.2h0M208.6 223.3h0M217.4 216.2h0M214.5 222.1h0M204.7 219.9h0M206.0 217.3h0M202.4 206.5h0M211.8 206.8h0M202.9 215.9h0M206.8 218.0h0M201.1 207.4h0M206.7 218.6h0M205.3 213.8h0M205.1 213.7h0M208.2 217.9h0M201.5 210.8h0M203.8 214.2h0M212.2 206.6h0M203.7 211.1h0M214.4 216.1h0M200.9 210.2h0M211.7 212.0h0M202.4 211.2h0M212.2 211.1h0M208.3 220.4h0M207.5 212.8h0M203.6 214.7h0M201.0 213.5h0M202.7 216.2h0M207.4 205.5h0M206.2 218.9h0M214.4 214.4h0M213.5 209.8h0M204.9 215.7h0M208.0 216.4h0M200.8 207.4h0M212.3 218.6h0M214.0 209.4h0M204.6 220.3h0M210.1 211.9h0M216.7 222.4h0M217.7 222.9h0M211.1 207.7h0M201.9 208.5h0M204.9 208.2h0M216.9 215.5h0M210.0 212.0h0M207.2 213.6h0M211.6 224.2h0M206.4 212.8h0M203.4 210.9h0M212.3 212.2h0M214.7 212.3h0M212.1 211.8h0M211.0 220.2h0M207.6 205.1h0M208.6 217.3h0M203.4 213.2h0M207.5 216.5h0M206.4 221.3h0M201.5 208.9h0M216.9 223.9h0M210.4 209.6h0M209.9 204.6h0M215.2 217.3h0M203.2 207.8h0M208.1 220.2h0M201.8 212.0h0M206.7 205.2h0M208.9 206.9h0M218.4 219.9h0M213.8 223.3h0M201.0 213.3h0M208.0 212.2h0M215.3 219.4h0M210.7 211.1h0M205.5 207.6h0M205.8 205.7h0M217.4 215.8h0M217.1 219.8h0M203.9 207.9h0M209.8 213.9h0M217.6 217.6h0M214.9 215.5h0M214.9 212.7h0M215.5 213.8h0M208.6 207.9h0M208.6 220.2h0M206.7 216.9h0M199.7 216.5h0M203.5 210.3h0M204.0 216.7h0M215.3 212.5h0M204.1 221.9h0M218.9 221.2h0M206.2 220.7h0M210.8 210.6h0M199.9 210.1h0M210.0 214.0h0M204.1 205.1h0M207.9 224.2h0M215.4 208.4h0M215.5 213.2h0M211.6 208.6h0M202.2 212.9h0M212.8 217.2h0M210.0 217.7h0M206.7 217.0h0M216.4 222.7h0M212.7 217.5h0M201.8 214.9h0M208.5 220.1h0M202.7 205.2h0M215.0 212.2h0M207.7 205.0h0M216.4 213.0h0M211.6 213.0h0M201.5 211.2h0M216.2 212.7h0M205.3 212.0h0M204.4 210.0h0M209.6 224.6h0M205.7 204.5h0M207.0 208.8h0M216.7 215.0h0M209.8 207.1h0M213.0 222.2h0M214.5 214.1h0M202.7 210.5h0M216.5 213.9h0M215.6 223.8h0M208.6 211.7h0M207.8 212.4h0M213.2 205.7h0M214.2 219.6h0M215.9 213.8h0M214.2 213.3h0M205.5 219.0h0M207.8 220.5h0M206.4 207.8h0M210.6 211.5h0M212.6 206.6h0M200.5 210.7h0M209.3 205.7h0M203.2 220.8h0M206.3 209.1h0M206.3 208.4h0M216.6 220.8h0M213.0 213.9h0M210.9 214.7h0M207.6 205.0h0M207.0 222.7h0M215.6 219.8h0M212.3 221.7h0M214.5 220.0h0M210.6 222.5h0M212.4 213.8h0M206.0 214.3h0M211.2 212.0h0M211.6 221.8h0M211.5 209.6h0M208.8 214.8h0M217.5 221.2h0M214.5 214.8h0M202.0 213.9h0M209.8 211.9h0M202.8 205.0h0M214.9 211.4h0M210.2 211.2h0M207.8 214.7h0M205.5 221.8h0M206.3 211.2h0M210.0 217.4h0M207.6 213.9h0M204.0 207.9h0M215.0 216.8h0M207.9 210.1h0M213.0 211.5h0M206.7 203.5h0M214.6 219.6h0M207.8 209.4h0M212.4 217.4h0M207.4 206.9h0M212.7 209.7h0M213.2 219.6h0M214.7 221.0h0M207.3 214.6h0M203.3 208.8h0M216.0 212.8h0M205.4 209.0h0" stroke="#D2B48C" stroke-width="0.7" stroke-linecap="round" fill="none" opacity="0.85"/>
<path d="M239.3 223.9h0M234.6 232.8h0M222.9 221.7h0M227.0 211.7h0M233.0 232.3h0M232.2 219.6h0M243.7 229.1h0M240.8 222.9h0M229.1 226.0h0M227.9 213.4h0M238.2 229.9h0M225.3 228.7h0M235.6 218.2h0M238.9 221.0h0M231.1 226.9h0M238.0 231.2h0M223.4 226.2h0M222.3 216.9h0M242.7 232.3h0M238.0 228.8h0M233.4 228.7h0M224.7 216.1h0M235.1 212.8h0M232.6 226.6h0M219.4 220.9h0M238.0 229.9h0M240.8 224.6h0M226.0 214.1h0M229.2 225.3h0M224.7 217.1h0M241.8 216.0h0M243.9 229.9h0M233.8 230.0h0M238.7 230.3h0M223.6 216.4h0M232.7 212.8h0M224.3 227.2h0M228.0 224.9h0M234.5 221.3h0M229.7 212.6h0M232.5 213.3h0M228.5 217.8h0M234.1 226.6h0M231.7 224.1h0M238.7 224.6h0M228.9 219.0h0M241.7 215.7h0M224.6 226.2h0M220.3 218.2h0M228.8 215.2h0M221.6 220.8h0M242.9 220.4h0M230.3 222.7h0M243.7 225.3h0M234.3 218.4h0M239.2 215.6h0M238.3 224.1h0M237.3 218.3h0M236.4 215.8h0M222.1 214.8h0M235.7 233.7h0M224.1 226.5h0M239.2 216.4h0M226.4 228.3h0M219.2 220.5h0M227.8 215.9h0M237.8 215.9h0M226.5 224.3h0M243.1 222.2h0M239.8 226.8h0M227.9 215.7h0M222.4 219.9h0M220.0 223.1h0M246.3 227.5h0M226.1 229.7h0M237.4 225.7h0M238.1 231.2h0M233.8 220.0h0M234.7 232.0h0M234.6 231.8h0M225.3 221.7h0M230.4 226.0h0M228.9 217.0h0M227.1 218.1h0M230.7 218.7h0M234.0 232.8h0M226.1 212.5h0M222.7 214.9h0M237.9 234.8h0M219.1 218.8h0M227.4 229.2h0M242.7 220.8h0M238.5 218.9h0M243.5 220.8h0M239.0 231.3h0M229.4 226.9h0M234.1 229.7h0M235.2 220.4h0M225.9 224.0h0M228.9 219.0h0M232.7 216.2h0M235.4 228.5h0M235.8 219.1h0M221.0 218.9h0M232.2 218.5h0M235.2 229.5h0M228.1 223.0h0M225.2 214.8h0M229.1 223.8h0M237.7 230.5h0M234.0 222.2h0M234.2 214.5h0M226.2 225.9h0M238.1 232.8h0M225.7 219.2h0M236.6 224.5h0M224.8 222.5h0M241.6 229.9h0M235.1 228.4h0M235.6 214.4h0M229.4 218.0h0M236.2 225.2h0M240.8 229.9h0M236.1 228.6h0M225.3 212.7h0M232.5 224.5h0M231.1 214.1h0M244.8 228.3h0M223.7 216.6h0M225.7 222.1h0M231.7 228.6h0M241.8 218.6h0M222.6 213.6h0M233.7 228.9h0M231.1 214.0h0M225.0 223.7h0M228.5 220.9h0M233.7 219.7h0M222.3 217.6h0M242.3 229.0h0M224.6 218.0h0M245.7 229.0h0M237.4 231.7h0M237.8 226.5h0M240.7 231.6h0M228.0 221.4h0M241.8 215.8h0M222.4 225.7h0M237.2 221.3h0M222.2 226.5h0M239.8 234.9h0M232.7 227.1h0M228.5 216.3h0M225.2 216.3h0M227.4 216.6h0M232.0 213.7h0M237.2 214.9h0M222.0 216.9h0M230.3 222.6h0M223.2 227.7h0M228.4 226.5h0M236.6 216.1h0M242.7 216.9h0M227.2 210.7h0M238.0 224.5h0M225.7 225.8h0M227.3 214.2h0M238.3 217.0h0M241.4 221.9h0M230.0 231.7h0M228.1 218.5h0M242.8 227.2h0M230.2 218.7h0M226.4 219.0h0M224.2 217.0h0M236.1 219.5h0M232.8 213.6h0M224.2 223.4h0M229.9 226.6h0M222.1 226.0h0M219.4 221.7h0M233.5 216.3h0M229.4 223.2h0M230.5 220.6h0M239.7 227.8h0M228.0 223.8h0M238.0 233.6h0M230.9 231.5h0M226.6 218.3h0M222.9 217.8h0M242.7 231.4h0M237.8 231.1h0M234.3 229.2h0M240.9 220.5h0M220.3 224.1h0M231.1 226.4h0M237.2 215.5h0M225.9 219.6h0M235.6 218.9h0M226.6 227.7h0M227.0 223.3h0M231.7 215.0h0M224.2 214.5h0M234.0 228.4h0M228.1 222.4h0M224.8 224.2h0M228.5 212.4h0M232.3 227.4h0M220.5 216.7h0M230.6 229.7h0M226.1 214.2h0M234.6 229.5h0M235.6 215.6h0M228.9 226.2h0M226.0 218.6h0M226.0 222.9h0M225.0 213.8h0M230.1 223.7h0M229.9 228.5h0M221.1 221.6h0M232.9 232.2h0M228.1 216.3h0M234.7 232.8h0M231.1 219.5h0M219.1 221.3h0M236.5 222.7h0M231.6 220.9h0M238.0 219.6h0M231.6 225.0h0M236.3 232.4h0M223.6 220.4h0M220.4 221.4h0M230.9 223.4h0M232.9 226.0h0M236.1 228.2h0M241.0 229.5h0M242.3 217.4h0M224.1 225.2h0M219.2 221.5h0M229.2 214.4h0M221.2 223.6h0M230.8 224.2h0M221.5 216.3h0M226.9 227.0h0M226.7 219.9h0M227.5 225.0h0M221.9 220.5h0M236.9 223.8h0M234.7 212.8h0M240.9 233.1h0M236.6 228.5h0M238.6 224.3h0M228.3 230.0h0M227.6 215.8h0M222.8 215.3h0M219.2 219.0h0M224.7 222.9h0M241.6 224.7h0M228.4 223.2h0M229.4 229.6h0M237.2 229.3h0M231.5 227.7h0M220.0 217.7h0M228.5 221.9h0M240.5 219.6h0M237.0 219.3h0M233.5 225.6h0M227.6 222.6h0M232.7 221.6h0M233.7 215.5h0M220.0 215.7h0M228.7 214.2h0M235.4 214.9h0M221.4 222.5h0M226.8 224.0h0M229.2 214.4h0M242.9 233.1h0M237.2 231.8h0M243.7 219.3h0M220.3 224.0h0M239.8 231.7h0M226.4 221.8h0M232.2 220.0h0M231.1 228.8h0M229.2 227.9h0M233.1 227.4h0M232.5 225.7h0M237.9 232.1h0M227.6 217.1h0M243.1 230.3h0M236.5 215.4h0M244.1 231.2h0M245.2 227.3h0M241.7 221.5h0M244.8 226.3h0M232.0 226.2h0M241.9 217.8h0M222.6 217.9h0M221.9 219.6h0M223.2 227.4h0M236.5 230.5h0M233.2 213.0h0M235.0 225.0h0M226.8 218.8h0M240.6 216.4h0M235.2 218.7h0M229.0 220.8h0M224.1 218.5h0M238.0 225.9h0M244.0 224.1h0M238.6 221.8h0M239.1 224.8h0M233.7 224.3h0M230.2 213.4h0M244.4 221.5h0M219.9 219.8h0M238.8 232.0h0M231.8 214.2h0M243.2 225.2h0M242.4 225.2h0M233.2 214.2h0M219.7 217.1h0M218.4 218.1h0M225.4 218.8h0M244.5 229.1h0M224.3 226.3h0M225.2 214.1h0M230.6 218.0h0M239.7 225.2h0M222.3 218.4h0M225.3 219.7h0M230.3 229.7h0M235.2 215.3h0M242.0 221.5h0M226.2 211.3h0M239.7 219.7h0M226.1 228.9h0M228.0 215.2h0M228.1 219.4h0M223.4 215.0h0M225.1 228.5h0M241.8 222.7h0M242.3 231.6h0M237.5 221.1h0M240.4 216.2h0M223.0 217.6h0M237.0 228.8h0M240.1 215.4h0M224.3 213.7h0M233.4 218.6h0M241.7 228.4h0M233.7 218.6h0M223.8 226.2h0M242.6 217.0h0M243.8 227.9h0M219.4 221.2h0M240.1 226.8h0M234.8 230.2h0M238.2 228.6h0M220.6 223.6h0M231.3 221.6h0M223.8 214.2h0M245.4 225.1h0M243.4 225.5h0M237.1 217.6h0M240.6 233.3h0M220.3 219.5h0M234.2 217.7h0M236.0 214.1h0M241.8 228.5h0M233.6 218.6h0M231.3 224.6h0M229.7 218.9h0M227.6 218.6h0M239.7 215.6h0M218.9 219.5h0M243.3 221.3h0M224.2 227.4h0M225.3 225.3h0M241.5 229.5h0M237.8 217.7h0M235.6 218.8h0M242.2 230.7h0M230.0 231.0h0M243.7 225.9h0M235.9 229.3h0M239.8 227.0h0M235.2 220.5h0M230.9 223.9h0M224.0 222.4h0M228.9 221.1h0M240.3 227.2h0M237.3 223.2h0M229.2 223.5h0M229.9 212.6h0M238.5 232.6h0M238.1 230.9h0M238.9 217.1h0M233.3 218.9h0M243.9 228.8h0M233.6 221.3h0M237.1 231.3h0M243.2 229.0h0M227.1 224.7h0M220.1 222.8h0M222.2 222.5h0M238.5 220.8h0M225.8 221.6h0M237.8 225.8h0M235.9 228.4h0M237.4 232.1h0M237.7 221.8h0M222.3 222.4h0M232.8 218.2h0M242.0 223.2h0M238.9 216.0h0M226.9 220.4h0M237.5 233.6h0M236.1 227.7h0M241.4 220.9h0M239.4 235.0h0M223.2 225.7h0M242.5 222.9h0M239.2 231.2h0M229.0 222.5h0M234.2 213.2h0M233.3 233.5h0M226.6 213.8h0M233.9 218.5h0M244.7 227.4h0M227.6 218.2h0M237.8 231.5h0M242.5 228.1h0M222.0 218.1h0M240.5 224.3h0M238.5 227.1h0M236.5 216.7h0M233.0 220.0h0M227.7 214.5h0M239.4 214.8h0M239.7 217.1h0M226.9 216.6h0M237.1 216.8h0M227.2 214.0h0M239.3 231.7h0M235.9 231.3h0M231.2 216.3h0M233.1 218.8h0M217.8 222.0h0M226.7 210.4h0M240.0 232.4h0M233.4 222.3h0M239.0 230.2h0M237.3 232.4h0M237.7 219.0h0M240.3 216.4h0M220.7 222.4h0M226.7 220.5h0M236.5 216.8h0M231.9 220.4h0M234.6 219.0h0M224.2 213.0h0M218.6 217.7h0M241.5 232.1h0M229.2 232.5h0M233.7 222.7h0M233.6 227.7h0M222.3 216.8h0M227.6 219.7h0M226.2 213.3h0M238.7 229.4h0M219.6 218.6h0M238.8 229.1h0M225.4 225.8h0M224.1 223.3h0M224.8 228.0h0M225.0 221.3h0M226.6 219.3h0M236.7 232.5h0M224.6 220.9h0M228.7 225.1h0M225.5 211.8h0M232.5 215.3h0M243.6 227.3h0M241.9 220.2h0M224.1 226.4h0M239.7 216.1h0M234.8 214.2h0M233.6 221.0h0M237.6 216.3h0M241.7 216.4h0M227.0 220.0h0M244.6 225.2h0M240.0 234.6h0M229.5 211.3h0M232.2 212.0h0M239.7 221.7h0M237.8 215.0h0M234.4 226.7h0M231.4 217.3h0M224.8 223.5h0M224.4 221.3h0M242.9 229.9h0M235.5 230.1h0M230.3 225.8h0M237.2 218.6h0M233.3 226.8h0M227.5 219.7h0M240.4 218.8h0M235.2 215.4h0M242.5 221.9h0M237.5 233.3h0M238.0 215.5h0M231.7 223.1h0M231.6 217.7h0M230.1 221.7h0M239.7 216.8h0M238.1 233.2h0M243.6 223.0h0M227.3 211.5h0M236.3 220.0h0M222.3 216.3h0M227.3 214.8h0M227.4 217.9h0M244.4 231.6h0M230.2 222.2h0M232.8 230.2h0M235.8 217.7h0M227.6 216.1h0M220.7 217.3h0M237.1 232.1h0M237.9 217.6h0M231.7 221.1h0M222.8 218.2h0M219.7 220.6h0M224.5 220.8h0M235.1 224.5h0M229.8 216.0h0M221.6 221.2h0M244.4 224.6h0M225.1 215.4h0M228.3 225.7h0M222.3 215.0h0M232.7 229.0h0M230.0 221.9h0M220.6 216.5h0M225.6 228.2h0M222.7 216.8h0M231.2 222.2h0M220.7 219.3h0M238.7 223.0h0M223.5 221.2h0M244.1 227.0h0M225.9 211.5h0M234.0 233.9h0M230.5 230.5h0M226.7 229.4h0M240.7 218.6h0M222.3 224.3h0M228.6 222.7h0M229.9 223.1h0M234.3 220.5h0M234.2 223.3h0M241.6 216.8h0M230.8 229.2h0M242.8 228.2h0M236.6 231.7h0M241.8 228.3h0M226.5 221.7h0M236.7 219.3h0M233.5 228.2h0M224.8 212.5h0M237.2 230.3h0M234.3 221.5h0M230.7 230.4h0M236.9 225.0h0M232.3 221.3h0M229.6 215.1h0M228.6 214.8h0M244.3 225.9h0M242.1 216.8h0M233.5 219.0h0M232.6 217.5h0M239.5 233.1h0M238.5 232.4h0M219.7 221.0h0M243.2 221.2h0M237.8 218.2h0M237.8 224.8h0M221.9 226.4h0M241.9 217.3h0M238.4 228.5h0M236.7 225.6h0M229.3 220.7h0M242.2 224.6h0M224.8 228.7h0M223.9 223.2h0M237.9 224.9h0M226.2 229.4h0M231.1 213.3h0M241.6 231.9h0M230.7 218.7h0M239.5 233.1h0M237.0 231.6h0M241.7 221.6h0M233.4 230.3h0M229.2 215.9h0M236.0 215.5h0M243.1 227.1h0M226.2 219.5h0M235.2 214.5h0M234.3 226.3h0M232.2 225.6h0M230.1 214.5h0M236.2 214.9h0M238.9 225.4h0M240.2 224.6h0M229.7 225.3h0M233.2 233.2h0M228.0 212.8h0M241.8 217.3h0M238.9 215.5h0M227.2 226.6h0M241.8 226.3h0M240.0 234.3h0M234.3 222.5h0M234.9 218.6h0M229.1 229.2h0M233.1 215.9h0M240.3 222.6h0M228.6 213.5h0" stroke="#8FBC8F" stroke-width="0.7" stroke-linecap="round" fill="none" opacity="0.85"/>
<path d="M245.0 175.2h0M249.9 169.6h0M246.3 181.1h0M246.5 176.4h0M250.2 173.7h0M242.1 176.8h0M246.2 172.5h0M248.6 173.9h0M245.8 175.2h0M247.1 173.1h0M244.6 169.0h0M241.4 175.3h0M248.3 178.8h0M245.2 171.1h0M241.4 172.6h0M243.6 173.1h0M243.9 178.1h0M249.7 175.5h0M246.5 172.5h0M241.5 173.6h0M245.2 174.1h0M248.6 178.3h0M241.8 173.8h0M246.9 179.1h0M247.5 169.3h0M248.0 170.6h0M245.0 176.7h0M250.1 172.7h0M242.3 171.5h0M246.8 178.3h0M245.4 171.3h0M246.0 178.0h0M244.0 174.1h0M243.2 171.4h0M250.0 171.2h0M246.3 171.7h0M247.3 170.9h0M245.3 170.2h0M250.8 170.6h0M245.0 170.9h0M245.2 172.3h0M249.9 169.8h0M244.3 180.7h0M247.4 179.2h0M243.7 175.6h0M245.1 169.2h0M247.0 180.0h0M249.7 169.3h0M249.2 174.6h0M247.6 178.0h0M243.9 177.8h0M244.2 178.3h0M244.9 177.3h0M249.7 169.8h0M244.0 177.9h0M244.5 176.1h0M250.2 172.6h0M248.5 174.6h0M243.7 175.7h0M244.4 173.7h0M248.6 169.3h0M249.7 171.5h0M247.3 182.9h0M245.2 179.1h0M246.0 173.8h0M245.4 178.7h0M249.8 172.2h0M246.3 173.1h0M245.4 175.4h0M250.4 172.0h0M248.9 174.6h0M242.5 175.4h0M248.7 171.9h0M248.1 176.8h0M248.1 171.5h0M248.1 180.2h0M243.0 178.4h0M249.9 175.3h0M245.1 175.4h0M245.4 176.9h0M248.4 174.5h0M247.8 180.8h0M242.7 174.5h0M242.4 177.0h0M247.8 172.5h0M246.6 174.0h0M245.0 179.9h0M247.3 182.0h0M245.0 177.4h0M243.4 174.4h0M249.5 168.9h0M246.4 180.3h0M246.8 169.6h0M244.9 171.8h0M243.7 173.8h0M245.3 180.2h0M246.3 173.7h0M242.9 171.6h0M250.7 173.1h0M244.6 172.9h0M241.7 174.1h0M248.3 173.7h0M249.9 169.1h0M246.7 183.0h0M247.4 175.6h0M244.8 171.7h0M244.8 177.4h0M248.9 170.2h0M247.0 177.2h0M247.6 175.8h0M248.9 168.7h0M246.2 181.0h0M242.3 174.5h0M251.0 170.0h0M245.5 173.6h0M244.3 178.4h0M247.1 174.8h0M244.1 169.5h0M249.9 167.8h0M246.8 181.2h0M244.8 181.0h0M247.1 181.6h0M249.4 171.4h0M242.3 177.2h0M243.9 176.9h0M243.3 173.2h0M248.1 171.9h0M247.4 179.9h0M244.2 175.9h0M247.1 179.3h0M245.6 176.6h0M243.3 176.2h0M245.9 181.4h0M247.2 175.1h0M243.3 175.5h0M246.2 173.9h0M250.5 169.7h0M246.3 172.7h0M246.3 172.8h0M247.5 176.1h0M249.8 173.3h0M248.8 169.4h0M247.0 179.6h0M246.9 181.8h0M241.2 170.6h0M250.0 171.1h0M246.4 180.0h0M247.6 170.7h0M246.4 170.5h0M245.7 175.4h0M248.8 168.3h0M242.4 170.0h0M247.6 171.1h0M248.0 169.3h0M248.3 177.7h0M248.4 179.1h0M248.4 176.6h0M241.8 176.2h0M246.6 172.5h0M244.6 177.6h0M245.4 173.5h0M249.2 176.9h0M241.0 173.0h0M246.1 169.4h0M247.2 173.9h0M249.3 167.5h0M250.9 167.6h0M243.2 174.0h0M248.9 172.7h0M247.3 181.0h0M247.8 181.7h0M245.1 173.0h0M250.4 168.3h0M248.4 176.2h0M241.3 174.4h0M251.2 171.0h0M248.8 171.1h0M249.3 169.6h0M243.7 177.3h0M242.8 177.9h0M245.8 176.1h0M243.2 171.9h0M248.4 178.8h0M244.4 169.4h0M250.7 170.0h0M247.9 180.9h0M251.1 169.4h0M251.5 169.5h0M243.4 176.9h0M245.7 174.3h0M241.9 175.1h0M248.0 181.2h0M244.3 179.9h0M247.2 177.7h0M244.0 169.7h0M241.5 173.9h0M250.1 171.3h0M248.8 175.4h0M243.0 172.7h0M247.1 172.6h0M241.9 171.8h0M248.2 170.9h0M245.3 177.9h0M242.5 175.7h0M248.8 170.6h0" stroke="#FF00FF" stroke-width="0.7" stroke-linecap="round" fill="none" opacity="0.85"/>
<path d="M276.9 250.8h0M279.6 249.6h0M276.9 249.3h0M272.4 252.9h0M273.8 251.0h0M283.3 243.0h0M277.3 248.6h0M273.9 250.1h0M282.5 246.7h0M275.3 254.6h0M272.2 248.4h0M276.1 250.2h0M271.5 248.9h0M278.4 250.5h0M277.9 247.2h0M272.0 251.6h0M276.3 253.3h0M274.8 248.0h0M272.5 248.7h0M277.1 245.8h0M273.8 250.1h0M270.7 243.5h0M281.3 250.0h0M281.2 245.5h0M280.6 246.7h0M275.2 253.8h0M274.2 256.9h0M279.5 248.0h0M274.0 250.5h0M276.9 251.7h0M278.3 246.5h0M277.8 246.7h0M275.9 250.3h0M282.3 244.6h0M273.0 256.7h0M271.8 250.5h0M271.0 246.7h0M279.9 246.2h0M275.6 249.8h0M272.7 254.8h0M271.5 248.0h0M278.0 246.4h0M274.0 249.0h0M278.2 247.0h0M281.1 246.9h0M275.0 249.8h0M280.6 246.3h0M278.3 246.4h0M272.5 247.4h0M274.3 248.9h0M275.7 254.3h0M284.4 244.3h0M272.4 249.8h0M274.1 252.1h0M271.2 245.0h0M270.9 249.8h0M285.0 243.2h0M277.4 251.4h0M275.0 248.8h0M282.2 248.1h0M279.0 248.4h0M279.8 248.7h0M272.4 251.5h0M284.5 245.1h0M281.4 246.6h0M275.2 251.9h0M274.2 251.4h0M275.7 248.9h0M277.2 251.1h0M277.5 250.8h0M282.0 247.1h0M273.6 249.8h0M273.4 253.4h0M275.7 253.4h0M270.3 246.7h0M272.6 248.0h0M280.0 245.8h0M278.4 251.5h0M274.6 250.0h0M273.0 249.3h0M271.6 245.4h0M272.9 252.2h0M270.4 247.4h0M272.8 254.3h0M278.1 249.1h0M279.8 247.1h0M273.5 257.1h0M278.9 250.6h0M275.8 250.7h0M271.1 247.2h0M274.2 247.5h0M273.5 249.2h0M274.9 251.8h0M273.2 247.5h0M279.6 247.4h0M275.0 257.8h0M278.3 247.6h0M282.4 246.1h0M279.0 246.4h0M283.6 247.2h0M272.6 246.8h0M282.0 248.6h0M270.1 242.9h0M278.4 251.7h0M279.6 251.9h0M281.0 244.4h0M273.8 252.6h0M285.0 244.9h0M271.0 244.3h0M279.5 253.1h0M277.0 249.3h0M275.9 253.4h0M277.1 254.5h0M280.7 247.0h0M279.8 251.6h0M269.2 243.9h0M273.0 250.9h0M283.2 247.1h0M274.9 255.6h0M282.0 248.9h0M275.2 249.4h0M275.1 250.3h0M284.1 245.1h0M274.7 255.0h0M277.1 255.2h0M275.4 251.3h0M277.8 253.7h0M274.7 248.8h0M273.3 251.9h0M274.5 254.9h0M281.3 250.5h0M274.8 250.2h0M273.2 246.8h0M277.9 249.8h0M275.0 255.4h0M281.2 249.5h0M281.6 247.2h0M273.3 244.6h0M271.2 248.6h0M283.6 245.8h0M275.6 255.0h0M268.8 244.0h0M277.4 249.9h0M274.2 249.9h0M277.9 250.3h0M281.1 249.9h0M272.8 248.9h0M272.3 251.2h0M282.2 247.0h0M275.8 248.0h0M281.9 244.9h0M274.5 248.1h0M276.2 252.4h0M279.2 248.6h0M271.9 254.5h0M280.9 247.2h0M283.1 247.1h0M277.5 250.9h0M272.9 253.2h0M273.3 248.3h0M270.7 244.8h0M282.4 248.0h0M274.7 251.7h0M273.1 247.7h0M280.7 245.7h0M274.5 256.0h0M276.2 248.6h0M281.1 248.3h0M275.2 248.2h0M281.1 249.5h0M277.8 250.8h0M274.9 247.8h0M273.3 254.5h0" stroke="#9a28a8" stroke-width="0.7" stroke-linecap="round" fill="none" opacity="0.85"/>
<path d="M297.9 223.5h0M296.7 227.1h0M305.3 225.3h0M300.7 224.9h0M295.1 223.5h0M296.5 223.6h0M293.5 227.7h0M299.7 224.1h0M294.5 226.9h0M296.5 227.5h0M296.8 227.0h0M297.6 223.1h0M299.2 224.3h0M296.6 223.9h0M306.9 225.5h0M296.0 226.2h0M299.8 225.9h0M296.7 225.6h0M298.7 226.6h0M295.7 226.6h0M294.5 226.8h0M297.9 228.6h0M305.5 224.7h0M296.3 224.6h0M296.3 224.0h0M295.2 227.9h0M302.8 225.0h0M294.3 227.6h0M297.4 226.9h0M300.6 225.3h0M296.7 223.0h0M303.5 227.6h0M299.3 224.1h0M299.7 227.5h0M293.1 225.3h0M296.2 225.7h0M296.4 224.3h0M303.5 224.4h0M300.6 227.4h0M299.2 225.6h0M300.8 225.1h0M301.0 225.6h0M301.1 226.7h0M301.2 223.6h0M301.4 224.2h0M291.5 224.2h0M301.5 224.9h0M298.6 225.7h0M297.2 226.5h0M298.1 227.9h0M298.1 228.2h0M305.5 225.8h0M295.3 226.7h0M305.2 225.4h0M299.6 227.3h0M301.0 223.7h0M299.5 225.5h0M294.4 225.1h0" stroke="#B0C4DE" stroke-width="0.7" stroke-linecap="round" fill="none" opacity="0.85"/>
<path d="M295.5 220.4h0M296.9 220.9h0M295.1 218.5h0M296.4 218.4h0M295.4 219.8h0M295.9 222.1h0M294.4 219.4h0M294.2 217.4h0M292.3 219.0h0M295.9 222.9h0M292.9 215.9h0M292.4 221.0h0M291.8 218.2h0M299.3 222.5h0M294.4 216.8h0M293.5 215.5h0M295.1 222.2h0M293.3 216.6h0M300.9 222.8h0M293.5 221.8h0M295.2 219.5h0M300.4 220.7h0M292.4 220.2h0M295.2 221.8h0M291.8 216.1h0M298.4 218.5h0M300.6 222.0h0M299.4 218.5h0M292.1 222.5h0M300.7 221.5h0M298.0 220.5h0M293.5 221.4h0M299.9 219.5h0M292.5 221.8h0M296.8 222.5h0M294.2 218.0h0M301.4 218.2h0M295.9 224.0h0M299.1 219.6h0M295.1 222.3h0M292.8 221.3h0M294.6 222.9h0M292.8 215.3h0M293.8 217.1h0M300.8 220.3h0M295.9 219.0h0M295.3 219.2h0M293.6 218.7h0M293.5 216.7h0M299.9 221.0h0M296.7 220.0h0M297.5 222.4h0M294.2 220.4h0M298.3 217.3h0M296.4 220.3h0M297.6 221.4h0M291.8 219.4h0M292.4 220.6h0M291.5 220.0h0M293.4 219.6h0M291.9 215.6h0M294.9 221.6h0M298.1 220.0h0M299.6 222.1h0M300.2 221.7h0M292.9 216.8h0M294.1 218.1h0M292.9 217.1h0M299.0 222.0h0M299.4 219.6h0M297.1 221.7h0M299.6 221.6h0M297.7 220.2h0M291.9 220.3h0M297.1 219.0h0M297.1 221.7h0M294.1 219.8h0M295.7 222.7h0M291.8 220.5h0M293.2 219.8h0M296.9 219.1h0M295.1 223.1h0" stroke="#FFD700" stroke-width="0.7" stroke-linecap="round" fill="none" opacity="0.85"/>
<path d="M292.5 242.7h0M292.9 241.3h0M294.6 239.3h0M292.6 242.2h0M291.6 238.0h0M293.5 245.3h0M289.1 237.7h0M291.2 235.9h0M289.9 241.2h0M296.5 240.2h0M289.2 233.0h0M290.3 240.2h0M289.6 238.3h0M292.6 236.2h0M294.8 240.7h0M295.0 236.5h0M290.0 234.7h0M295.5 238.5h0M289.3 236.7h0M292.4 241.6h0M295.0 239.5h0M289.6 238.3h0M291.8 242.1h0M290.6 235.5h0M294.2 239.1h0M291.5 244.2h0M293.1 237.6h0M291.4 243.2h0M297.2 238.5h0M294.5 240.5h0M293.2 238.2h0M293.4 239.2h0M289.2 240.5h0M295.2 242.1h0M289.0 234.5h0M295.3 242.8h0M296.8 241.5h0M291.2 236.2h0M290.7 237.7h0M291.5 242.7h0M293.1 244.3h0M291.8 237.8h0M289.2 232.8h0M293.5 235.8h0M291.9 235.8h0M291.0 233.9h0M292.0 234.7h0M294.3 241.7h0M289.7 238.0h0M291.6 233.4h0M290.1 241.1h0M290.2 233.2h0M294.7 241.5h0M292.0 241.0h0M294.8 244.6h0M293.1 245.5h0M292.9 236.8h0M291.7 243.6h0M292.5 239.7h0M290.6 233.9h0M292.8 242.3h0M289.2 238.8h0M296.5 241.9h0M293.9 236.3h0M289.2 232.5h0M291.1 234.1h0M290.1 240.6h0M293.2 237.2h0M290.8 232.3h0M288.4 237.0h0M291.0 234.0h0M290.5 244.8h0M289.0 235.3h0M290.4 239.4h0M289.4 239.4h0M294.0 236.4h0M288.5 235.8h0M297.2 239.5h0M290.8 241.9h0M294.7 239.9h0M289.3 242.5h0M290.6 235.9h0M294.5 242.1h0M294.2 240.2h0M292.7 234.5h0M291.8 233.7h0M293.2 239.4h0M292.3 233.2h0M293.8 242.0h0M290.5 239.4h0M291.0 234.9h0M297.2 244.1h0M291.6 237.7h0M294.6 244.0h0M292.6 233.8h0M291.5 239.1h0M292.7 234.2h0M290.5 238.6h0M288.8 235.1h0M291.8 232.9h0M290.1 239.0h0M295.5 239.0h0M290.8 239.5h0M290.8 243.3h0M292.5 243.1h0M292.2 240.3h0" stroke="#1f9aa0" stroke-width="0.7" stroke-linecap="round" fill="none" opacity="0.85"/>
<path d="M325.5 184.1h0M327.8 180.7h0M331.0 194.0h0M331.2 189.5h0M325.9 189.2h0M329.0 194.9h0M323.6 188.8h0M324.1 195.2h0M328.5 192.0h0M321.7 188.5h0M322.2 192.8h0M319.0 187.2h0M332.0 191.8h0M323.0 189.2h0M325.7 183.9h0M329.3 191.4h0M320.3 191.8h0M329.3 185.1h0M324.2 183.0h0M327.4 186.9h0M327.1 184.3h0M330.6 192.5h0M327.7 180.4h0M323.1 183.0h0M320.5 191.1h0M321.4 185.5h0M324.3 193.3h0M318.1 185.7h0M323.1 181.4h0M331.7 188.6h0M324.9 196.8h0M322.3 186.1h0M324.1 183.8h0M327.5 184.1h0M325.9 194.9h0M329.5 182.5h0M327.8 183.3h0M331.8 184.3h0M326.6 179.6h0M318.5 180.8h0M321.9 183.1h0M324.1 180.3h0M325.3 183.9h0M329.8 184.6h0M323.8 191.5h0M320.2 179.7h0M322.1 192.3h0M325.0 182.6h0M320.0 179.2h0M325.7 178.2h0M328.3 188.8h0M319.9 187.1h0M320.7 184.5h0M329.2 192.1h0M332.2 189.5h0M322.8 186.4h0M322.5 181.1h0M322.0 181.8h0M330.7 194.6h0M327.1 191.3h0M327.1 188.5h0M327.1 182.5h0M331.0 181.3h0M323.6 183.6h0M329.2 181.8h0M327.1 195.5h0M329.8 185.0h0M323.6 190.8h0M326.1 186.7h0M320.4 188.4h0M332.6 190.3h0M329.7 193.5h0M325.1 186.1h0M330.7 185.5h0M322.6 179.4h0M323.9 186.7h0M322.1 187.9h0M328.4 178.7h0M328.0 182.1h0M327.8 195.2h0M323.6 185.2h0M327.5 186.4h0M328.9 189.0h0M330.9 187.4h0M323.5 178.6h0M324.3 179.8h0M330.5 192.7h0M328.6 195.3h0M319.5 184.1h0M325.4 184.6h0M328.6 184.0h0M330.9 189.0h0M320.4 179.8h0M330.1 185.6h0M328.6 181.5h0M329.8 190.2h0M330.1 189.4h0M326.6 191.9h0M330.5 189.3h0M330.8 189.8h0M319.4 186.3h0M330.0 185.2h0M322.4 187.7h0M318.8 186.0h0M325.7 187.9h0M325.8 180.7h0M329.8 184.0h0M327.4 192.0h0M326.8 183.7h0M324.0 185.6h0M321.7 188.1h0M325.8 179.7h0M329.5 196.0h0M330.9 192.5h0M328.0 183.7h0M323.6 180.5h0M322.6 193.6h0M328.5 179.8h0M332.2 186.9h0M326.3 191.1h0M328.0 193.1h0M328.1 189.0h0M320.5 188.7h0M321.3 181.7h0M322.9 180.3h0M326.3 182.0h0M320.0 180.6h0M331.6 190.7h0M329.1 187.9h0M326.5 184.9h0M322.9 185.8h0M331.4 191.7h0M323.6 187.8h0M328.4 192.5h0M323.9 183.0h0M322.7 194.8h0M332.0 190.5h0M319.5 183.1h0M325.9 183.7h0M324.1 191.2h0M325.8 187.6h0M320.3 190.6h0M330.6 181.1h0M319.5 182.7h0M331.4 186.6h0M320.8 181.4h0M329.8 186.2h0M323.5 180.4h0M319.4 187.2h0M328.9 178.1h0M328.8 192.4h0M330.5 185.7h0M322.5 189.0h0M320.1 186.9h0M319.3 187.8h0M320.9 184.9h0M322.6 179.7h0M323.6 178.5h0M320.0 187.1h0M325.6 189.4h0M321.1 187.9h0M332.1 190.2h0M321.0 192.6h0M327.2 182.7h0M321.9 179.9h0M322.8 194.0h0M321.5 180.0h0M326.2 192.3h0M326.1 193.1h0M325.3 195.7h0M328.0 185.8h0M321.6 192.6h0M327.5 184.4h0M326.8 179.1h0M320.5 191.4h0M323.8 190.9h0M325.5 195.9h0M319.0 185.2h0M327.8 184.6h0M323.6 190.6h0M328.1 195.9h0M322.6 191.7h0M328.9 184.2h0M322.3 185.5h0M318.3 186.0h0M327.3 182.2h0M325.3 183.2h0M321.3 189.7h0M322.5 180.1h0M326.4 192.5h0M319.1 182.8h0M329.5 185.8h0M322.4 192.6h0M321.6 182.2h0M320.6 186.8h0M322.2 181.8h0M317.9 186.7h0M319.2 182.3h0M326.5 191.1h0M321.9 186.3h0M330.5 193.6h0M321.4 191.3h0M319.3 180.2h0M331.6 186.9h0M321.2 181.6h0M323.1 181.2h0M322.7 182.4h0M325.7 195.9h0M329.8 180.8h0M326.3 182.4h0M329.4 190.3h0M322.3 186.8h0M322.0 189.6h0M321.7 182.7h0M330.2 184.9h0M328.7 183.7h0M326.6 195.9h0M323.2 188.8h0M332.3 187.9h0M330.0 188.3h0M322.0 191.9h0M318.2 182.7h0M323.3 193.6h0M328.9 184.9h0M328.3 181.3h0M329.2 184.8h0M331.2 182.9h0M326.1 194.7h0M327.1 179.3h0M327.4 191.6h0M319.8 191.4h0M328.1 193.8h0M324.9 191.6h0M330.6 190.8h0M329.6 180.3h0M326.9 192.7h0M324.3 191.4h0M328.2 181.1h0M323.8 187.7h0M331.7 184.7h0M323.3 181.3h0M323.4 182.4h0M329.3 192.5h0M329.9 193.1h0M323.7 189.6h0M323.4 187.2h0M332.4 187.4h0M328.3 182.6h0M323.8 190.6h0M319.3 180.4h0M329.1 190.5h0M327.6 196.1h0M320.3 182.7h0M325.4 186.1h0" stroke="#B22222" stroke-width="0.7" stroke-linecap="round" fill="none" opacity="0.85"/>
<path d="M239.9 159.0h0M240.7 166.0h0M238.4 153.6h0M232.3 160.5h0M233.8 152.3h0M238.2 165.2h0M240.6 157.6h0M239.4 159.7h0M233.7 159.1h0M238.4 153.9h0M237.0 154.3h0M238.5 157.3h0M233.7 170.2h0M230.7 150.8h0M230.3 151.9h0M234.3 163.7h0M237.3 161.1h0M233.6 159.0h0M231.8 149.9h0M234.5 168.8h0M240.2 159.5h0M240.5 159.7h0M229.1 152.8h0M235.5 150.2h0M233.1 167.7h0" stroke="#b5cff5" stroke-width="0.6" stroke-linecap="round" fill="none" opacity="0.5"/>
<path d="M216.1 205.3h0M224.8 195.2h0M223.7 193.7h0M229.2 189.9h0M228.2 189.1h0M226.8 195.5h0M215.8 206.0h0M222.1 199.5h0M215.4 209.3h0M229.7 187.5h0M232.2 189.4h0M217.9 196.8h0M224.6 191.0h0M224.1 202.8h0M214.7 205.9h0M230.0 189.1h0M234.7 189.0h0M213.8 203.9h0M213.9 202.3h0M220.5 200.3h0M218.4 206.0h0M230.0 193.2h0M227.2 198.5h0M218.5 202.1h0M223.4 207.3h0M224.0 194.7h0M218.7 203.8h0M223.9 204.9h0M217.5 201.3h0M219.1 203.3h0M225.1 193.3h0M229.0 190.0h0M221.2 203.8h0M221.2 199.4h0M220.3 200.2h0M232.9 191.2h0M223.1 196.8h0M224.1 191.9h0M222.9 197.9h0M219.2 197.3h0M216.3 206.4h0M228.2 199.4h0M224.8 197.9h0M225.6 206.5h0M230.1 188.7h0M221.8 195.8h0M227.2 198.1h0M222.0 195.3h0M227.8 189.1h0M231.1 188.4h0M215.9 204.8h0M220.6 196.0h0M220.3 201.3h0M224.3 190.2h0M213.6 207.3h0M220.5 198.6h0M217.8 204.7h0M228.6 195.4h0M223.9 192.0h0M226.9 188.4h0M225.9 191.2h0M215.7 206.1h0M227.5 197.0h0M226.2 196.9h0M226.2 195.2h0M221.0 199.1h0M230.1 186.9h0M225.6 190.0h0M222.1 202.1h0M221.8 202.7h0M225.0 189.5h0M217.9 202.8h0M230.5 185.0h0M224.3 200.7h0M220.6 208.0h0M215.2 204.8h0M221.5 205.2h0M227.0 186.5h0M227.6 187.7h0M226.6 197.2h0M228.1 186.9h0M214.3 205.4h0M222.1 199.1h0M222.4 206.2h0M226.8 201.6h0M220.9 205.6h0M225.4 191.4h0M221.9 199.1h0M220.1 200.3h0M222.1 200.7h0M219.4 198.3h0M226.2 190.9h0M214.0 204.6h0M228.8 194.5h0M227.0 197.2h0M224.0 196.2h0M220.3 199.1h0M218.1 203.4h0M215.0 201.1h0M223.6 196.8h0M214.2 203.0h0M215.6 206.7h0M220.4 205.9h0M222.8 194.2h0M227.0 186.5h0M220.6 197.8h0M228.9 195.0h0M230.4 186.9h0M224.0 202.5h0M222.6 199.7h0M228.4 188.1h0M221.0 203.8h0M222.9 195.1h0M216.8 206.7h0M215.3 204.9h0M216.4 201.9h0M228.6 199.7h0M215.1 207.0h0M214.4 207.2h0M223.9 203.2h0M228.7 188.6h0M233.2 188.4h0M219.1 199.4h0M225.7 190.6h0M219.9 200.2h0M224.5 205.4h0M221.9 204.5h0M218.0 209.7h0M216.9 206.0h0M223.7 194.9h0M222.6 205.6h0M223.4 188.5h0M218.6 201.5h0M221.0 204.5h0M225.4 195.9h0M219.5 203.2h0M229.1 193.0h0M229.3 196.4h0M229.7 187.9h0M216.7 202.0h0M221.2 208.4h0M219.1 207.9h0M224.5 204.6h0M222.6 198.3h0M218.0 200.6h0M216.3 205.6h0M229.5 192.7h0M221.5 203.9h0M219.9 203.4h0M223.9 195.9h0" stroke="#6fc3f0" stroke-width="0.65" stroke-linecap="round" fill="none" opacity="0.7"/>
<path d="M227.9 208.8h0M225.1 201.3h0M219.1 202.3h0M229.2 210.1h0M216.8 206.0h0M217.7 205.7h0M222.0 206.9h0M221.6 200.3h0M224.4 201.2h0M226.4 201.6h0M217.6 205.3h0M218.4 210.5h0M222.1 212.5h0M224.3 211.7h0M223.5 208.3h0M226.1 210.0h0M227.8 206.7h0M224.1 209.2h0M229.0 198.5h0M218.5 212.0h0M223.6 207.0h0M225.8 211.3h0M225.6 204.7h0M227.5 208.9h0M218.5 206.4h0M224.5 204.0h0M225.3 201.7h0M222.6 204.7h0M220.8 202.7h0M216.2 214.3h0M219.2 206.9h0M224.5 210.1h0M220.3 206.3h0M223.4 213.4h0M222.9 200.9h0M225.4 209.0h0M221.6 206.2h0M216.8 209.0h0M222.7 204.2h0M225.3 208.5h0M220.6 203.1h0M225.4 209.8h0M229.4 208.2h0M217.3 207.6h0M219.0 204.4h0M224.2 211.0h0M224.5 209.4h0M223.8 208.9h0M225.1 209.7h0M225.9 207.3h0M217.7 213.3h0M221.8 205.5h0M228.5 210.2h0M229.1 209.8h0M221.5 205.9h0M224.4 209.3h0M222.8 203.3h0M222.4 202.4h0M220.7 203.1h0M222.8 215.6h0" stroke="#8ab8e4" stroke-width="0.6" stroke-linecap="round" fill="none" opacity="0.7"/>
<path d="M249.5 153.4h0M244.9 159.9h0M243.1 160.1h0M247.0 156.8h0M251.2 151.7h0M248.9 154.7h0M246.4 156.2h0M251.6 151.9h0M240.2 162.8h0M249.7 152.6h0M243.3 159.2h0M250.6 152.5h0M241.0 162.4h0M250.4 152.1h0M241.0 162.3h0M243.5 160.4h0" stroke="#556" stroke-width="0.55" stroke-linecap="round" fill="none" opacity="0.55"/>
<path d="M244.0 159.9h0M243.9 160.5h0M242.6 159.7h0M243.2 160.1h0M242.6 160.0h0M243.3 160.0h0M243.8 160.9h0M242.4 160.2h0" stroke="#0a6060" stroke-width="0.7" stroke-linecap="round" fill="none" opacity="0.9"/>
<path d="M244.5 222.3h0M243.3 221.4h0M246.2 227.9h0M244.7 223.9h0M241.5 218.2h0M243.9 223.0h0M245.7 225.5h0M242.3 220.3h0M242.5 219.8h0M245.5 224.8h0M244.2 223.7h0M245.5 226.7h0M242.4 219.2h0M245.8 226.2h0M245.0 222.5h0M244.8 223.6h0M244.0 224.1h0M241.2 217.1h0M243.8 222.6h0M244.8 224.7h0M247.3 227.7h0M244.0 223.6h0M245.3 225.1h0M246.6 227.5h0M241.1 216.7h0M242.0 217.3h0M240.2 216.0h0M242.5 219.0h0M242.4 219.1h0M244.4 224.0h0M244.0 222.4h0M241.9 216.7h0M242.3 219.3h0M242.7 218.9h0M246.4 227.5h0M241.3 217.0h0M247.7 229.9h0M246.4 227.0h0M246.4 226.7h0M243.8 224.3h0M245.7 224.7h0M244.3 222.7h0M246.0 227.5h0M244.8 224.4h0M242.8 219.0h0M246.4 227.8h0M247.8 229.5h0M242.3 219.5h0M245.3 226.9h0M242.3 218.4h0M246.3 227.4h0M243.5 221.1h0M242.1 218.3h0M245.4 224.6h0M241.8 216.8h0M244.7 224.1h0M242.7 220.2h0M246.2 228.1h0M244.0 221.4h0M241.3 215.6h0M241.9 219.2h0M241.4 217.6h0M247.7 230.3h0M243.7 222.0h0M244.1 223.3h0M244.6 226.3h0M245.2 224.3h0M245.6 223.5h0M243.4 220.4h0M247.5 229.9h0" stroke="#6B8E23" stroke-width="0.9" stroke-linecap="round" fill="none" opacity="0.95"/>
<path d="M270.9 215.0h0M273.2 216.8h0M270.9 215.1h0M274.8 218.0h0M271.7 217.4h0M273.5 218.8h0M269.3 213.5h0M270.2 214.5h0M269.9 214.6h0M273.3 215.8h0M269.8 213.1h0M270.3 214.0h0M275.6 217.1h0M268.1 215.3h0M273.9 216.4h0M271.9 215.6h0M271.9 214.1h0M269.9 212.9h0M273.5 214.6h0M273.1 214.8h0M272.6 216.6h0M270.0 216.5h0M274.9 216.0h0M268.8 212.4h0M274.4 216.9h0M270.8 217.3h0M271.2 213.2h0M269.9 212.4h0M274.8 216.3h0M271.3 213.3h0M271.8 213.7h0M271.6 217.5h0M271.1 215.0h0M269.8 211.8h0M269.1 214.0h0M275.6 217.3h0M272.5 215.7h0M269.8 216.2h0M271.6 214.8h0M272.1 216.5h0M272.8 218.0h0M273.8 215.5h0M274.7 217.2h0M275.2 217.3h0M273.2 215.6h0M269.4 213.7h0M273.1 215.7h0M270.8 213.2h0M272.6 216.4h0M272.7 216.1h0M270.2 213.8h0M271.5 215.2h0M271.5 215.7h0M271.5 214.3h0M275.6 218.5h0M274.8 219.9h0M269.5 213.0h0M270.0 213.7h0M272.8 217.0h0M273.0 218.0h0M273.0 218.4h0M269.7 212.6h0M273.2 216.2h0M272.8 219.5h0M271.0 213.9h0M266.7 213.1h0M275.0 216.8h0M269.3 215.4h0M271.6 217.3h0M267.9 212.0h0M271.2 212.2h0M270.4 213.2h0M270.5 212.7h0M273.9 216.0h0M273.9 217.2h0M273.7 219.8h0M269.6 216.0h0M274.5 216.3h0M272.6 216.1h0M269.8 215.0h0" stroke="#FF4500" stroke-width="0.8" stroke-linecap="round" fill="none" opacity="0.95"/>
<path d="M314.7 181.8h0M315.4 182.9h0M315.3 181.3h0M311.2 181.5h0M314.6 180.8h0M314.7 182.7h0M314.9 184.1h0M317.0 182.7h0M311.0 183.4h0M313.2 182.7h0M315.0 181.2h0M315.1 182.5h0M316.4 183.2h0M315.9 182.6h0M315.2 183.4h0M314.3 182.4h0M315.3 180.4h0M314.3 182.8h0M316.0 182.3h0M314.5 183.0h0M314.1 181.5h0M315.0 184.1h0M316.6 183.5h0M314.9 183.2h0M313.9 181.4h0M313.7 181.3h0M314.7 182.9h0M315.8 183.3h0M315.3 183.1h0M317.6 183.3h0M318.0 182.0h0M318.7 182.6h0M316.8 180.8h0M314.8 181.3h0M314.0 181.8h0M314.6 181.8h0M313.4 183.4h0M311.1 182.7h0M318.6 182.7h0M317.3 181.2h0M316.6 180.4h0M313.4 182.8h0M313.3 181.4h0M318.2 183.8h0M313.6 182.2h0" stroke="#008000" stroke-width="0.8" stroke-linecap="round" fill="none" opacity="0.95"/>
<path d="M313.3 191.2h0M311.2 191.9h0M312.9 188.8h0M312.7 190.5h0M313.3 191.2h0M313.3 191.2h0M312.4 190.1h0M312.9 190.5h0M311.5 190.2h0M314.1 192.4h0M314.3 191.3h0M312.1 191.1h0M313.3 190.0h0M314.0 191.9h0M313.3 191.5h0M313.5 188.0h0M311.8 190.3h0M313.0 191.9h0M312.2 191.8h0M311.9 189.4h0M313.6 188.5h0M313.4 190.1h0M315.1 190.8h0M313.9 188.6h0M312.4 189.7h0" stroke="#b8bcbc" stroke-width="0.8" stroke-linecap="round" fill="none" opacity="0.9"/>
<path d="M316 253.8L317.3 256.2L318.6 253.6M317.3 256.2L317.6 258.8" stroke="#32CD32" stroke-width="0.7" fill="none" opacity="0.85"/>
<text x="211.5" y="132.7" font-size="5.8" text-anchor="middle" fill="#000" stroke="#000" stroke-width="0.15">13</text>
<text x="238.2" y="131.6" font-size="5.8" text-anchor="middle" fill="#000" stroke="#000" stroke-width="0.15">19</text>
<text x="254.1" y="151.7" font-size="5.8" text-anchor="middle" fill="#000" stroke="#000" stroke-width="0.15">2</text>
<text x="250.6" y="177.9" font-size="5.8" text-anchor="middle" fill="#000" stroke="#000" stroke-width="0.15">4</text>
<text x="235.0" y="179.1" font-size="5.8" text-anchor="middle" fill="#000" stroke="#000" stroke-width="0.15">18</text>
<text x="210.8" y="186.3" font-size="5.8" text-anchor="middle" fill="#000" stroke="#000" stroke-width="0.15">7</text>
<text x="232.3" y="201.9" font-size="5.8" text-anchor="middle" fill="#000" stroke="#000" stroke-width="0.15">12</text>
<text x="263.6" y="194.9" font-size="5.8" text-anchor="middle" fill="#000" stroke="#000" stroke-width="0.15">5</text>
<text x="199.4" y="220.2" font-size="5.8" text-anchor="middle" fill="#000" stroke="#000" stroke-width="0.15">9</text>
<text x="233.0" y="229.5" font-size="5.8" text-anchor="middle" fill="#000" stroke="#000" stroke-width="0.15">16</text>
<text x="250.6" y="224.4" font-size="5.8" text-anchor="middle" fill="#000" stroke="#000" stroke-width="0.15">10</text>
<text x="277.3" y="214.0" font-size="5.8" text-anchor="middle" fill="#000" stroke="#000" stroke-width="0.15">14</text>
<text x="297.4" y="215.0" font-size="5.8" text-anchor="middle" fill="#000" stroke="#000" stroke-width="0.15">1</text>
<text x="311.2" y="223.3" font-size="5.8" text-anchor="middle" fill="#000" stroke="#000" stroke-width="0.15">8</text>
<text x="304.3" y="243.4" font-size="5.8" text-anchor="middle" fill="#000" stroke="#000" stroke-width="0.15">20</text>
<text x="262.8" y="249.3" font-size="5.8" text-anchor="middle" fill="#000" stroke="#000" stroke-width="0.15">17</text>
<text x="321.3" y="253.8" font-size="5.8" text-anchor="middle" fill="#000" stroke="#000" stroke-width="0.15">3</text>
<text x="315.4" y="177.0" font-size="5.8" text-anchor="middle" fill="#000" stroke="#000" stroke-width="0.15">15</text>
<text x="329.2" y="178.3" font-size="5.8" text-anchor="middle" fill="#000" stroke="#000" stroke-width="0.15">6</text>
<text x="308.5" y="198.4" font-size="5.8" text-anchor="middle" fill="#000" stroke="#000" stroke-width="0.15">11</text>
<text x="335.6" y="132.7" font-size="7.4" text-anchor="end" fill="#3d7f2f" font-style="italic" stroke="#3d7f2f" stroke-width="0.18">RoLoRiG/Mx1CRE</text>
<text x="335.6" y="143.5" font-size="7.2" text-anchor="end" fill="#3d7f2f" stroke="#3d7f2f" stroke-width="0.18">4 months</text>
<rect x="193.8" y="122.6" width="145.4" height="139" fill="none" stroke="#2a2a2a" stroke-width="1.2"/>
<text x="354.3" y="117.0" font-size="10.5" text-anchor="start" fill="#000" font-weight="bold" stroke="#000" stroke-width="0.45" stroke-linejoin="round">D</text>
<polygon points="390.8,131.0 393.5,128.5 397.0,129.0 399.5,132.0 401.0,137.0 402.5,142.0 405.5,146.0 404.0,149.0 399.0,148.0 394.0,148.0 391.0,146.0 390.0,140.0 390.0,135.0" fill="#6495ED" opacity="0.42" filter="url(#bl)"/>
<polygon points="409.0,137.0 413.0,133.5 417.0,134.0 419.0,138.0 418.5,143.0 415.0,145.0 411.0,146.0 407.0,148.5 405.5,146.0 407.0,141.0" fill="#4169E1" opacity="0.48" filter="url(#bl)"/>
<polygon points="393.0,181.0 400.0,178.0 408.0,177.5 411.0,182.0 410.0,188.0 402.0,189.5 396.0,190.5 393.0,187.0" fill="#00BFFF" opacity="0.168" filter="url(#bl)"/>
<polygon points="386.0,186.0 391.0,184.0 396.0,185.0 397.5,190.0 396.0,196.0 391.0,200.0 386.0,203.0 382.0,203.0 381.5,198.0 383.0,191.0" fill="#4682B4" opacity="0.33" filter="url(#bl)"/>
<polygon points="392.0,193.0 400.0,190.5 408.0,190.0 412.0,197.0 416.0,207.5 410.0,207.0 403.0,204.0 396.0,199.0" fill="#00FFFF" opacity="0.44999999999999996" filter="url(#bl)"/>
<polygon points="427.0,192.0 431.0,193.0 436.0,199.0 439.5,206.0 439.0,209.0 435.0,207.0 430.0,201.0 427.5,196.0" fill="#F08080" opacity="0.12" filter="url(#bl)"/>
<polygon points="376.0,203.0 381.0,201.0 386.0,204.5 389.5,211.5 392.5,220.0 395.0,228.0 390.0,229.5 384.0,227.0 379.0,222.0 375.5,215.0 374.5,208.0" fill="#D2B48C" opacity="0.252" filter="url(#bl)"/>
<polygon points="390.0,215.5 398.0,212.0 407.0,214.0 415.0,216.0 420.0,222.0 422.0,230.0 419.0,235.0 411.0,236.0 402.0,234.0 395.0,229.5 390.5,222.0" fill="#8FBC8F" opacity="0.252" filter="url(#bl)"/>
<polygon points="399.0,226.0 408.0,224.0 416.0,226.0 419.0,232.0 412.0,235.5 404.0,234.0" fill="#8FBC8F" opacity="0.18" filter="url(#bl)"/>
<polygon points="411.5,169.0 416.0,167.5 421.0,169.0 423.0,174.0 423.0,180.0 421.0,186.0 417.0,184.0 413.0,178.0 411.0,173.0" fill="#FF00FF" opacity="0.132" filter="url(#bl)"/>
<polygon points="459.0,243.0 461.5,245.0 459.0,250.0 454.0,256.0 449.0,259.0 447.0,256.0 448.5,250.0 453.0,246.0" fill="#800080" opacity="0.6" filter="url(#bl)"/>
<polygon points="462.0,223.0 470.0,222.5 481.0,223.0 478.0,225.5 473.0,228.0 468.0,232.0 464.5,234.5 466.0,229.0 468.0,226.0 463.0,225.0" fill="#B0C4DE" opacity="0.24" filter="url(#bl)"/>
<polygon points="465.0,217.0 470.0,216.0 476.0,218.5 474.0,222.0 468.0,222.0" fill="#FFD700" opacity="0.06" filter="url(#bl)"/>
<polygon points="494.0,181.0 498.0,178.5 504.0,179.0 507.0,183.0 507.5,190.0 505.5,196.0 500.0,197.0 496.0,193.5 493.0,187.0" fill="#B22222" opacity="0.57" filter="url(#bl)"/>
<path d="M395.8 148.2h0M399.7 134.7h0M393.0 138.8h0M390.5 137.6h0M391.8 140.0h0M394.0 143.6h0M396.1 132.8h0M395.7 137.2h0M399.1 132.7h0M402.0 140.7h0M394.8 134.2h0M390.2 141.8h0M398.2 145.1h0M392.7 141.9h0M390.9 136.5h0M391.3 146.7h0M393.1 133.6h0M394.0 143.3h0M400.2 142.6h0M392.6 142.4h0M401.2 139.9h0M392.1 140.2h0M397.3 140.5h0M398.4 132.3h0M399.3 146.3h0M396.9 138.7h0M391.6 138.2h0M391.3 142.1h0M396.8 137.3h0M394.2 128.7h0M399.2 136.6h0M397.1 138.6h0M393.6 129.0h0M398.7 141.0h0M394.1 135.2h0M396.3 137.8h0M394.8 145.5h0M393.7 143.5h0M391.4 134.2h0M393.4 132.1h0M396.5 134.7h0M397.4 145.5h0M392.5 144.0h0M396.8 146.3h0M396.9 131.0h0M395.0 139.7h0M399.1 133.5h0M404.1 147.5h0M392.1 131.8h0M393.3 129.7h0M401.9 144.9h0M391.4 143.3h0M390.9 131.8h0M398.3 134.0h0M392.7 129.0h0M393.0 140.1h0M400.7 145.4h0M393.7 146.4h0M398.7 134.7h0M394.2 137.2h0M394.8 134.9h0M395.3 145.2h0M401.1 140.3h0M394.3 139.0h0M399.2 132.3h0M398.3 133.5h0M391.8 136.4h0M397.1 136.1h0M398.7 131.1h0M396.9 146.8h0M392.9 141.3h0M398.8 137.9h0M398.3 139.4h0M396.1 132.8h0M396.4 146.9h0M398.0 130.6h0M396.7 143.0h0M396.2 141.9h0M398.2 135.6h0M395.8 132.5h0M393.0 135.5h0M401.1 145.9h0M393.8 130.9h0M397.9 132.8h0M396.7 130.2h0M397.7 148.2h0M396.0 130.8h0M395.1 137.5h0M392.9 138.0h0M390.4 137.0h0M396.1 140.0h0M391.4 138.2h0M392.1 139.0h0M393.2 134.0h0M393.0 142.9h0M394.9 145.8h0M401.1 147.8h0M396.2 129.3h0M393.7 137.1h0M400.7 140.4h0M398.6 145.1h0M392.9 129.8h0M392.0 135.5h0M392.9 142.4h0M394.4 144.2h0M398.6 142.6h0M398.2 138.3h0M391.3 142.3h0M394.3 135.3h0M401.4 148.0h0M398.1 130.8h0M394.9 147.1h0M394.3 141.8h0M399.2 133.6h0M399.0 138.1h0M400.6 143.1h0M398.0 147.3h0M400.0 133.0h0M394.9 130.7h0M394.2 146.8h0M401.1 139.0h0M394.9 128.2h0M389.7 134.5h0M392.8 145.1h0M392.2 133.6h0M398.1 138.8h0M395.3 148.0h0M399.8 143.8h0M394.0 137.3h0M397.2 142.4h0M399.6 137.4h0M399.2 146.9h0M397.2 131.5h0M398.5 141.3h0M392.9 139.9h0M392.7 139.2h0M393.1 142.6h0M400.7 148.1h0M395.2 129.8h0M394.5 143.7h0M391.2 139.9h0M391.6 135.7h0M395.0 143.7h0M397.8 131.0h0M393.7 147.8h0M404.9 145.6h0M397.2 138.4h0M397.1 133.0h0M398.3 133.1h0M398.2 142.4h0M398.8 145.6h0M401.2 145.1h0M397.4 134.2h0M395.0 132.7h0M395.2 146.9h0M394.9 135.4h0M400.3 146.8h0M395.5 147.7h0M404.0 145.2h0M393.4 130.8h0M393.4 139.9h0M400.4 142.8h0M397.8 132.9h0M393.9 139.2h0M396.8 145.8h0M400.4 138.5h0M403.3 145.0h0M394.0 135.7h0M404.8 144.2h0M397.7 144.2h0M401.2 140.7h0M399.0 136.1h0M403.2 146.5h0M401.4 140.7h0M392.7 140.5h0M395.0 136.6h0M389.6 134.8h0M400.5 145.2h0M398.8 139.9h0M392.7 137.6h0M401.0 139.5h0M394.6 146.8h0M397.5 144.9h0M390.9 135.0h0M392.5 140.3h0M396.7 139.8h0M397.1 145.8h0M401.1 140.8h0M395.6 138.4h0M405.5 146.4h0M397.5 134.8h0M398.0 137.7h0M404.6 146.0h0M397.1 130.2h0M394.9 136.3h0M399.7 133.6h0M403.3 146.8h0M404.2 147.8h0M402.4 147.6h0M393.7 137.1h0M399.4 137.7h0M397.5 134.2h0M393.9 136.4h0M405.2 145.2h0M399.6 139.5h0M394.9 145.6h0M395.8 134.4h0M397.9 141.1h0M401.2 144.3h0M399.2 142.3h0M398.0 142.6h0M398.0 131.2h0M395.0 146.7h0M392.6 136.3h0M392.6 140.0h0M393.8 142.5h0M398.9 142.2h0M394.8 133.2h0M402.8 149.0h0M401.7 145.1h0M399.2 141.3h0M400.8 146.7h0M389.9 139.4h0M401.6 142.8h0M399.9 139.5h0M392.6 135.3h0M394.1 140.7h0M399.1 134.1h0M397.9 133.7h0M398.5 140.8h0M396.4 132.1h0M401.7 146.5h0M394.0 139.2h0M391.6 141.9h0M393.4 134.8h0M393.2 139.9h0M398.9 145.0h0M394.1 129.7h0M399.1 138.7h0M398.2 145.0h0M389.7 139.8h0M398.6 132.1h0M399.9 140.4h0M394.0 144.1h0M398.4 146.6h0M395.8 147.5h0M397.5 135.7h0M400.0 134.5h0M402.2 146.3h0M400.6 140.1h0M392.8 133.0h0M398.1 142.7h0M396.6 140.1h0M398.0 137.3h0M401.2 135.1h0M396.9 131.9h0M397.4 144.7h0M405.1 145.5h0M392.7 134.7h0M395.7 147.1h0M404.8 146.5h0M394.9 140.5h0M396.6 146.3h0M394.5 144.8h0M391.6 137.6h0M397.3 129.7h0M395.2 137.8h0M398.6 133.7h0M405.0 147.0h0M391.5 135.3h0M399.3 148.8h0M394.6 134.4h0M398.9 140.6h0M391.4 135.2h0" stroke="#6495ED" stroke-width="0.7" stroke-linecap="round" fill="none" opacity="0.75"/>
<path d="M416.9 137.0h0M413.9 138.1h0M418.5 140.7h0M407.0 144.7h0M408.6 144.5h0M410.7 140.9h0M406.2 145.1h0M416.3 144.6h0M412.7 141.6h0M408.3 147.3h0M409.8 138.0h0M410.0 137.1h0M411.5 135.8h0M406.9 143.6h0M416.4 139.7h0M417.4 141.0h0M415.1 140.5h0M407.5 142.7h0M416.6 134.9h0M407.7 144.0h0M409.4 146.1h0M415.6 135.8h0M413.0 143.5h0M417.0 143.2h0M415.6 135.6h0M413.0 137.0h0M409.4 143.1h0M411.2 134.8h0M408.4 145.9h0M415.5 143.6h0M412.6 139.8h0M412.3 140.9h0M416.4 143.4h0M405.7 145.5h0M417.0 136.5h0M410.0 141.1h0M417.4 142.0h0M417.2 138.0h0M417.2 142.1h0M409.9 144.6h0M418.4 141.7h0M416.9 142.4h0M412.4 141.0h0M412.4 139.5h0M415.5 139.1h0M412.4 143.5h0M417.7 136.8h0M418.2 141.2h0M412.2 141.4h0M413.2 140.7h0M413.3 138.9h0M411.5 145.0h0M411.7 135.8h0M412.4 144.0h0M407.2 147.9h0M413.6 133.8h0M415.0 140.6h0M406.9 146.9h0M414.1 135.0h0M417.6 142.9h0M414.1 140.5h0M415.7 137.4h0M409.5 138.5h0M410.5 140.4h0M413.4 144.0h0M413.5 134.4h0M414.2 138.5h0M410.7 140.1h0M414.3 136.4h0M410.0 144.6h0M411.9 139.5h0M411.9 136.5h0M410.1 139.4h0M414.1 140.2h0M408.4 145.7h0M410.4 140.3h0M418.1 137.8h0M412.1 136.7h0M412.7 135.2h0M416.0 134.6h0M410.7 136.3h0M414.4 138.5h0M411.1 142.0h0M407.0 141.8h0M413.7 135.3h0M416.5 139.9h0M406.6 143.9h0M408.2 146.7h0M409.6 137.5h0M413.3 140.1h0M410.9 137.5h0M409.2 142.6h0M412.9 138.9h0M415.6 134.5h0M414.6 141.3h0M407.9 143.0h0M416.9 143.1h0M418.3 138.4h0M409.0 142.4h0M413.5 139.2h0M416.1 134.8h0M413.4 134.4h0M418.0 142.0h0M412.0 141.8h0M415.7 138.5h0M411.5 143.3h0M409.8 142.2h0M410.6 141.5h0M413.0 137.4h0M415.6 143.4h0M414.7 140.6h0M418.7 137.3h0M412.5 140.8h0M419.2 141.5h0M412.9 140.1h0M408.1 140.2h0M416.6 139.2h0M410.2 137.3h0M408.4 139.9h0M410.2 140.9h0M411.2 142.0h0M409.3 139.0h0M411.8 135.1h0M411.3 138.4h0M412.0 139.2h0M409.4 142.1h0M412.4 133.6h0M411.9 137.4h0M413.4 133.8h0M410.5 139.0h0M410.4 136.2h0M410.5 145.4h0M413.1 144.3h0M407.5 144.7h0M417.7 139.5h0M407.6 142.1h0M409.2 147.3h0M414.2 137.2h0M406.6 144.5h0M417.4 142.9h0M407.6 147.1h0M413.6 139.6h0M417.7 140.3h0M406.7 147.0h0M418.3 140.2h0M411.7 136.8h0M413.1 136.5h0M404.9 145.9h0M410.8 140.0h0M413.8 143.8h0M413.1 141.4h0M408.2 141.2h0M417.2 136.0h0M409.3 138.5h0M407.3 142.9h0M408.2 147.0h0M419.0 142.4h0M414.8 141.0h0M411.6 137.0h0M414.7 141.8h0M407.3 143.7h0M415.6 136.3h0M408.0 142.8h0M410.9 138.3h0M417.9 142.9h0M411.5 143.6h0M413.7 142.6h0M407.2 145.8h0M407.9 143.7h0M417.1 141.9h0M410.1 140.5h0M411.0 144.3h0M417.2 140.1h0M409.7 137.6h0" stroke="#4169E1" stroke-width="0.7" stroke-linecap="round" fill="none" opacity="0.75"/>
<path d="M402.4 180.3h0M402.7 179.2h0M395.2 189.4h0M398.0 186.4h0M404.0 180.7h0M400.0 182.6h0M408.2 186.8h0M399.4 183.8h0M401.1 181.8h0M401.6 189.3h0M403.6 187.7h0M405.1 186.4h0M396.1 188.0h0M410.0 188.2h0M403.6 181.8h0M395.7 185.3h0M405.6 181.2h0M395.0 186.9h0M406.5 184.0h0M406.0 184.9h0M410.2 180.8h0M399.0 189.2h0M406.0 184.9h0M403.2 185.3h0M396.9 188.0h0M400.7 182.0h0M409.9 181.9h0M398.3 181.2h0M401.3 179.9h0M405.3 182.2h0M396.0 186.0h0M408.1 180.4h0M395.7 180.4h0M398.9 186.9h0M408.7 185.3h0M407.1 187.1h0M401.1 185.3h0M398.1 190.4h0M403.6 187.3h0M397.9 178.0h0M397.5 181.4h0M400.0 178.7h0M397.8 178.3h0M405.6 187.2h0M402.1 180.6h0M408.0 180.7h0M404.5 182.2h0M394.9 184.4h0M395.0 181.2h0M405.6 188.9h0M411.2 185.9h0M396.7 182.0h0M409.6 183.3h0M403.5 186.5h0M404.5 185.1h0M391.8 185.4h0M395.9 184.4h0M408.7 181.9h0M392.4 184.7h0M398.0 188.1h0M411.1 182.1h0M400.0 180.3h0M407.0 187.4h0M409.4 185.7h0M408.7 177.0h0M404.2 180.1h0M397.0 186.7h0M401.6 183.0h0M396.4 185.2h0M394.5 181.4h0M396.3 188.9h0M402.5 177.3h0M401.2 181.3h0M399.2 189.5h0M408.6 187.1h0M409.5 180.1h0M397.3 184.8h0M401.2 185.9h0M400.1 179.1h0M408.0 182.1h0M412.0 184.4h0M404.6 183.3h0M400.2 190.0h0M396.1 188.6h0M395.0 179.6h0M403.4 186.7h0M399.6 183.3h0M410.3 177.6h0M400.3 183.8h0M397.4 185.5h0M397.6 179.3h0M400.9 183.0h0M398.6 187.8h0M409.1 183.8h0M402.8 185.5h0M408.9 184.5h0M405.9 186.6h0M398.5 180.3h0M400.3 178.2h0M395.3 182.5h0M411.7 183.0h0M400.5 188.7h0M397.8 180.4h0M407.2 180.8h0M404.6 189.9h0M396.9 180.3h0M409.3 185.3h0M410.3 182.2h0M410.0 186.8h0M397.6 191.0h0M399.3 178.5h0M397.9 180.5h0M396.8 186.3h0M406.9 180.9h0M404.3 179.7h0M393.5 180.5h0M396.2 181.7h0M395.7 181.5h0M401.6 189.6h0M407.3 187.4h0M400.4 182.2h0M407.9 180.7h0M404.2 179.8h0M399.0 184.0h0M396.2 188.7h0M400.8 179.8h0M394.0 184.0h0M403.8 181.0h0M400.7 189.6h0M401.6 179.8h0M406.0 179.2h0M406.7 182.5h0M408.5 186.8h0M406.3 177.8h0M395.6 187.5h0M405.4 181.2h0M403.7 186.4h0M401.8 185.5h0M399.4 179.5h0M393.5 183.9h0M394.1 186.5h0M398.5 188.0h0M405.9 181.9h0M405.5 180.0h0M398.0 189.7h0M400.8 182.3h0" stroke="#00BFFF" stroke-width="0.7" stroke-linecap="round" fill="none" opacity="0.75"/>
<path d="M384.1 190.8h0M383.3 199.2h0M393.2 188.4h0M387.3 191.7h0M393.6 184.5h0M394.8 189.7h0M392.8 190.1h0M387.0 201.0h0M390.9 185.5h0M391.3 195.8h0M384.7 202.4h0M387.2 198.9h0M393.1 193.8h0M396.5 194.0h0M383.7 198.5h0M387.1 202.2h0M394.8 188.1h0M393.9 189.0h0M384.2 200.9h0M392.3 185.5h0M385.6 199.0h0M384.0 195.8h0M394.1 193.5h0M394.9 195.7h0M386.1 199.0h0M392.6 191.4h0M393.0 196.1h0M383.7 198.5h0M391.4 189.3h0M393.3 195.0h0M384.2 191.2h0M390.9 196.3h0M389.3 201.1h0M389.2 197.4h0M389.4 189.2h0M391.6 196.6h0M382.6 202.0h0M392.0 195.8h0M387.4 190.1h0M391.3 186.0h0M386.2 192.8h0M391.3 195.6h0M386.3 190.9h0M387.1 191.0h0M389.4 190.8h0M383.7 190.4h0M391.5 188.6h0M385.0 198.2h0M394.8 190.1h0M396.3 188.9h0M386.0 197.6h0M385.2 192.4h0M391.3 190.8h0M387.6 199.1h0M391.5 198.0h0M392.5 186.3h0M394.8 197.2h0M391.7 187.4h0M390.6 199.2h0M381.6 196.7h0M388.1 198.7h0M391.7 192.7h0M381.4 200.7h0M389.5 188.2h0M384.2 195.9h0M388.0 189.1h0M385.4 197.7h0M395.7 190.2h0M389.0 197.4h0M392.1 186.2h0M388.9 199.7h0M385.9 196.2h0M392.3 188.6h0M384.7 197.4h0M386.7 200.5h0M393.6 191.8h0M395.2 187.7h0M393.0 193.3h0M390.7 195.3h0M395.0 190.1h0M387.9 201.2h0M390.5 193.5h0M393.4 193.7h0M384.0 199.0h0M391.5 186.1h0M393.3 193.8h0M391.1 186.0h0M396.1 186.3h0M382.2 200.0h0M387.4 198.1h0M394.8 191.7h0M387.3 190.0h0M387.9 194.4h0M389.6 185.6h0M386.9 194.5h0M383.2 189.7h0M389.9 194.8h0M394.7 195.2h0M390.0 193.3h0M387.4 197.8h0M387.2 200.1h0M390.0 185.4h0M392.6 196.2h0M388.8 192.3h0M386.9 190.3h0M387.9 193.9h0M390.0 196.1h0M391.8 184.4h0M393.8 187.2h0M387.1 188.1h0M388.3 186.9h0M393.9 195.7h0M388.8 190.1h0M384.0 195.5h0M388.2 201.1h0M382.7 197.8h0M394.3 186.5h0M382.2 199.9h0M384.6 201.6h0M389.4 186.5h0M395.7 187.8h0M386.3 186.7h0M390.0 190.2h0M384.2 197.0h0M385.5 196.2h0M387.2 192.4h0M394.3 186.7h0M386.6 190.5h0M386.0 185.5h0M386.0 190.5h0M396.1 192.9h0M394.0 195.1h0M382.9 200.1h0M388.0 193.5h0M391.5 195.0h0M385.5 189.9h0M384.9 199.3h0M391.1 186.8h0M384.3 204.0h0M388.3 186.2h0M392.5 187.6h0M393.9 186.0h0M394.4 188.5h0M390.3 195.4h0M385.0 195.4h0M390.4 199.4h0M384.1 198.0h0M391.0 191.2h0M384.4 200.9h0M391.5 191.1h0M391.2 192.6h0M391.7 198.5h0M392.7 198.2h0M382.0 198.7h0M391.4 188.9h0M394.4 194.9h0M390.2 200.1h0M394.4 193.8h0M383.2 193.7h0M391.1 189.2h0M392.6 186.3h0M389.2 193.2h0M387.0 198.9h0M383.4 198.1h0M392.8 199.1h0M394.4 190.8h0M389.4 198.7h0M389.6 185.4h0M393.0 185.1h0M389.7 194.7h0M387.6 198.2h0M392.6 195.1h0M384.2 194.9h0M390.2 187.4h0M393.9 185.0h0M388.6 186.2h0M387.5 198.6h0M383.2 201.3h0M389.9 187.2h0M382.4 199.7h0M388.2 192.3h0M388.2 199.7h0M385.9 190.5h0M393.8 191.8h0M382.3 189.9h0M393.5 195.2h0M390.1 194.6h0M388.5 194.0h0M388.0 200.1h0M394.8 189.4h0M393.9 186.8h0M389.1 198.3h0M391.7 187.1h0M392.4 194.7h0M395.2 192.1h0M391.9 191.4h0M389.4 184.9h0M384.0 193.3h0M395.1 185.2h0M391.6 186.9h0M384.1 194.4h0M387.2 197.8h0M393.7 185.6h0M394.5 195.1h0M386.2 188.2h0M384.0 196.6h0M385.5 200.1h0M383.4 198.4h0M388.8 188.4h0M387.9 201.8h0M391.5 199.2h0M387.1 192.5h0M387.8 192.4h0M384.7 189.4h0M383.3 195.9h0M391.7 185.9h0M390.0 190.0h0M386.5 195.8h0M386.6 191.7h0M384.9 196.9h0M391.9 188.3h0M395.0 197.4h0M383.8 193.2h0M395.6 189.0h0M390.4 184.6h0M393.8 188.8h0M389.8 187.2h0M390.9 197.4h0M392.3 194.8h0M389.6 190.7h0M392.8 187.8h0M390.4 198.2h0M390.1 196.1h0M387.5 192.9h0M391.1 190.9h0M390.4 194.2h0M393.9 190.0h0M393.6 191.1h0M388.5 192.3h0M387.5 199.4h0M394.5 190.5h0M392.9 199.0h0M390.2 199.0h0M385.3 189.1h0M395.9 187.9h0M394.9 186.6h0M387.5 196.6h0M383.9 197.9h0M392.9 194.1h0M392.0 197.7h0M384.7 198.4h0M390.6 194.9h0M390.7 197.3h0M391.1 193.2h0M392.0 190.6h0" stroke="#4682B4" stroke-width="0.7" stroke-linecap="round" fill="none" opacity="0.75"/>
<path d="M404.6 202.8h0M403.2 201.9h0M406.0 206.5h0M401.0 200.6h0M405.9 193.7h0M405.6 196.2h0M402.4 202.9h0M399.5 193.5h0M395.9 197.3h0M407.5 195.7h0M407.1 196.0h0M402.4 194.7h0M397.6 196.4h0M407.1 204.3h0M402.9 191.5h0M404.1 198.7h0M397.1 198.8h0M406.6 201.0h0M399.9 198.3h0M397.6 192.7h0M406.6 200.4h0M400.4 198.1h0M405.2 196.6h0M399.1 192.8h0M402.6 202.6h0M406.0 195.9h0M401.5 197.9h0M405.6 193.6h0M407.2 191.8h0M403.4 203.9h0M410.4 205.8h0M393.4 195.4h0M408.9 198.4h0M405.0 202.1h0M409.6 203.7h0M400.1 199.3h0M406.9 194.4h0M402.9 199.7h0M399.8 194.7h0M394.8 192.8h0M392.9 194.0h0M398.4 195.8h0M404.2 193.1h0M408.0 197.1h0M400.4 192.7h0M408.8 196.4h0M406.4 199.8h0M398.9 199.2h0M398.0 191.9h0M413.1 204.0h0M409.0 204.2h0M408.5 204.1h0M402.0 196.5h0M396.7 199.3h0M408.4 190.8h0M408.3 206.1h0M395.5 194.9h0M414.8 206.4h0M401.6 195.0h0M408.5 193.0h0M404.4 193.8h0M405.4 201.9h0M413.2 204.1h0M404.2 196.8h0M406.7 200.4h0M403.3 196.6h0M411.2 198.8h0M399.9 194.8h0M410.3 205.7h0M396.8 196.1h0M400.9 195.5h0M410.0 195.4h0M400.3 190.6h0M399.5 194.2h0M397.3 197.3h0M411.8 203.7h0M397.6 196.6h0M408.2 201.5h0M403.7 197.6h0M406.7 197.0h0M407.2 196.6h0M403.5 201.3h0M413.3 202.4h0M400.8 192.5h0M399.7 199.5h0M397.6 200.3h0M406.1 196.5h0M410.4 200.6h0M410.7 201.3h0M409.1 199.8h0M399.1 196.0h0M407.5 204.9h0M409.5 202.6h0M410.3 199.7h0M398.4 196.7h0M403.5 193.8h0M412.4 197.9h0M402.6 202.4h0M408.0 196.8h0M412.3 207.1h0M403.2 195.0h0M410.4 203.4h0M401.2 196.0h0M399.6 200.2h0M397.3 200.2h0M397.0 196.7h0M411.4 205.4h0M403.5 194.5h0M413.2 205.1h0M410.0 200.5h0M394.8 197.4h0M402.4 196.1h0M403.4 193.5h0M406.5 203.1h0M410.3 203.8h0M407.7 204.0h0M396.3 197.7h0M405.0 199.9h0M412.3 202.1h0M401.7 194.3h0M401.4 196.1h0M397.5 198.1h0M400.6 190.5h0M398.6 196.1h0M402.4 194.3h0M400.4 191.3h0M409.3 200.0h0M394.6 196.3h0M403.5 196.5h0M409.0 193.8h0M405.3 189.7h0M400.3 195.1h0M393.3 192.3h0M399.2 190.0h0M399.9 199.8h0M409.7 194.6h0M409.5 199.4h0M402.1 193.9h0M398.9 201.2h0M409.7 199.3h0M399.1 192.7h0M414.5 205.9h0M414.6 203.8h0M408.0 197.2h0M409.8 198.5h0M413.4 208.6h0M409.7 195.2h0M411.5 204.4h0M402.7 192.8h0M395.2 192.6h0M413.8 206.5h0M404.8 191.8h0M407.1 195.7h0M413.2 201.0h0M398.4 192.4h0M394.5 195.0h0M402.6 200.9h0M414.3 203.9h0M410.2 195.4h0M410.6 206.1h0M412.5 206.0h0M412.7 201.6h0M394.7 191.8h0M410.8 203.2h0M404.7 203.2h0M403.1 195.2h0M395.0 195.7h0M404.4 199.0h0M397.7 192.2h0M405.4 191.8h0M395.3 193.3h0M399.9 194.6h0M403.6 193.5h0M394.6 193.6h0M406.1 203.9h0M411.2 197.4h0M411.0 198.5h0M398.1 198.8h0M402.0 198.2h0M398.2 195.0h0M405.9 202.5h0M413.8 202.6h0M396.2 196.6h0M412.4 201.8h0M407.8 193.3h0M405.2 196.2h0M412.9 201.7h0M403.1 202.9h0M394.7 197.9h0M405.5 202.4h0M404.3 204.8h0M400.4 194.9h0M394.3 194.8h0M400.6 196.5h0M402.2 200.3h0M408.8 193.7h0M404.8 196.5h0M409.0 200.4h0M398.3 198.0h0M404.4 198.2h0M407.6 204.9h0M408.2 201.6h0M396.7 198.5h0M411.3 201.7h0M406.8 192.5h0M397.2 192.7h0M397.1 193.8h0M404.8 192.5h0M396.7 194.3h0M400.8 200.8h0M406.8 199.2h0M399.5 194.2h0M414.7 204.2h0M405.9 192.7h0M398.0 192.3h0M404.4 189.8h0M410.4 200.6h0M408.4 203.2h0M405.9 191.7h0M404.9 199.7h0M407.8 198.3h0M406.1 197.9h0M403.9 191.6h0M404.1 198.8h0M404.9 204.6h0M404.5 204.7h0M403.1 191.7h0M406.7 200.9h0M396.7 191.0h0M406.9 204.2h0M404.2 199.2h0M401.0 193.8h0M410.5 199.0h0M406.9 194.9h0M399.6 192.9h0M405.2 203.9h0M412.8 204.6h0M401.0 201.9h0M408.4 191.7h0M398.7 196.7h0M401.3 200.3h0M410.9 196.6h0M394.8 195.9h0M401.4 201.5h0M407.9 199.0h0M407.0 204.5h0M403.8 191.5h0M397.9 200.2h0M401.2 197.1h0M403.7 203.9h0M404.4 194.7h0M404.7 193.3h0M409.4 197.9h0M395.2 192.3h0M403.2 191.8h0M402.9 201.6h0M412.8 206.5h0M399.6 190.6h0M402.0 191.7h0M409.1 195.8h0M406.3 199.6h0M410.4 200.0h0M402.2 197.3h0M409.2 202.4h0M409.9 199.6h0M401.3 197.2h0M406.4 195.9h0M414.1 206.6h0M414.1 202.4h0M412.2 198.3h0M400.5 191.2h0M399.0 197.5h0M406.2 198.7h0M398.8 196.1h0M402.4 194.3h0M410.3 199.1h0M402.1 199.0h0M398.0 192.8h0M404.5 193.0h0M410.7 200.4h0M411.2 207.8h0M405.2 193.5h0M408.3 195.6h0M413.3 200.3h0M403.2 204.2h0M405.5 191.4h0M403.2 204.0h0M408.4 192.7h0M401.8 195.8h0M410.1 193.7h0M400.9 200.9h0M407.2 206.1h0M400.3 197.7h0M401.4 191.1h0M404.8 194.4h0M408.8 201.9h0M402.3 191.6h0M403.5 205.0h0M406.2 195.8h0M405.3 201.4h0M402.1 193.0h0M410.2 205.5h0M407.3 191.5h0M407.9 199.9h0M412.3 200.1h0M411.1 196.1h0M412.1 203.3h0M409.3 202.9h0" stroke="#00FFFF" stroke-width="0.7" stroke-linecap="round" fill="none" opacity="0.75"/>
<path d="M433.2 203.0h0M434.2 206.1h0M434.5 199.9h0M429.6 201.6h0M429.6 197.0h0M433.3 203.8h0M430.0 196.8h0M428.7 196.1h0M439.0 204.9h0M436.4 198.4h0M435.8 202.3h0M430.2 197.4h0M436.8 207.3h0M436.4 208.3h0M431.1 200.4h0M436.1 203.8h0M433.1 195.7h0M430.2 192.9h0M433.9 199.5h0M430.8 202.2h0M433.8 200.4h0M436.0 205.2h0M427.9 195.1h0M436.4 205.7h0M432.8 199.9h0M431.5 200.0h0M430.8 197.8h0M433.4 204.4h0M429.2 194.5h0M435.3 204.7h0M430.0 194.1h0M433.3 200.3h0M427.9 199.0h0M432.3 199.5h0M434.4 203.8h0M430.3 196.8h0M434.9 200.9h0M429.9 199.4h0M430.9 196.0h0M428.9 198.2h0M437.0 206.5h0M432.0 196.4h0M429.0 196.6h0M434.1 196.9h0M437.3 208.8h0M437.3 206.9h0M432.7 201.8h0M432.5 199.0h0M434.7 202.1h0M431.7 196.5h0M431.6 198.8h0M436.2 203.1h0M431.9 200.3h0M434.6 206.1h0M437.2 201.7h0M429.8 198.9h0M433.7 204.6h0M429.2 193.9h0M437.1 206.2h0M438.8 204.8h0M429.7 195.2h0M437.2 202.7h0M435.6 205.7h0M433.0 201.4h0M431.3 196.2h0M439.4 208.5h0M437.1 207.5h0M429.1 194.8h0M437.0 205.5h0M428.4 198.5h0M438.2 208.7h0M435.9 206.3h0M431.6 199.1h0M437.6 205.1h0M438.4 201.1h0M433.2 197.4h0" stroke="#F08080" stroke-width="0.7" stroke-linecap="round" fill="none" opacity="0.75"/>
<path d="M383.0 222.3h0M386.6 221.4h0M379.8 202.0h0M392.1 224.5h0M378.0 205.1h0M387.2 205.9h0M375.9 207.8h0M378.9 217.0h0M386.7 220.7h0M380.2 209.7h0M382.5 219.4h0M383.5 208.9h0M380.0 206.5h0M383.3 212.2h0M379.2 209.2h0M383.8 214.1h0M378.2 203.1h0M380.4 216.3h0M381.4 210.3h0M382.7 220.5h0M377.9 214.8h0M380.2 204.4h0M387.0 223.2h0M393.6 225.3h0M386.1 212.5h0M383.6 209.9h0M382.3 202.7h0M391.6 226.4h0M389.2 223.2h0M384.3 209.3h0M393.6 218.8h0M385.1 216.5h0M391.4 223.7h0M382.4 214.8h0M390.5 221.5h0M390.8 217.1h0M380.4 216.6h0M379.8 213.9h0M382.4 223.7h0M381.5 204.8h0M377.8 208.5h0M389.1 224.3h0M389.9 218.9h0M380.1 201.9h0M377.2 215.7h0M389.2 226.6h0M376.8 214.8h0M386.4 226.3h0M389.0 213.3h0M391.8 217.7h0M383.4 201.0h0M388.7 215.1h0M386.6 225.1h0M390.0 221.0h0M385.8 226.6h0M387.8 218.4h0M378.5 216.9h0M389.9 225.9h0M379.1 216.8h0M375.8 212.6h0M382.6 205.1h0M378.8 220.1h0M385.6 216.1h0M387.3 211.6h0M376.5 216.5h0M382.8 205.3h0M386.2 215.5h0M385.8 224.9h0M381.8 209.4h0M384.4 208.3h0M382.4 202.0h0M380.8 219.8h0M387.4 214.7h0M384.8 221.1h0M382.7 217.6h0M391.4 217.3h0M391.8 214.0h0M376.4 210.0h0M386.3 216.0h0M383.9 212.1h0M390.8 219.2h0M384.6 217.6h0M387.8 217.3h0M382.2 217.7h0M385.4 222.2h0M375.7 209.1h0M388.6 226.9h0M381.0 206.9h0M389.8 211.7h0M387.0 217.7h0M379.8 204.6h0M392.6 226.7h0M387.6 215.7h0M390.9 226.9h0M382.1 205.4h0M388.4 222.6h0M386.1 218.7h0M385.5 214.2h0M383.6 213.5h0M379.3 214.5h0M385.0 206.0h0M379.5 212.1h0M383.1 207.4h0M380.5 214.8h0M388.7 221.2h0M382.0 212.6h0M386.7 214.6h0M379.5 201.7h0M375.6 208.3h0M391.2 229.0h0M380.0 206.4h0M381.9 211.3h0M381.0 206.9h0M390.9 217.1h0M384.1 218.3h0M385.0 225.6h0M391.8 224.4h0M376.6 205.1h0M378.7 208.9h0M388.0 229.0h0M383.5 220.0h0M386.6 222.2h0M385.9 212.5h0M377.0 216.7h0M389.6 218.4h0M382.2 206.8h0M389.4 220.0h0M386.4 213.3h0M385.3 222.5h0M391.9 216.8h0M378.3 202.5h0M377.5 212.5h0M386.8 212.4h0M386.5 216.8h0M376.9 212.9h0M386.4 218.3h0M377.9 208.3h0M376.2 213.4h0M387.1 216.3h0M385.3 222.8h0M381.1 220.5h0M380.7 219.7h0M391.6 224.4h0M385.2 214.1h0M386.5 207.5h0M383.9 220.3h0M384.0 225.4h0M379.4 213.8h0M383.4 217.8h0M376.9 203.1h0M384.2 207.5h0M388.4 214.8h0M382.5 207.0h0M379.3 204.3h0M385.9 219.3h0M394.7 225.1h0M382.5 224.0h0M382.2 210.2h0M387.6 215.6h0M386.2 224.8h0M391.6 229.2h0M377.6 206.2h0M383.9 215.5h0M374.2 214.6h0M388.7 215.7h0M380.2 206.8h0M387.0 209.1h0M388.2 221.3h0M386.7 210.8h0M389.6 223.4h0M389.6 213.2h0M378.3 207.7h0M380.5 207.5h0M383.4 216.9h0M376.9 213.0h0M379.5 213.6h0M379.7 202.1h0M379.7 202.4h0M383.4 219.3h0M383.4 203.0h0M389.3 220.4h0M386.8 224.3h0M384.6 223.6h0M382.5 202.9h0M389.2 216.6h0M386.9 224.0h0M377.5 211.1h0M390.2 220.8h0M381.7 217.9h0M394.6 225.8h0M377.9 202.3h0M382.3 203.9h0M389.2 226.5h0M385.8 215.5h0M379.5 204.2h0M379.6 208.9h0M381.9 207.5h0M380.9 201.4h0M385.5 211.9h0M376.5 207.8h0M388.6 225.0h0M379.2 214.1h0M389.8 225.9h0M385.3 223.5h0M375.5 210.0h0M376.4 217.7h0M380.8 210.7h0M390.6 220.5h0M380.5 219.4h0M388.9 218.2h0M381.6 204.3h0M387.2 222.7h0M394.4 226.7h0M387.4 216.4h0M388.3 225.5h0M375.3 208.0h0M391.2 222.6h0M377.5 203.0h0M379.3 201.6h0M376.5 205.2h0M389.0 226.6h0M382.2 216.6h0M379.8 212.6h0M392.2 216.0h0M383.3 215.0h0M390.7 216.2h0M379.3 210.3h0M389.1 226.4h0M383.6 212.3h0M382.3 206.3h0M380.1 214.9h0M387.2 225.3h0M377.4 207.8h0M377.1 214.3h0M386.9 212.5h0M378.2 201.9h0M386.8 226.1h0M379.0 213.6h0M378.6 207.3h0M388.0 223.7h0M379.9 217.1h0M391.7 227.2h0M378.8 219.0h0M376.7 218.2h0M392.2 224.4h0M388.6 220.3h0M393.4 223.8h0M380.0 206.8h0M382.6 214.9h0M380.3 218.2h0M382.6 223.4h0M390.3 221.2h0M379.2 218.1h0M374.6 214.0h0M382.0 204.2h0M381.3 203.6h0M388.2 213.6h0M385.7 220.3h0M394.2 223.9h0M382.8 213.2h0M383.2 203.3h0M390.4 224.2h0M386.8 212.6h0M384.9 224.7h0M378.4 205.7h0M377.1 211.9h0M380.6 223.2h0M387.1 222.2h0M381.4 214.7h0M389.3 223.0h0M380.2 214.0h0M392.0 215.3h0M386.3 225.3h0M379.1 202.2h0M382.4 214.0h0M382.2 209.7h0M388.2 227.2h0M378.8 217.7h0M377.6 214.5h0M379.2 209.1h0M377.2 211.4h0M378.8 205.9h0M381.1 209.5h0M376.8 216.7h0M388.6 224.7h0M380.8 219.7h0M375.8 209.0h0M377.8 207.2h0M392.4 224.4h0M381.7 220.0h0M377.2 215.4h0M387.0 213.8h0M379.1 219.7h0M388.2 225.0h0M376.7 207.7h0M392.6 219.1h0M382.4 214.8h0M385.5 207.7h0M385.1 226.8h0M385.6 219.9h0M377.5 216.4h0M383.6 205.0h0M387.5 212.4h0M375.8 211.6h0M394.4 226.4h0M380.8 213.7h0M376.9 220.6h0M386.4 217.0h0M391.8 225.0h0M382.9 207.1h0M378.6 218.9h0M385.6 223.0h0M374.2 213.8h0M383.2 223.1h0M375.6 214.1h0M383.4 217.4h0M388.6 223.6h0M384.0 213.2h0M382.2 211.4h0M381.5 225.0h0M378.1 219.6h0M391.4 218.6h0M380.9 211.5h0M379.7 211.2h0M389.5 210.9h0M382.4 225.6h0M388.1 215.8h0" stroke="#D2B48C" stroke-width="0.7" stroke-linecap="round" fill="none" opacity="0.75"/>
<path d="M406.5 217.6h0M404.5 214.5h0M398.6 222.4h0M420.1 225.1h0M406.3 222.9h0M395.2 222.5h0M413.2 221.4h0M392.2 220.3h0M404.2 228.9h0M402.4 222.1h0M396.3 213.2h0M410.2 228.2h0M414.5 220.9h0M402.7 222.7h0M411.8 216.0h0M407.4 233.8h0M396.3 227.9h0M392.5 217.3h0M402.1 214.0h0M404.8 227.2h0M402.7 233.0h0M404.0 233.5h0M400.5 219.3h0M415.3 227.8h0M414.0 229.5h0M415.4 229.9h0M419.7 226.1h0M410.2 223.7h0M402.6 233.6h0M417.7 218.7h0M399.1 211.6h0M411.9 220.9h0M409.5 215.2h0M399.4 225.7h0M397.0 227.1h0M407.3 223.6h0M405.7 218.0h0M396.1 214.2h0M391.2 222.7h0M403.0 227.1h0M405.7 221.5h0M395.5 217.5h0M401.7 222.3h0M418.5 225.8h0M393.9 225.3h0M405.7 229.8h0M401.4 217.6h0M413.8 228.0h0M415.5 219.2h0M414.8 228.6h0M393.6 214.4h0M412.1 224.8h0M407.4 218.9h0M410.1 215.7h0M420.9 230.2h0M411.6 228.5h0M402.9 216.3h0M407.5 234.7h0M421.6 227.1h0M410.6 214.9h0M393.7 215.8h0M400.9 225.4h0M409.9 225.1h0M395.7 215.7h0M413.1 224.7h0M419.1 221.4h0M410.7 227.5h0M410.4 225.1h0M416.5 226.5h0M417.6 232.8h0M392.6 224.0h0M410.8 231.1h0M403.7 227.2h0M408.2 236.0h0M396.5 215.5h0M418.6 218.5h0M392.7 226.1h0M404.9 217.1h0M421.8 231.4h0M405.3 225.1h0M409.9 219.8h0M406.5 228.3h0M399.1 223.6h0M402.2 235.2h0M390.4 215.6h0M390.3 215.6h0M404.9 224.0h0M412.7 229.7h0M397.2 219.7h0M396.9 217.6h0M412.7 228.3h0M418.5 230.6h0M414.3 226.2h0M398.7 231.7h0M393.0 223.8h0M395.1 230.0h0M395.6 213.8h0M407.4 230.3h0M411.6 230.1h0M410.9 232.7h0M403.1 222.2h0M405.6 228.2h0M403.7 233.5h0M402.4 227.1h0M404.1 216.7h0M413.1 221.2h0M403.1 227.8h0M409.0 230.4h0M416.6 218.9h0M392.5 225.9h0M407.7 230.9h0M417.1 218.5h0M392.3 216.7h0M405.2 221.5h0M419.5 232.7h0M413.6 226.9h0M405.7 222.3h0M406.0 213.8h0M416.2 232.6h0M416.6 229.6h0M401.0 224.4h0M397.8 231.9h0M411.4 232.7h0M406.3 221.9h0M404.5 229.3h0M402.6 225.1h0M420.6 224.0h0M403.2 217.7h0M416.4 220.4h0M391.8 215.0h0M409.9 220.3h0M413.6 215.8h0M416.4 219.5h0M397.0 215.2h0M405.8 212.4h0M401.4 230.0h0M398.6 215.6h0M404.8 232.9h0M413.6 229.2h0M396.0 221.6h0M416.4 230.5h0M391.7 221.0h0M414.2 218.3h0M402.9 226.8h0M412.4 217.9h0M402.3 226.5h0M409.1 235.7h0M401.1 228.1h0M397.7 222.4h0M406.0 222.5h0M397.1 219.1h0M395.6 225.1h0M410.1 216.4h0M403.6 222.4h0M401.4 225.4h0M392.4 216.9h0M393.5 219.0h0M416.0 233.5h0M399.2 215.7h0M413.5 221.7h0M402.8 232.8h0M412.3 236.2h0M419.1 227.7h0M394.8 214.4h0M404.9 218.5h0M419.2 230.6h0M391.5 217.2h0M398.9 217.4h0M406.0 230.7h0M393.4 214.9h0M403.4 232.3h0M395.7 221.2h0M404.7 231.6h0M423.6 229.0h0M410.2 232.7h0M411.8 221.3h0M419.1 221.8h0M412.3 224.5h0M416.6 233.6h0M393.9 214.4h0M394.7 228.3h0M404.2 227.3h0M420.8 228.8h0M394.4 215.6h0M418.3 222.8h0M395.4 219.8h0M421.1 222.1h0M416.7 225.4h0M399.8 218.5h0M401.0 213.5h0M418.8 226.2h0M411.7 222.2h0M406.3 217.2h0M407.4 230.0h0M408.8 215.8h0M408.3 231.6h0M416.8 227.5h0M401.3 230.4h0M416.1 219.3h0M392.4 214.7h0M409.6 232.2h0M395.0 216.3h0M409.7 224.1h0M393.8 217.5h0M402.0 218.5h0M394.5 224.1h0M415.3 228.6h0M413.3 229.3h0M408.4 229.7h0M389.5 215.1h0M418.5 222.6h0M416.0 220.3h0M413.1 230.6h0M399.1 216.3h0M418.1 222.2h0M395.6 223.0h0M407.0 221.3h0M415.4 227.0h0M411.8 221.7h0M395.6 215.1h0M411.1 216.0h0M401.2 227.9h0M398.8 222.9h0M404.4 223.5h0M405.9 223.8h0M401.8 221.8h0M410.9 219.6h0M403.6 230.7h0M394.7 221.5h0M407.2 223.5h0M408.6 227.0h0M404.1 230.9h0M415.9 231.7h0M400.4 234.0h0M402.5 220.2h0M415.5 218.7h0M413.9 220.6h0M415.9 230.9h0M399.2 220.4h0M418.4 226.2h0M396.4 230.5h0M411.2 226.9h0M408.9 221.6h0M418.8 219.8h0M416.4 231.3h0M414.8 232.4h0M403.0 223.6h0M416.7 225.8h0M413.6 226.4h0M414.6 225.3h0M403.0 217.7h0M414.8 217.7h0M398.9 224.7h0M392.9 223.3h0M418.3 233.7h0M394.7 216.7h0M390.4 218.7h0M418.6 224.1h0M391.7 218.7h0M392.6 221.2h0M412.1 232.4h0M415.7 225.1h0M414.0 217.8h0M419.6 226.7h0M408.7 231.5h0M392.8 224.3h0M403.2 228.8h0M415.3 233.3h0M405.3 229.2h0M401.8 215.2h0M409.5 226.9h0M406.9 222.4h0M408.1 226.1h0M415.6 216.6h0M414.9 224.1h0M398.3 217.7h0M395.7 226.3h0M407.1 218.3h0M413.8 231.3h0M412.7 228.0h0M401.8 229.7h0M401.5 214.1h0M416.1 232.9h0M407.6 233.5h0M404.8 227.4h0M398.4 230.8h0M400.7 218.1h0M406.3 231.0h0M400.2 226.8h0M411.5 233.5h0M414.9 220.3h0M408.3 220.4h0M409.4 221.1h0M411.9 232.1h0M412.2 224.9h0M407.2 220.1h0M392.5 221.1h0M416.0 230.8h0M408.4 214.9h0M397.1 226.4h0M416.7 226.5h0M417.2 227.9h0M402.1 217.8h0M404.0 228.7h0M408.6 224.1h0M394.3 214.7h0M409.0 219.7h0M405.6 216.7h0M401.1 229.5h0M399.0 219.0h0M404.9 231.0h0M406.5 233.8h0M412.3 225.5h0M398.8 212.8h0M409.3 232.9h0M417.0 235.9h0M398.9 225.6h0M415.2 229.9h0M406.8 216.3h0M394.7 221.1h0M420.4 226.6h0M401.7 217.5h0M396.4 227.7h0M404.7 226.3h0M404.4 223.8h0M407.5 234.9h0M420.2 230.5h0M421.8 231.7h0M403.2 225.6h0M397.3 217.2h0M409.3 227.0h0M412.4 223.7h0M401.9 223.6h0M394.9 222.9h0M392.7 217.8h0M414.4 225.7h0M401.0 219.4h0M417.2 226.7h0M404.0 222.8h0M413.3 225.2h0M391.6 219.2h0M396.2 218.3h0M391.0 215.5h0M406.5 219.7h0M412.7 231.3h0M402.7 217.3h0M400.0 231.4h0M417.2 223.1h0M405.3 229.3h0M412.7 234.2h0M399.1 217.2h0M410.9 216.5h0M411.4 218.9h0M393.3 224.6h0M408.2 224.1h0M401.5 230.4h0M406.8 223.9h0M418.8 233.2h0M417.1 228.9h0M401.3 227.0h0M417.1 232.2h0M405.7 214.9h0M406.4 221.0h0M402.7 215.0h0M414.8 234.3h0M404.2 221.3h0M398.4 222.0h0M405.6 214.3h0M416.4 221.5h0M407.1 219.2h0M396.4 214.9h0M402.5 224.8h0M404.1 229.2h0M401.5 215.7h0M411.4 216.7h0M415.0 219.7h0M402.3 221.9h0M411.6 222.8h0M397.4 223.6h0M389.6 222.0h0M419.9 223.3h0M415.9 221.9h0M411.7 230.8h0M402.4 227.8h0M391.5 222.1h0M417.2 223.7h0M405.4 234.8h0M395.7 221.5h0M409.3 225.4h0M422.2 230.2h0M391.0 221.9h0M417.7 226.7h0M414.5 223.5h0M400.8 226.9h0M407.5 234.2h0M418.5 229.4h0M412.0 227.4h0M415.1 223.8h0M412.8 228.3h0M409.7 234.3h0M412.2 229.0h0M406.9 215.6h0M413.3 234.1h0M405.0 222.4h0M400.0 220.6h0M411.2 216.5h0M404.6 220.2h0M402.0 218.8h0M403.5 222.6h0M405.6 229.6h0M403.6 230.8h0M406.9 222.3h0M401.1 228.0h0M394.5 225.3h0M395.0 213.9h0M421.4 227.3h0M398.9 227.6h0M396.9 225.2h0M416.5 219.8h0M394.8 219.7h0M400.4 221.3h0M409.3 233.7h0M415.3 221.8h0M399.5 225.6h0M411.0 228.5h0M394.6 228.5h0M410.8 229.2h0M404.6 230.5h0M403.0 219.8h0M401.8 230.3h0M403.2 213.4h0M417.9 224.6h0M417.7 232.2h0M393.7 216.6h0M395.5 223.6h0M407.8 215.9h0M412.9 230.5h0M391.4 215.4h0M416.5 222.4h0M401.8 226.8h0M406.1 232.3h0M400.3 216.5h0M417.0 229.4h0M406.6 224.4h0M419.6 226.6h0M407.4 223.3h0M404.1 230.5h0M400.7 212.5h0M417.0 234.4h0M405.8 217.7h0M406.1 233.3h0M393.8 223.0h0M392.4 221.0h0M394.1 217.2h0M396.2 228.8h0M401.3 233.3h0M415.2 234.7h0M411.7 215.8h0M406.2 230.9h0M417.5 220.9h0M417.8 235.2h0M400.8 224.1h0M397.3 231.3h0M408.1 229.8h0M418.3 224.5h0M413.9 217.8h0M414.9 227.4h0M395.7 225.5h0M410.7 217.2h0M393.3 217.0h0M405.9 214.0h0M401.1 220.4h0M392.4 225.2h0M395.4 216.3h0M416.1 227.3h0M409.4 223.2h0M406.7 220.9h0M410.9 228.2h0M395.4 220.5h0M405.6 225.7h0M415.4 230.9h0M403.9 226.3h0M395.3 216.8h0M415.5 230.2h0M394.0 221.7h0M418.4 232.0h0M410.0 219.4h0M398.5 223.6h0M417.9 227.0h0M397.6 224.5h0M401.3 213.3h0M414.4 222.0h0M416.5 221.6h0M406.5 215.7h0M392.3 223.3h0M412.5 231.5h0M401.9 228.2h0M391.8 221.4h0M400.5 222.1h0M402.7 234.3h0M403.8 230.6h0M412.1 231.6h0M401.0 213.2h0M392.1 217.3h0M397.8 225.5h0M417.9 226.0h0M410.1 220.9h0M403.1 225.6h0M395.0 227.8h0M399.2 225.7h0M401.2 231.2h0M408.2 228.1h0M409.9 225.2h0M402.6 227.9h0M420.2 228.7h0M411.9 222.8h0M411.1 225.8h0M415.8 225.8h0M414.2 217.5h0M402.3 233.0h0M411.2 233.1h0M402.1 214.6h0" stroke="#8FBC8F" stroke-width="0.7" stroke-linecap="round" fill="none" opacity="0.75"/>
<path d="M407.4 225.7h0M408.8 233.6h0M408.3 226.2h0M415.7 228.1h0M407.9 230.3h0M416.9 231.3h0M410.2 232.3h0M412.2 225.9h0M409.3 233.3h0M407.7 226.2h0M410.8 232.1h0M404.9 231.5h0M404.6 228.0h0M399.5 225.9h0M404.4 230.7h0M411.1 230.0h0M406.6 233.1h0M400.7 226.9h0M405.6 224.6h0M405.9 229.6h0M404.8 229.6h0M412.6 233.5h0M404.7 229.5h0M411.5 234.9h0M407.8 229.5h0M417.2 230.0h0M412.4 232.3h0M417.6 232.4h0M406.6 225.0h0M406.9 232.3h0M411.8 225.5h0M410.2 227.1h0M402.7 228.9h0M410.6 229.3h0M404.3 232.8h0M403.9 226.0h0M415.5 228.7h0M415.3 228.2h0M412.6 226.4h0M405.4 231.4h0M407.9 224.7h0M404.4 229.3h0M410.7 230.8h0M411.6 233.8h0M404.6 232.5h0M405.8 225.7h0M414.4 227.1h0M414.3 231.6h0M404.3 232.2h0M404.6 229.8h0M403.3 232.2h0M404.4 229.2h0M417.9 230.4h0M404.9 227.6h0M407.1 229.0h0M404.8 233.0h0M407.9 227.2h0M407.0 224.5h0M408.0 230.2h0M406.5 224.8h0M412.6 235.4h0M410.3 225.9h0M407.0 231.1h0M415.7 232.2h0M404.7 233.7h0M400.7 229.0h0M407.5 228.2h0M414.5 231.3h0M413.3 232.1h0M408.7 233.9h0M403.6 229.0h0M405.4 227.3h0M411.8 225.4h0M405.3 226.2h0M414.3 232.5h0M410.3 226.0h0M409.8 230.9h0M406.5 231.4h0M409.2 224.9h0M408.7 228.8h0M412.0 226.2h0M403.5 229.8h0M412.5 235.3h0M406.1 226.3h0M414.7 231.2h0M406.3 225.4h0M411.2 226.8h0M404.8 224.5h0M404.5 224.5h0M406.2 228.0h0M416.0 230.6h0M409.7 234.2h0M410.3 230.1h0M410.1 230.0h0M402.5 227.4h0M414.6 224.9h0M410.9 233.5h0M413.7 227.1h0M414.1 225.3h0M415.8 233.4h0M411.9 230.1h0M411.0 229.1h0M418.0 230.7h0M401.5 227.8h0M407.9 232.3h0M402.9 224.1h0" stroke="#8FBC8F" stroke-width="0.7" stroke-linecap="round" fill="none" opacity="0.75"/>
<path d="M411.7 170.5h0M417.9 182.5h0M419.1 178.0h0M421.5 168.4h0M414.9 173.4h0M414.5 178.1h0M415.2 174.3h0M418.1 175.3h0M411.2 170.3h0M416.2 175.7h0M415.2 176.0h0M422.7 177.2h0M414.1 170.6h0M415.7 175.6h0M413.8 171.3h0M416.9 186.4h0M415.2 171.7h0M413.2 178.5h0M420.8 174.1h0M422.2 180.4h0M416.0 169.2h0M423.9 173.4h0M417.4 179.7h0M421.9 181.7h0M415.0 176.5h0M424.1 175.3h0M421.2 185.9h0M419.6 170.6h0M419.9 173.8h0M419.8 180.9h0M419.3 184.0h0M419.5 176.0h0M421.9 181.0h0M418.6 172.9h0M416.4 175.6h0M418.6 181.3h0M414.5 177.0h0M416.8 173.9h0M421.0 182.7h0M420.3 175.9h0M413.9 172.7h0M420.7 170.7h0M420.6 182.1h0M420.2 181.2h0M413.8 169.5h0M417.9 167.8h0M419.1 169.8h0M415.7 180.2h0M415.5 170.8h0M418.5 177.7h0M422.5 182.9h0M416.5 171.0h0M421.1 171.0h0M419.1 175.0h0M416.4 178.7h0M415.2 173.3h0M422.0 178.2h0M416.5 181.7h0M418.9 168.3h0M419.8 176.2h0M415.9 176.5h0M420.7 175.3h0M418.4 174.3h0M416.3 178.5h0M415.0 174.9h0M414.3 176.7h0M417.4 182.8h0M417.1 182.5h0M422.0 175.2h0M416.3 170.3h0M414.7 166.7h0M412.7 169.5h0M419.8 172.6h0M416.0 179.4h0M416.8 178.0h0M418.2 184.3h0M414.8 166.9h0M417.1 174.4h0M419.4 173.2h0M415.2 177.5h0M415.4 179.9h0M412.1 178.1h0M422.1 179.8h0M417.5 178.9h0M420.2 171.5h0M416.6 170.0h0M424.2 176.8h0M414.8 173.3h0M424.6 178.9h0M420.6 181.8h0M419.6 180.8h0M417.9 180.6h0M416.8 172.0h0M416.1 179.4h0M419.6 171.5h0M414.1 174.0h0M422.5 183.0h0M412.6 176.9h0M418.9 184.8h0M415.8 170.3h0M420.3 182.9h0M419.1 174.0h0M410.4 171.3h0M417.7 181.0h0M418.2 184.4h0M419.3 172.1h0M423.3 172.4h0M411.8 172.5h0M419.3 183.4h0M419.9 181.1h0M420.0 184.4h0M416.5 175.4h0M418.9 176.6h0M419.4 170.5h0M419.7 174.8h0" stroke="#FF00FF" stroke-width="0.7" stroke-linecap="round" fill="none" opacity="0.75"/>
<path d="M454.2 252.5h0M455.7 251.9h0M451.3 250.5h0M450.8 254.3h0M457.0 245.3h0M458.8 245.9h0M454.5 247.4h0M457.9 247.7h0M449.3 254.1h0M450.5 254.7h0M451.5 251.2h0M458.6 246.0h0M455.9 254.0h0M450.3 257.4h0M454.2 250.8h0M453.2 256.1h0M451.7 247.6h0M458.8 246.9h0M451.4 256.3h0M459.1 247.3h0M449.6 249.1h0M456.8 244.4h0M457.1 247.7h0M455.8 251.6h0M455.6 253.1h0M455.4 251.0h0M456.2 245.0h0M448.1 254.2h0M456.3 253.8h0M454.8 250.1h0M451.6 250.8h0M455.3 251.5h0M458.0 246.8h0M449.2 252.2h0M451.7 250.0h0M451.2 251.3h0M450.6 252.2h0M454.3 255.4h0M451.8 251.3h0M451.5 250.4h0M449.2 256.2h0M454.6 254.2h0M459.1 248.4h0M448.2 257.9h0M458.9 246.3h0M447.3 254.3h0M451.7 250.1h0M454.7 246.2h0M452.8 252.4h0M456.3 251.1h0M456.2 252.0h0M458.1 251.0h0M449.9 253.4h0M449.6 254.5h0M456.2 246.4h0M451.6 249.8h0M450.8 247.9h0M451.5 253.4h0M453.2 250.2h0M455.5 251.2h0M455.7 252.5h0M448.9 250.2h0M451.3 253.2h0M450.1 250.4h0M453.3 246.1h0M453.0 246.8h0M459.1 243.8h0M457.4 252.2h0M455.5 245.6h0M459.1 247.1h0M458.2 246.2h0M456.4 249.8h0M457.4 248.3h0M453.6 247.5h0M460.6 244.4h0M451.5 256.5h0M447.4 254.2h0M459.6 249.3h0M450.5 256.3h0M453.5 251.9h0M457.1 250.8h0M456.0 249.9h0M458.5 248.5h0M455.1 250.0h0M451.5 256.4h0M456.2 245.1h0M452.1 254.2h0M451.0 253.7h0M450.0 256.2h0M450.1 254.0h0M459.1 244.6h0M449.5 252.3h0M453.3 247.0h0M448.0 255.3h0M449.9 253.0h0M455.9 250.0h0M450.0 252.7h0M455.4 245.9h0M453.3 248.4h0M454.6 255.2h0M456.3 244.9h0M452.5 255.4h0M449.7 254.2h0M457.6 245.5h0M452.4 247.5h0M455.0 253.6h0M459.4 245.4h0M453.4 245.8h0M455.1 251.3h0M456.1 252.2h0M453.5 247.7h0M455.4 250.3h0M454.7 249.3h0M450.6 249.8h0M457.8 246.9h0M456.9 252.1h0M456.8 244.7h0M454.3 252.0h0M456.6 249.9h0M454.9 251.9h0M453.8 247.7h0M456.0 253.4h0M451.1 254.6h0M454.5 248.5h0M449.5 256.3h0M455.4 246.1h0M454.5 246.8h0M448.3 255.2h0M451.8 247.9h0M451.3 256.5h0M456.4 251.3h0M456.2 248.4h0M451.1 252.0h0M455.7 249.3h0M453.3 248.8h0M460.8 245.6h0M453.7 254.6h0M450.8 255.5h0M448.4 257.6h0M450.4 252.9h0M457.7 249.7h0M455.7 252.8h0M451.1 256.7h0M458.9 248.1h0M457.0 248.5h0M449.5 249.6h0M449.1 257.0h0M457.2 247.3h0M456.9 248.8h0M459.3 244.0h0M456.5 250.6h0M454.9 250.0h0M457.4 250.0h0M451.4 253.3h0M456.7 247.1h0M458.1 243.8h0M449.3 256.7h0M452.2 249.8h0M451.5 254.0h0M448.9 251.1h0M450.1 257.4h0M453.2 252.5h0M452.4 248.2h0M449.0 258.3h0M456.6 248.8h0M449.2 253.0h0M458.3 244.2h0M452.4 256.1h0M452.7 250.0h0M455.9 245.8h0M450.4 249.5h0M458.9 245.2h0M455.2 253.5h0M448.0 255.2h0M456.4 248.6h0M450.6 254.0h0M455.2 254.1h0M459.1 246.6h0M455.1 246.0h0M448.3 251.4h0M452.0 247.2h0M452.7 251.7h0M448.9 257.5h0M453.7 252.0h0M458.6 249.7h0M455.6 246.0h0M457.3 250.1h0M448.5 252.7h0M452.6 256.4h0M456.7 248.8h0M458.6 249.8h0M455.6 250.0h0M456.7 250.8h0M456.4 244.9h0M458.8 248.4h0M454.1 250.4h0M457.9 244.8h0M458.6 250.3h0M449.2 250.3h0M454.1 248.6h0M450.1 257.6h0M451.9 251.7h0M453.5 251.3h0M454.5 254.1h0M453.9 251.9h0M452.8 248.6h0M459.7 249.0h0M454.8 245.7h0M459.6 247.3h0M448.4 255.7h0M459.0 243.5h0M458.4 250.4h0M451.8 251.0h0M452.7 254.5h0M459.1 247.0h0M457.4 246.9h0M459.1 250.1h0M453.5 254.2h0M458.5 243.2h0M451.9 253.3h0M454.8 250.5h0M450.3 256.0h0M449.1 251.5h0M451.3 254.4h0M454.2 252.2h0M450.5 253.8h0M454.9 255.8h0" stroke="#800080" stroke-width="0.7" stroke-linecap="round" fill="none" opacity="0.75"/>
<path d="M463.9 223.5h0M476.6 226.0h0M478.8 223.9h0M465.5 224.7h0M468.6 229.3h0M471.0 226.3h0M462.8 224.1h0M473.3 226.4h0M465.9 232.8h0M470.1 225.4h0M468.2 230.2h0M471.3 226.5h0M467.6 232.4h0M470.8 225.9h0M468.3 228.0h0M465.0 225.3h0M468.5 228.7h0M470.4 224.7h0M477.3 224.2h0M470.6 226.5h0M469.2 226.4h0M468.3 227.0h0M472.9 222.8h0M477.6 224.7h0M468.3 223.4h0M472.1 225.7h0M475.2 224.4h0M467.6 230.9h0M470.3 229.4h0M462.1 224.1h0M470.3 223.5h0M469.4 223.4h0M474.0 224.0h0M479.0 225.3h0M468.6 231.0h0M474.0 225.3h0M467.2 227.6h0M469.6 224.5h0M466.5 224.5h0M470.7 224.6h0M475.1 223.2h0M475.8 224.4h0M467.6 228.0h0M470.0 227.5h0M468.2 225.3h0M474.4 226.8h0M472.1 225.0h0M473.5 225.4h0M474.1 225.5h0M466.9 224.9h0M472.9 223.5h0M472.4 227.8h0M471.3 223.8h0M477.9 224.9h0M477.5 223.7h0M469.9 228.3h0M471.4 229.6h0M473.2 225.3h0M470.0 228.8h0M468.0 227.6h0M467.8 229.8h0M469.5 230.6h0M466.0 223.6h0M474.7 225.7h0M468.6 227.1h0M473.2 223.5h0M472.7 224.2h0M471.4 224.5h0M467.5 230.5h0M472.0 225.8h0M463.7 224.7h0" stroke="#B0C4DE" stroke-width="0.7" stroke-linecap="round" fill="none" opacity="0.75"/>
<path d="M469.9 219.3h0M473.3 218.9h0M471.2 220.8h0M474.7 218.1h0M470.9 219.5h0M474.0 222.1h0M470.5 218.5h0M468.6 221.9h0M470.1 218.4h0M466.9 217.2h0M472.3 220.2h0M471.4 218.4h0M470.0 218.0h0" stroke="#FFD700" stroke-width="0.7" stroke-linecap="round" fill="none" opacity="0.75"/>
<path d="M500.5 183.9h0M498.0 180.2h0M502.9 194.2h0M500.1 189.9h0M503.5 181.0h0M495.0 186.6h0M502.6 190.8h0M502.7 183.4h0M504.6 190.9h0M505.0 186.4h0M498.5 195.0h0M498.0 183.7h0M499.7 188.2h0M500.7 181.3h0M495.9 190.6h0M500.0 186.4h0M497.3 188.5h0M504.5 196.3h0M493.9 185.3h0M499.4 188.3h0M498.1 180.8h0M501.7 196.9h0M496.9 183.8h0M496.0 189.0h0M500.4 196.5h0M495.2 189.1h0M497.0 180.1h0M499.9 193.4h0M499.5 187.1h0M501.3 190.3h0M496.7 181.8h0M495.4 187.8h0M503.0 186.5h0M500.6 185.9h0M498.7 188.4h0M501.5 195.6h0M505.2 183.0h0M498.6 193.1h0M494.6 189.1h0M495.5 190.6h0M503.4 194.6h0M499.9 181.4h0M501.7 182.9h0M495.4 182.7h0M499.3 178.6h0M500.1 182.9h0M502.7 192.1h0M498.4 188.9h0M503.5 188.6h0M500.6 184.1h0M503.9 190.7h0M494.6 184.6h0M499.6 194.9h0M496.8 183.1h0M506.1 185.0h0M505.4 193.1h0M496.1 182.1h0M499.5 195.4h0M504.8 185.9h0M498.6 193.5h0M500.2 182.8h0M497.1 180.4h0M499.6 181.9h0M499.4 189.1h0M497.6 193.9h0M503.2 183.2h0M497.5 179.3h0M503.7 188.0h0M495.0 186.5h0M505.6 182.6h0M503.4 181.0h0M497.3 182.2h0M502.6 195.0h0M499.1 183.7h0M502.3 196.0h0M499.3 191.3h0M500.9 195.8h0M505.9 193.8h0M501.2 179.9h0M495.6 183.5h0M501.2 186.8h0M498.1 178.4h0M497.2 179.8h0M500.8 189.7h0M501.0 194.6h0M505.3 185.2h0M501.4 187.8h0M501.8 191.5h0M505.4 187.2h0M495.4 181.9h0M495.3 189.0h0M506.1 190.6h0M504.0 185.5h0M494.4 184.4h0M496.5 188.8h0M497.6 182.6h0M500.1 187.1h0M499.4 188.8h0M498.3 188.6h0M496.6 185.1h0M505.7 191.6h0M494.3 185.8h0M501.1 180.3h0M504.4 182.2h0M504.6 194.7h0M500.7 180.3h0M504.6 183.1h0M501.7 196.2h0M500.8 185.0h0M496.3 186.2h0M506.1 183.7h0M500.4 195.2h0M506.0 196.0h0M495.4 189.4h0M505.9 183.7h0M494.8 181.8h0M503.5 179.0h0M503.5 187.9h0M496.1 191.4h0M504.4 181.8h0M507.4 184.5h0M495.0 184.3h0M502.5 194.9h0M500.6 196.1h0M499.8 187.6h0M498.9 184.9h0M492.8 189.3h0M502.9 192.6h0M502.9 183.2h0M505.2 192.8h0M503.9 185.4h0M500.0 193.5h0M500.2 193.2h0M495.6 191.3h0M500.7 184.1h0M502.6 181.3h0M499.8 193.8h0M503.5 179.3h0M499.5 182.6h0M498.7 179.7h0M499.8 181.1h0M496.0 181.1h0M501.7 184.3h0M497.3 183.7h0M505.4 188.5h0M496.4 191.0h0M503.1 187.8h0M503.5 194.6h0M503.3 195.3h0M497.0 189.2h0M496.7 179.0h0M503.6 194.5h0M506.3 192.0h0M499.1 189.5h0M494.8 184.6h0M499.1 179.6h0M495.5 185.4h0M501.2 184.2h0M500.6 192.9h0M503.7 192.4h0M501.6 189.6h0M498.3 192.9h0M506.0 182.4h0M497.3 192.9h0M499.7 192.9h0M497.2 185.3h0M502.9 188.7h0M497.2 184.0h0M502.2 180.7h0M503.1 190.3h0M506.0 189.1h0M502.3 183.8h0M495.1 182.8h0M499.7 188.0h0M502.2 188.9h0M497.9 184.4h0M498.8 193.1h0M497.5 180.0h0M505.9 188.2h0M494.4 186.7h0M499.2 182.8h0M502.7 196.4h0M505.1 190.0h0M501.0 188.0h0M497.4 187.9h0M495.9 191.1h0M499.6 185.5h0M501.2 186.8h0M505.7 187.2h0M495.5 186.7h0M498.2 181.7h0M494.4 185.7h0M502.7 179.4h0M502.3 187.5h0M507.0 190.2h0M505.0 180.3h0M506.0 183.2h0M496.9 192.2h0M503.7 194.9h0M496.4 183.4h0M500.2 190.6h0M498.7 190.1h0M498.8 180.1h0M501.6 186.4h0M502.3 191.5h0M501.9 188.8h0M502.6 187.3h0M500.7 178.8h0M500.2 182.0h0M494.1 183.2h0M495.6 184.3h0M498.0 182.8h0M502.7 194.6h0M505.4 185.9h0M497.0 192.8h0M497.3 191.1h0M495.0 188.4h0M499.9 191.3h0M503.3 187.6h0M499.1 189.4h0M501.5 189.6h0M503.4 190.5h0M503.6 183.5h0M499.7 194.4h0M501.6 188.5h0M504.4 184.8h0M503.0 179.1h0M506.0 183.3h0M502.7 188.3h0M501.6 181.9h0M499.7 185.8h0M501.0 183.5h0M502.9 179.1h0M496.9 178.7h0M506.6 191.5h0M496.8 194.0h0M505.4 195.3h0M505.4 191.1h0M505.4 187.1h0M501.7 195.2h0M504.2 192.3h0M498.9 182.4h0M500.1 181.3h0M500.9 188.2h0M503.3 195.3h0M498.7 183.4h0M494.4 188.0h0M500.4 194.1h0M500.7 185.3h0M502.8 188.3h0M506.0 185.1h0M504.6 190.4h0M496.5 184.6h0M499.5 179.5h0M496.5 189.2h0M503.3 187.2h0M496.0 180.2h0M502.3 195.0h0M502.9 190.2h0M492.5 186.0h0M503.7 184.6h0M499.3 193.3h0M496.3 189.6h0M506.3 189.5h0M501.6 189.9h0M505.0 180.9h0M501.1 179.3h0M501.9 186.1h0M501.5 179.3h0M495.5 184.0h0M500.1 186.1h0M497.0 182.7h0M499.8 193.7h0M504.3 194.8h0M493.6 184.7h0M497.4 194.1h0M503.9 191.5h0M496.6 186.1h0M498.0 193.4h0M502.4 185.0h0M497.3 192.6h0M499.1 187.2h0M500.2 187.0h0M506.1 185.0h0M496.7 183.4h0M499.8 182.6h0M506.3 183.7h0M500.5 183.9h0M500.1 180.2h0M501.5 184.9h0M499.4 189.5h0M497.0 188.5h0M495.9 192.3h0M499.7 186.7h0M498.5 194.5h0M500.4 187.7h0M502.7 186.4h0M494.9 181.4h0M501.2 193.5h0M500.9 196.1h0M498.2 193.4h0M495.1 183.4h0M495.5 182.8h0M498.2 193.4h0M501.5 189.5h0M502.5 182.3h0M505.3 187.2h0M495.5 189.2h0M504.6 191.7h0M495.8 181.6h0M502.7 183.6h0M495.4 182.6h0M501.4 193.5h0M497.6 188.0h0M493.7 187.5h0M507.2 187.1h0M501.2 190.0h0M500.6 191.4h0M496.2 193.7h0M503.5 184.6h0M507.1 189.6h0M496.7 184.3h0M495.7 190.1h0M494.8 185.8h0M499.0 191.6h0M496.1 190.1h0M493.8 186.3h0M503.7 179.6h0M494.7 182.0h0M505.6 191.7h0M503.6 190.0h0M492.1 186.6h0M496.6 182.6h0M496.6 193.2h0M496.9 188.0h0M497.1 180.7h0M502.4 179.7h0M497.7 187.9h0M505.7 190.3h0M505.3 180.6h0M497.7 190.4h0M498.7 195.1h0M494.4 183.0h0M501.8 187.3h0M504.2 191.2h0M502.4 193.7h0M504.3 190.5h0M496.0 184.3h0M505.8 185.0h0M501.0 192.9h0M501.7 180.7h0M495.2 186.3h0M499.9 180.6h0M495.4 184.7h0M499.5 194.8h0M494.1 184.6h0M500.1 190.5h0M503.2 191.7h0M496.1 188.3h0M500.8 190.3h0M495.5 188.9h0" stroke="#B22222" stroke-width="0.7" stroke-linecap="round" fill="none" opacity="0.75"/>
<path d="M404.5 154.9h0M410.5 164.3h0M409.3 167.5h0M405.6 152.1h0M400.8 151.4h0M410.9 160.4h0M403.4 171.8h0M403.9 168.1h0M409.6 163.0h0M408.6 157.1h0M404.0 167.1h0M409.8 159.8h0M406.1 154.5h0M407.5 159.6h0M404.4 162.0h0M401.0 159.5h0M413.2 158.5h0M412.6 161.6h0M398.5 153.3h0M406.6 170.6h0" stroke="#b5cff5" stroke-width="0.6" stroke-linecap="round" fill="none" opacity="0.5"/>
<path d="M388.1 210.7h0M389.3 199.5h0M406.6 210.2h0M392.2 208.7h0M411.4 211.0h0M390.1 209.3h0M400.0 202.8h0M394.1 210.6h0M401.8 204.8h0M393.6 201.2h0M406.1 204.3h0M411.9 207.5h0M410.2 209.6h0M412.9 213.7h0M388.6 208.9h0M408.3 210.5h0M405.7 211.9h0M387.4 207.3h0M401.7 211.5h0M393.5 209.1h0M395.5 202.2h0M410.6 209.6h0M401.1 206.1h0M413.0 206.2h0M393.7 206.9h0M402.5 210.3h0M413.2 213.4h0M406.3 205.1h0M400.4 211.8h0M411.0 210.7h0M414.1 211.7h0M394.4 204.1h0M405.3 213.2h0M391.4 208.5h0M407.7 210.1h0M393.8 205.9h0M398.5 201.3h0M394.9 207.5h0M397.7 206.4h0M408.8 213.8h0M398.4 201.8h0M399.7 206.5h0M409.8 206.2h0M408.4 211.2h0M403.8 202.1h0M398.7 199.4h0M390.1 215.2h0M390.4 206.7h0M406.0 209.5h0M392.2 207.3h0M391.1 201.7h0M410.0 212.7h0M409.3 211.7h0M410.8 209.3h0M401.0 204.0h0M400.4 206.0h0M410.2 213.4h0M393.6 210.9h0M398.4 210.7h0M403.5 208.5h0M393.2 198.2h0M403.4 211.5h0M409.4 214.7h0M393.6 207.7h0M386.3 207.9h0M409.4 215.3h0M386.9 208.6h0M393.4 203.0h0M393.5 206.5h0M393.5 207.9h0M403.7 202.4h0M404.9 213.4h0M407.9 212.4h0M394.2 204.1h0M386.9 200.7h0M395.6 208.6h0M402.2 208.7h0M389.5 214.2h0M402.6 209.8h0M394.7 207.9h0M392.5 210.6h0M408.5 208.4h0M399.8 205.8h0M393.7 209.1h0M416.7 213.9h0M409.5 207.8h0M400.7 207.3h0M409.3 212.1h0M400.1 199.1h0M402.7 204.6h0M397.0 210.4h0M396.8 209.2h0M403.5 209.5h0M391.7 211.6h0M401.5 204.0h0M392.1 210.1h0M394.8 205.0h0M391.6 208.2h0M412.4 209.5h0M404.6 205.3h0M406.6 214.6h0M390.4 208.4h0M395.4 206.1h0M389.1 211.1h0M399.9 204.3h0M398.1 204.6h0M400.4 201.5h0M402.6 203.2h0M413.9 208.1h0M394.9 205.3h0" stroke="#7fb2e0" stroke-width="0.65" stroke-linecap="round" fill="none" opacity="0.75"/>
<path d="M397.8 208.9h0M398.7 206.2h0M389.5 204.2h0M398.7 204.1h0M411.2 210.5h0M387.6 213.8h0M389.4 201.4h0M390.9 214.0h0M388.8 209.9h0M410.8 214.4h0M412.5 210.7h0M407.8 214.4h0M391.8 201.0h0M390.2 206.1h0M404.9 211.0h0M391.1 211.0h0M398.4 208.8h0M393.0 209.5h0M413.4 212.7h0M404.9 206.5h0M396.6 202.6h0M400.6 202.3h0M388.3 201.5h0M409.7 211.6h0M416.5 211.7h0M406.1 202.5h0M389.2 215.4h0M404.0 203.5h0M401.4 203.1h0M395.6 202.0h0M404.0 210.5h0M393.3 207.9h0M396.7 207.8h0M393.0 204.9h0M414.0 212.3h0M401.9 205.8h0M397.2 201.2h0M406.1 211.3h0M398.6 202.0h0M393.6 204.5h0M388.8 209.7h0M403.4 214.9h0M395.7 199.6h0M399.3 206.5h0M405.5 206.7h0M397.2 203.7h0M402.0 208.9h0M403.8 214.4h0M403.4 206.4h0M405.3 208.5h0M395.2 202.7h0M388.6 208.6h0M389.4 203.9h0M408.2 207.5h0M403.4 211.1h0M405.6 212.4h0M399.5 211.0h0M396.6 202.8h0M405.0 207.3h0M390.3 203.0h0M399.9 209.0h0M411.6 209.0h0M392.8 201.1h0M412.6 208.1h0M403.2 206.1h0M395.8 201.9h0M399.1 210.1h0M412.8 213.5h0M402.9 205.6h0M402.6 214.6h0M395.9 201.1h0M405.0 212.8h0M407.3 205.0h0M412.1 210.2h0M403.2 205.4h0M403.1 210.2h0M386.1 205.7h0M401.5 207.7h0M407.2 211.3h0M410.5 205.3h0M416.0 210.7h0M409.4 209.8h0M394.6 205.3h0M398.3 208.9h0M395.7 200.8h0M393.4 205.7h0M407.8 205.6h0M415.4 210.8h0M413.7 208.4h0M390.1 205.3h0" stroke="#5fe3ee" stroke-width="0.65" stroke-linecap="round" fill="none" opacity="0.75"/>
<path d="M394.4 207.0h0M398.1 202.5h0M397.4 210.4h0M414.8 212.7h0M415.7 207.8h0M391.1 202.5h0M398.6 212.6h0M402.0 206.1h0M407.0 210.7h0M404.6 209.8h0M393.2 210.1h0M411.8 210.2h0M389.2 204.7h0M412.4 213.9h0M399.2 207.2h0M395.9 204.5h0M408.8 215.3h0M412.2 213.7h0M411.9 207.6h0M387.7 204.0h0M401.4 204.7h0M395.1 201.4h0M402.8 212.7h0M393.4 215.5h0M399.0 202.4h0M405.3 213.2h0M416.1 213.6h0M397.9 200.2h0M411.9 207.8h0M405.6 214.2h0M396.8 210.6h0M389.9 208.5h0M396.7 205.3h0M394.2 212.2h0M410.9 207.9h0M390.3 201.2h0M407.1 209.7h0M390.0 207.7h0M395.9 209.3h0M404.6 205.4h0M406.3 206.9h0M400.9 200.4h0M391.0 208.4h0M410.1 213.9h0M411.8 210.9h0M401.6 203.6h0M408.7 208.6h0M401.4 207.9h0M401.8 213.9h0M409.2 205.6h0M393.7 210.7h0M398.6 208.8h0M392.7 203.1h0M404.5 210.6h0M391.1 205.0h0M408.7 213.2h0M408.9 212.8h0M397.7 211.1h0M410.1 213.2h0M396.3 207.7h0M403.6 211.6h0M393.3 203.7h0M405.7 212.7h0M410.5 214.9h0M412.6 212.1h0M406.2 211.1h0M395.7 201.3h0M399.2 201.9h0M392.4 206.5h0M400.6 214.3h0" stroke="#a9c9a9" stroke-width="0.65" stroke-linecap="round" fill="none" opacity="0.75"/>
<path d="M397.8 210.8h0M407.7 206.2h0M392.8 207.6h0M400.7 213.5h0M407.3 207.1h0M404.9 205.6h0M393.8 205.9h0M394.6 200.6h0M391.3 207.4h0M407.2 210.7h0M400.3 206.2h0M393.8 206.2h0M392.9 206.0h0M402.6 202.7h0M385.4 208.6h0M408.8 207.9h0M397.6 202.1h0M388.2 207.5h0M391.6 207.3h0M398.0 205.9h0M406.4 208.9h0M393.5 207.9h0M398.2 206.5h0M396.2 204.5h0M388.3 212.5h0M390.6 203.7h0M402.9 204.1h0M411.4 211.3h0M393.3 213.6h0M385.0 204.3h0M391.2 213.4h0M397.0 203.0h0M417.1 214.7h0M389.8 211.4h0M409.7 214.9h0M390.9 207.1h0M402.6 209.7h0M395.3 198.1h0M413.6 210.7h0M392.3 201.2h0M405.2 211.6h0M403.4 211.0h0M389.2 207.5h0M397.0 208.7h0M405.1 210.8h0M411.2 208.7h0M399.3 206.6h0M409.0 209.9h0M393.3 203.9h0M394.5 209.3h0" stroke="#cdb894" stroke-width="0.65" stroke-linecap="round" fill="none" opacity="0.75"/>
<path d="M384.2 196.5h0M412.8 188.7h0M389.6 185.2h0M409.7 188.4h0M397.4 181.7h0M397.5 189.5h0M411.5 185.6h0M382.8 192.4h0M412.7 187.0h0M401.1 186.5h0M405.6 191.8h0M405.4 184.7h0M389.9 182.6h0M401.0 179.8h0M396.0 188.7h0M399.8 181.5h0M389.4 186.0h0M403.9 193.8h0M405.7 184.4h0M389.8 197.6h0M388.7 196.0h0M387.0 197.0h0M401.0 176.7h0M409.4 190.3h0M395.7 192.6h0M388.8 185.5h0M391.7 181.9h0M398.9 195.9h0M394.9 189.2h0M391.1 194.3h0M383.2 192.5h0M387.1 185.5h0M396.6 188.5h0M391.7 187.2h0M393.4 195.8h0M390.8 189.4h0M386.5 193.9h0M407.0 187.8h0M402.7 182.4h0M388.1 190.1h0M407.0 192.6h0M391.3 185.2h0M395.5 188.0h0M411.7 179.1h0M404.0 195.1h0M402.5 186.6h0M393.0 185.9h0M398.5 195.1h0M393.0 194.6h0M399.5 194.4h0M393.4 183.3h0M389.8 195.6h0M388.7 192.9h0M398.5 194.8h0M404.3 185.3h0M394.6 181.7h0M392.1 196.8h0M403.3 186.3h0M414.8 183.4h0M406.8 183.6h0M404.5 175.5h0M408.3 184.2h0M397.1 189.7h0M396.9 196.4h0M412.5 183.4h0M401.2 191.5h0M400.9 188.9h0M394.0 193.7h0M395.9 188.2h0M397.9 185.7h0M396.7 195.1h0M412.6 179.1h0M404.6 193.8h0M404.2 191.7h0M391.2 189.3h0M387.3 184.4h0M405.8 193.2h0M393.8 186.2h0M404.2 178.8h0M411.7 183.6h0M399.9 193.3h0M406.9 180.5h0M389.5 188.0h0M401.2 194.7h0M407.4 183.3h0M386.4 192.8h0M392.0 187.7h0M408.2 190.9h0M407.2 182.1h0M399.1 182.9h0M407.4 179.4h0M407.1 178.9h0M392.3 185.8h0M387.0 186.8h0M413.6 179.9h0M392.6 185.8h0M398.6 188.1h0M388.5 186.6h0M401.0 191.9h0M395.0 194.4h0M403.0 180.7h0M407.9 183.5h0M395.6 179.1h0M415.4 186.7h0M407.3 194.8h0M387.2 194.3h0M409.2 181.3h0M399.3 180.9h0M393.3 188.6h0M411.8 190.1h0M387.4 194.1h0M399.5 180.2h0M393.0 195.6h0M390.9 192.9h0M408.3 181.3h0M406.1 192.2h0M395.4 191.0h0M410.8 191.1h0M397.8 195.5h0M405.9 188.2h0M404.6 189.4h0M396.0 180.0h0M406.6 183.7h0M402.7 185.9h0M409.3 190.2h0M402.7 189.1h0M390.5 193.2h0M388.8 191.3h0M401.4 188.5h0M405.2 191.1h0M387.3 197.2h0M401.4 192.4h0M399.8 186.4h0M383.1 186.9h0M401.2 193.7h0M391.3 192.1h0M403.8 194.6h0M387.5 194.8h0M400.5 191.9h0M400.5 188.3h0M388.6 185.4h0M388.5 187.2h0M407.3 181.5h0M406.6 186.0h0M398.1 186.3h0M405.6 183.7h0M392.4 184.2h0M395.6 193.0h0M405.4 196.5h0M392.5 186.2h0" stroke="#86bfea" stroke-width="0.65" stroke-linecap="round" fill="none" opacity="0.65"/>
<path d="M412.0 177.3h0M409.5 176.9h0M411.1 186.0h0M414.3 178.5h0M411.6 181.7h0M409.5 183.0h0M410.8 186.1h0M412.3 179.7h0M412.5 181.2h0M412.1 175.8h0M413.4 182.8h0M413.0 183.7h0M414.2 183.7h0M415.9 180.4h0M413.3 178.6h0M413.0 178.1h0M411.7 180.2h0M411.7 175.6h0M411.5 177.0h0M415.4 179.4h0M413.2 184.8h0M410.7 180.6h0M411.4 178.7h0M412.2 174.4h0M413.2 179.6h0M410.3 178.4h0M408.1 176.5h0M412.6 184.0h0M412.0 176.3h0M410.3 181.5h0" stroke="#9ad0f0" stroke-width="0.6" stroke-linecap="round" fill="none" opacity="0.6"/>
<path d="M421.5 188.4h0M421.9 188.7h0M421.9 193.0h0M423.8 188.4h0M423.9 186.5h0M424.3 188.5h0M423.4 188.2h0M422.2 186.4h0M421.4 186.0h0" stroke="#F08080" stroke-width="0.6" stroke-linecap="round" fill="none" opacity="0.6"/>
<path d="M424.9 153.0h0M426.5 152.5h0M424.5 152.7h0M425.0 153.3h0M424.2 153.3h0M423.5 153.4h0M426.7 153.9h0M424.6 152.7h0M424.9 153.0h0M425.2 152.7h0M425.3 152.5h0M428.1 152.6h0M425.6 152.8h0M424.6 154.1h0M422.7 153.1h0M424.7 152.2h0M423.3 152.4h0M426.1 154.4h0M424.9 152.6h0M426.2 153.6h0M425.3 154.0h0M425.0 154.0h0M424.4 152.5h0M425.1 153.2h0M423.6 153.9h0M425.0 151.3h0M426.6 152.3h0M422.6 152.6h0" stroke="#000" stroke-width="0.8" stroke-linecap="round" fill="none" opacity="0.95"/>
<path d="M413.8 163.4h0M414.8 164.0h0M413.9 164.0h0M413.9 165.2h0M413.3 164.8h0M413.9 162.2h0M415.1 161.5h0M413.5 162.0h0M414.8 166.3h0M415.3 164.1h0M415.3 164.3h0M414.8 162.6h0M414.7 164.3h0M413.2 164.6h0M415.0 164.0h0M413.5 162.5h0M415.1 163.5h0M414.7 164.8h0M413.5 162.2h0M414.2 161.9h0M413.1 164.4h0M415.2 164.4h0" stroke="#111" stroke-width="0.8" stroke-linecap="round" fill="none" opacity="0.95"/>
<path d="M415.1 160.9h0M414.5 161.9h0M423.5 154.3h0M416.8 158.7h0M417.5 159.6h0M421.3 155.8h0M419.5 157.9h0M421.5 155.5h0M416.4 160.7h0M417.0 160.6h0M420.5 156.7h0M416.8 158.6h0M422.6 154.1h0M416.0 159.7h0" stroke="#222" stroke-width="0.6" stroke-linecap="round" fill="none" opacity="0.8"/>
<path d="M420.0 223.5h0M418.1 218.4h0M416.2 217.7h0M418.3 222.2h0M416.9 217.3h0M418.6 224.0h0M418.6 222.6h0M420.6 227.5h0M419.0 221.6h0M419.1 223.3h0M420.0 223.8h0M421.5 228.0h0M422.0 229.0h0M417.5 220.2h0M417.7 219.7h0M419.2 224.4h0M419.1 222.8h0M417.9 221.3h0M417.0 217.1h0M421.0 227.0h0M420.7 227.1h0M417.5 218.8h0M419.9 223.9h0M422.2 230.1h0M416.7 217.9h0M418.7 222.8h0M420.7 226.2h0M416.8 217.7h0M418.5 219.8h0M416.5 217.1h0M422.4 230.5h0M417.0 219.5h0M416.7 219.0h0M420.1 224.8h0M418.9 222.1h0M421.4 228.3h0M417.1 219.2h0M418.7 222.0h0M418.0 222.0h0M420.0 224.5h0M416.9 219.6h0M419.2 223.2h0M418.9 221.4h0M421.7 229.5h0M422.7 228.0h0M417.1 219.9h0M422.8 231.1h0M415.7 217.1h0M418.0 219.2h0M420.7 224.8h0M418.2 221.8h0M417.0 217.8h0M417.4 218.9h0M417.0 218.1h0M423.3 230.6h0M421.4 227.6h0M419.6 224.8h0M421.3 227.7h0M416.8 217.9h0M422.0 227.6h0" stroke="#6B8E23" stroke-width="0.85" stroke-linecap="round" fill="none" opacity="0.95"/>
<path d="M445.0 216.0h0M446.6 216.4h0M446.3 217.5h0M445.2 218.1h0M447.9 216.2h0M442.6 216.9h0M446.8 216.8h0M447.7 217.5h0M446.8 219.5h0M446.0 218.4h0M447.5 218.2h0M450.9 217.4h0M446.6 218.4h0M447.4 217.3h0M446.5 217.7h0M448.1 218.9h0M446.3 217.1h0M447.9 216.1h0M444.5 217.3h0M444.2 215.5h0M447.8 215.2h0M447.4 217.2h0M446.2 218.1h0M445.4 218.5h0M447.5 217.3h0M445.7 216.2h0M446.3 216.4h0M450.5 217.0h0M446.1 217.3h0M447.1 216.0h0M445.7 217.1h0M445.7 215.0h0M448.9 218.1h0M446.1 217.5h0M447.6 217.4h0M449.1 218.2h0M447.1 218.8h0M449.4 217.6h0M446.4 216.1h0M447.5 216.4h0M445.6 215.3h0M447.0 218.7h0M447.2 216.1h0M445.7 218.9h0M445.0 216.7h0M447.6 217.6h0M448.2 215.1h0M447.7 216.9h0M447.8 216.5h0M447.8 216.1h0M445.7 216.8h0M445.6 215.0h0M448.0 218.5h0M445.3 216.7h0M445.1 216.6h0M445.4 217.6h0M449.2 215.8h0M447.7 217.7h0M448.5 217.3h0M445.1 219.5h0M448.7 218.5h0M448.6 214.6h0M447.0 218.2h0M444.1 217.5h0M445.1 214.4h0M449.3 218.1h0M447.3 216.8h0M446.3 216.4h0M450.4 217.9h0M447.5 216.0h0" stroke="#FF4500" stroke-width="0.8" stroke-linecap="round" fill="none" opacity="0.95"/>
<path d="M467.9 231.1h0M466.3 233.2h0M465.5 236.9h0M468.1 232.1h0M466.9 232.8h0M466.2 235.9h0M465.7 236.0h0M466.0 235.4h0M465.8 236.2h0M464.3 239.7h0M467.7 231.9h0M465.6 236.4h0M465.9 236.2h0M467.8 232.6h0M464.9 239.3h0M465.6 234.2h0M467.8 231.5h0M467.5 233.3h0M467.5 232.1h0M467.3 231.1h0M466.9 233.6h0M466.9 235.2h0M465.4 237.1h0M466.0 234.0h0M466.7 233.9h0M464.2 239.8h0M464.8 238.7h0M465.1 237.3h0M465.0 237.4h0M466.3 235.8h0M465.4 237.1h0M464.0 240.4h0M466.9 233.5h0M467.0 232.1h0M466.1 236.0h0M467.1 231.9h0M466.6 234.0h0M464.1 238.6h0M468.4 231.9h0M465.0 236.9h0" stroke="#008B8B" stroke-width="0.8" stroke-linecap="round" fill="none" opacity="0.9"/>
<path d="M470.3 240.1h0M472.0 242.1h0M471.4 239.6h0M470.5 241.7h0M470.5 242.0h0M472.4 244.4h0M471.6 241.3h0M471.1 240.9h0M472.0 243.7h0M471.6 240.6h0M470.2 242.2h0M471.2 242.9h0M471.0 242.2h0M471.4 240.1h0M470.5 242.6h0M470.8 242.4h0" stroke="#008B8B" stroke-width="0.7" stroke-linecap="round" fill="none" opacity="0.9"/>
<path d="M486.9 181.7h0M488.3 184.5h0M487.9 181.7h0M487.9 184.5h0M487.8 184.5h0M487.5 182.9h0M488.5 180.3h0M487.4 181.5h0M486.9 182.3h0M487.6 181.2h0M487.4 183.0h0M487.5 185.3h0M487.4 181.9h0M487.2 182.9h0M487.1 183.1h0M487.7 184.5h0M487.9 184.3h0M487.7 184.9h0M486.7 182.1h0M487.0 181.3h0M487.8 183.1h0M487.3 184.4h0M487.5 181.9h0M487.9 182.9h0M487.7 184.3h0M486.6 180.6h0M487.1 181.9h0M487.2 185.0h0M488.0 182.4h0M487.1 183.2h0" stroke="#008000" stroke-width="0.8" stroke-linecap="round" fill="none" opacity="0.95"/>
<path d="M487.9 191.9h0M488.2 190.5h0M487.9 190.5h0M486.9 191.0h0M487.9 191.8h0M487.8 190.2h0M487.7 190.0h0M486.2 190.5h0" stroke="#b8bcd0" stroke-width="0.7" stroke-linecap="round" fill="none" opacity="0.8"/>
<path d="M490 253.8L491.2 256.2L492.4 253.6M491.2 256.2L491.5 258.6" stroke="#7cc" stroke-width="0.7" fill="none" opacity="0.8"/>
<text x="383.3" y="131.5" font-size="5.8" text-anchor="middle" fill="#000" stroke="#000" stroke-width="0.15">13</text>
<text x="415.5" y="132.2" font-size="5.8" text-anchor="middle" fill="#000" stroke="#000" stroke-width="0.15">19</text>
<text x="427.2" y="150.9" font-size="5.8" text-anchor="middle" fill="#000" stroke="#000" stroke-width="0.15">2</text>
<text x="422.6" y="176.5" font-size="5.8" text-anchor="middle" fill="#000" stroke="#000" stroke-width="0.15">4</text>
<text x="402.5" y="183.3" font-size="5.8" text-anchor="middle" fill="#000" stroke="#000" stroke-width="0.15">18</text>
<text x="382.2" y="185.2" font-size="5.8" text-anchor="middle" fill="#000" stroke="#000" stroke-width="0.15">7</text>
<text x="405.8" y="200.1" font-size="5.8" text-anchor="middle" fill="#000" stroke="#000" stroke-width="0.15">12</text>
<text x="435.2" y="193.8" font-size="5.8" text-anchor="middle" fill="#000" stroke="#000" stroke-width="0.15">5</text>
<text x="371.6" y="217.9" font-size="5.8" text-anchor="middle" fill="#000" stroke="#000" stroke-width="0.15">9</text>
<text x="405.8" y="228.4" font-size="5.8" text-anchor="middle" fill="#000" stroke="#000" stroke-width="0.15">16</text>
<text x="422.6" y="223.3" font-size="5.8" text-anchor="middle" fill="#000" stroke="#000" stroke-width="0.15">10</text>
<text x="449.0" y="212.9" font-size="5.8" text-anchor="middle" fill="#000" stroke="#000" stroke-width="0.15">14</text>
<text x="469.8" y="213.9" font-size="5.8" text-anchor="middle" fill="#000" stroke="#000" stroke-width="0.15">1</text>
<text x="483.3" y="221.9" font-size="5.8" text-anchor="middle" fill="#000" stroke="#000" stroke-width="0.15">8</text>
<text x="476.0" y="241.6" font-size="5.8" text-anchor="middle" fill="#000" stroke="#000" stroke-width="0.15">20</text>
<text x="438.0" y="250.2" font-size="5.8" text-anchor="middle" fill="#000" stroke="#000" stroke-width="0.15">17</text>
<text x="494.0" y="252.7" font-size="5.8" text-anchor="middle" fill="#000" stroke="#000" stroke-width="0.15">3</text>
<text x="487.1" y="175.8" font-size="5.8" text-anchor="middle" fill="#000" stroke="#000" stroke-width="0.15">15</text>
<text x="501.6" y="177.1" font-size="5.8" text-anchor="middle" fill="#000" stroke="#000" stroke-width="0.15">6</text>
<text x="481.0" y="196.4" font-size="5.8" text-anchor="middle" fill="#000" stroke="#000" stroke-width="0.15">11</text>
<text x="510" y="133" font-size="7.55" text-anchor="end" fill="#a0283f" font-style="italic" stroke="#a0283f" stroke-width="0.12">KRas<tspan font-size="5.5" dy="-2.7">G12D</tspan><tspan dy="2.7">/Mx1CRE</tspan></text>
<text x="510.0" y="144.3" font-size="7.25" text-anchor="end" fill="#a0283f" stroke="#a0283f" stroke-width="0.18">2 months</text>
<rect x="368.1" y="122.6" width="146.1" height="139" fill="none" stroke="#2a2a2a" stroke-width="1.2"/>
<text x="6.6" y="285.7" font-size="10.5" text-anchor="start" fill="#000" font-weight="bold" stroke="#000" stroke-width="0.45" stroke-linejoin="round">E</text>
<text x="108.2" y="286.4" font-size="8.7" text-anchor="middle" fill="#1a1a1a" stroke="#1a1a1a" stroke-width="0.18">Relative abundance of</text>
<text x="107.8" y="297.4" font-size="8.7" text-anchor="middle" fill="#1a1a1a" stroke="#1a1a1a" stroke-width="0.18">cluster in lineage-negative</text>
<line x1="45.6" y1="305.4" x2="45.6" y2="455.5" stroke="#000" stroke-width="1.1"/>
<line x1="45.1" y1="455.0" x2="169.5" y2="455.0" stroke="#000" stroke-width="1.1"/>
<line x1="43.0" y1="312.3" x2="45.5" y2="312.3" stroke="#111" stroke-width="0.9"/>
<text x="40.2" y="315.1" font-size="7.7" text-anchor="end" fill="#1a1a1a" stroke="#1a1a1a" stroke-width="0.18">100</text>
<line x1="43.0" y1="381.3" x2="45.5" y2="381.3" stroke="#111" stroke-width="0.9"/>
<text x="40.2" y="384.1" font-size="7.7" text-anchor="end" fill="#1a1a1a" stroke="#1a1a1a" stroke-width="0.18">50</text>
<line x1="43.0" y1="450.4" x2="45.5" y2="450.4" stroke="#111" stroke-width="0.9"/>
<text x="40.2" y="453.1" font-size="7.7" text-anchor="end" fill="#1a1a1a" stroke="#1a1a1a" stroke-width="0.18">0</text>
<text transform="translate(20.8,382) rotate(-90)" font-size="8.2" text-anchor="middle" fill="#1a1a1a" textLength="77" lengthAdjust="spacingAndGlyphs" stroke="#1a1a1a" stroke-width="0.25">% of lineage negative cells</text>
<rect x="50.00" y="307.90" width="13.00" height="2.55" fill="#6B8E23"/>
<rect x="50.00" y="310.30" width="13.00" height="1.45" fill="#FF4500"/>
<rect x="50.00" y="311.60" width="13.00" height="4.85" fill="#4169E1"/>
<rect x="50.00" y="316.30" width="13.00" height="10.55" fill="#00FFFF"/>
<rect x="50.00" y="326.70" width="13.00" height="11.55" fill="#00BFFF"/>
<rect x="50.00" y="338.10" width="13.00" height="4.05" fill="#000000"/>
<rect x="50.00" y="342.00" width="13.00" height="10.05" fill="#FF00FF"/>
<rect x="50.00" y="351.90" width="13.00" height="5.85" fill="#6495ED"/>
<rect x="50.00" y="357.60" width="13.00" height="12.45" fill="#4682B4"/>
<rect x="50.00" y="369.90" width="13.00" height="18.55" fill="#D2B48C"/>
<rect x="50.00" y="388.30" width="13.00" height="1.95" fill="#6B8E23"/>
<rect x="50.00" y="390.10" width="13.00" height="20.75" fill="#8FBC8F"/>
<rect x="50.00" y="410.70" width="13.00" height="17.05" fill="#F08080"/>
<rect x="50.00" y="427.60" width="13.00" height="2.85" fill="#800080"/>
<rect x="50.00" y="430.30" width="13.00" height="3.85" fill="#008B8B"/>
<rect x="50.00" y="434.00" width="13.00" height="3.85" fill="#FFD700"/>
<rect x="50.00" y="437.70" width="13.00" height="5.05" fill="#B0C4DE"/>
<rect x="50.00" y="442.60" width="13.00" height="1.55" fill="#008000"/>
<rect x="50.00" y="444.00" width="13.00" height="7.95" fill="#B22222"/>
<line x1="56.6" y1="455.0" x2="56.6" y2="457.9" stroke="#111" stroke-width="1.0"/>
<rect x="76.00" y="307.90" width="13.00" height="1.75" fill="#32CD32"/>
<rect x="76.00" y="309.50" width="13.00" height="2.95" fill="#FF4500"/>
<rect x="76.00" y="312.30" width="13.00" height="8.45" fill="#4169E1"/>
<rect x="76.00" y="320.60" width="13.00" height="11.55" fill="#00FFFF"/>
<rect x="76.00" y="332.00" width="13.00" height="13.85" fill="#00BFFF"/>
<rect x="76.00" y="345.70" width="13.00" height="6.95" fill="#000000"/>
<rect x="76.00" y="352.50" width="13.00" height="11.15" fill="#FF00FF"/>
<rect x="76.00" y="363.50" width="13.00" height="5.65" fill="#6495ED"/>
<rect x="76.00" y="369.00" width="13.00" height="12.95" fill="#4682B4"/>
<rect x="76.00" y="381.80" width="13.00" height="16.75" fill="#D2B48C"/>
<rect x="76.00" y="398.40" width="13.00" height="1.65" fill="#6B8E23"/>
<rect x="76.00" y="399.90" width="13.00" height="16.05" fill="#8FBC8F"/>
<rect x="76.00" y="415.80" width="13.00" height="14.05" fill="#F08080"/>
<rect x="76.00" y="429.70" width="13.00" height="3.45" fill="#800080"/>
<rect x="76.00" y="433.00" width="13.00" height="3.35" fill="#008B8B"/>
<rect x="76.00" y="436.20" width="13.00" height="0.95" fill="#008000"/>
<rect x="76.00" y="437.00" width="13.00" height="3.25" fill="#FFD700"/>
<rect x="76.00" y="440.10" width="13.00" height="2.65" fill="#B0C4DE"/>
<rect x="76.00" y="442.60" width="13.00" height="1.55" fill="#008000"/>
<rect x="76.00" y="444.00" width="13.00" height="7.95" fill="#B22222"/>
<line x1="82.6" y1="455.0" x2="82.6" y2="457.9" stroke="#111" stroke-width="1.0"/>
<rect x="102.00" y="307.90" width="13.00" height="4.25" fill="#FF4500"/>
<rect x="102.00" y="312.00" width="13.00" height="2.15" fill="#4169E1"/>
<rect x="102.00" y="314.00" width="13.00" height="14.05" fill="#00FFFF"/>
<rect x="102.00" y="327.90" width="13.00" height="5.05" fill="#00BFFF"/>
<rect x="102.00" y="332.80" width="13.00" height="1.05" fill="#000000"/>
<rect x="102.00" y="333.70" width="13.00" height="8.25" fill="#FF00FF"/>
<rect x="102.00" y="341.80" width="13.00" height="3.45" fill="#6495ED"/>
<rect x="102.00" y="345.10" width="13.00" height="13.05" fill="#4682B4"/>
<rect x="102.00" y="358.00" width="13.00" height="28.05" fill="#D2B48C"/>
<rect x="102.00" y="385.90" width="13.00" height="4.05" fill="#6B8E23"/>
<rect x="102.00" y="389.80" width="13.00" height="26.55" fill="#8FBC8F"/>
<rect x="102.00" y="416.20" width="13.00" height="11.15" fill="#F08080"/>
<rect x="102.00" y="427.20" width="13.00" height="3.55" fill="#800080"/>
<rect x="102.00" y="430.60" width="13.00" height="3.55" fill="#008B8B"/>
<rect x="102.00" y="434.00" width="13.00" height="2.35" fill="#FFD700"/>
<rect x="102.00" y="436.20" width="13.00" height="5.25" fill="#B0C4DE"/>
<rect x="102.00" y="441.30" width="13.00" height="2.85" fill="#008000"/>
<rect x="102.00" y="444.00" width="13.00" height="5.85" fill="#B22222"/>
<rect x="102.00" y="449.70" width="13.00" height="3.05" fill="#C0C0C0"/>
<line x1="108.6" y1="455.0" x2="108.6" y2="457.9" stroke="#111" stroke-width="1.0"/>
<rect x="128.00" y="307.90" width="13.00" height="1.05" fill="#6B8E23"/>
<rect x="128.00" y="308.80" width="13.00" height="1.25" fill="#FF4500"/>
<rect x="128.00" y="309.90" width="13.00" height="3.45" fill="#4169E1"/>
<rect x="128.00" y="313.20" width="13.00" height="17.35" fill="#00FFFF"/>
<rect x="128.00" y="330.40" width="13.00" height="7.85" fill="#00BFFF"/>
<rect x="128.00" y="338.10" width="13.00" height="1.65" fill="#000000"/>
<rect x="128.00" y="339.60" width="13.00" height="2.55" fill="#FF00FF"/>
<rect x="128.00" y="342.00" width="13.00" height="12.25" fill="#6495ED"/>
<rect x="128.00" y="354.10" width="13.00" height="14.05" fill="#4682B4"/>
<rect x="128.00" y="368.00" width="13.00" height="17.35" fill="#D2B48C"/>
<rect x="128.00" y="385.20" width="13.00" height="1.65" fill="#6B8E23"/>
<rect x="128.00" y="386.70" width="13.00" height="21.45" fill="#8FBC8F"/>
<rect x="128.00" y="408.00" width="13.00" height="6.55" fill="#F08080"/>
<rect x="128.00" y="414.40" width="13.00" height="12.65" fill="#800080"/>
<rect x="128.00" y="426.90" width="13.00" height="1.75" fill="#008B8B"/>
<rect x="128.00" y="428.50" width="13.00" height="2.15" fill="#8FBC8F"/>
<rect x="128.00" y="430.50" width="13.00" height="3.35" fill="#B0C4DE"/>
<rect x="128.00" y="433.70" width="13.00" height="1.05" fill="#008000"/>
<rect x="128.00" y="434.60" width="13.00" height="17.65" fill="#B22222"/>
<line x1="134.6" y1="455.0" x2="134.6" y2="457.9" stroke="#111" stroke-width="1.0"/>
<rect x="154.00" y="307.90" width="13.00" height="1.25" fill="#6B8E23"/>
<rect x="154.00" y="309.00" width="13.00" height="1.25" fill="#FF4500"/>
<rect x="154.00" y="310.10" width="13.00" height="5.05" fill="#4169E1"/>
<rect x="154.00" y="315.00" width="13.00" height="17.95" fill="#00FFFF"/>
<rect x="154.00" y="332.80" width="13.00" height="6.35" fill="#00BFFF"/>
<rect x="154.00" y="339.00" width="13.00" height="1.75" fill="#000000"/>
<rect x="154.00" y="340.60" width="13.00" height="3.45" fill="#FF00FF"/>
<rect x="154.00" y="343.90" width="13.00" height="12.35" fill="#6495ED"/>
<rect x="154.00" y="356.10" width="13.00" height="12.05" fill="#4682B4"/>
<rect x="154.00" y="368.00" width="13.00" height="15.85" fill="#D2B48C"/>
<rect x="154.00" y="383.70" width="13.00" height="2.35" fill="#6B8E23"/>
<rect x="154.00" y="385.90" width="13.00" height="20.65" fill="#8FBC8F"/>
<rect x="154.00" y="406.40" width="13.00" height="4.15" fill="#F08080"/>
<rect x="154.00" y="410.40" width="13.00" height="12.05" fill="#800080"/>
<rect x="154.00" y="422.30" width="13.00" height="3.45" fill="#008B8B"/>
<rect x="154.00" y="425.60" width="13.00" height="2.45" fill="#D2B48C"/>
<rect x="154.00" y="427.90" width="13.00" height="2.85" fill="#B0C4DE"/>
<rect x="154.00" y="430.60" width="13.00" height="1.05" fill="#008000"/>
<rect x="154.00" y="431.50" width="13.00" height="20.75" fill="#B22222"/>
<line x1="160.6" y1="455.0" x2="160.6" y2="457.9" stroke="#111" stroke-width="1.0"/>
<text transform="translate(59.1,461) rotate(-90)" font-size="7.6" text-anchor="end" fill="#1a1a1a" font-style="italic">Wild type</text>
<text transform="translate(85.1,461) rotate(-90)" font-size="7.6" text-anchor="end" fill="#1a1a1a">4 weeks</text>
<text transform="translate(111.1,461) rotate(-90)" font-size="7.6" text-anchor="end" fill="#1a1a1a">4 months</text>
<text transform="translate(137.1,461) rotate(-90)" font-size="7.6" text-anchor="end" fill="#1a1a1a">4 weeks</text>
<text transform="translate(163.1,461) rotate(-90)" font-size="7.6" text-anchor="end" fill="#1a1a1a">2 months</text>
<line x1="76.3" y1="498.3" x2="112.7" y2="498.3" stroke="#222" stroke-width="0.9"/>
<line x1="127.5" y1="498.3" x2="166.5" y2="498.3" stroke="#222" stroke-width="0.9"/>
<text x="95.4" y="508.2" font-size="7.55" text-anchor="middle" fill="#3d7f2f" font-style="italic" stroke="#3d7f2f" stroke-width="0.18">RoLoRiG/</text>
<text x="95.2" y="517.3" font-size="7.2" text-anchor="middle" fill="#3d7f2f" font-style="italic" stroke="#3d7f2f" stroke-width="0.18">Mx1CRE</text>
<text x="147.6" y="508.6" font-size="7.6" text-anchor="middle" fill="#a0283f" font-style="italic" stroke="#a0283f" stroke-width="0.15">KRas<tspan font-size="5.5" dy="-2.7">G12D</tspan><tspan dy="2.7">/</tspan></text>
<text x="147.7" y="517.3" font-size="7.2" text-anchor="middle" fill="#a0283f" font-style="italic" stroke="#a0283f" stroke-width="0.18">Mx1CRE</text>
<line x1="184.0" y1="342.7" x2="174.8" y2="342.7" stroke="#111" stroke-width="1.1"/>
<polygon points="170.8,342.7 176.4,340.4 174.8,342.7 176.4,345.0" fill="#111"/>
<text x="192.2" y="341.8" font-size="7.5" text-anchor="middle" fill="#1a1a1a" stroke="#1a1a1a" stroke-width="0.18">#4</text>
<text x="192.4" y="351.1" font-size="7.2" text-anchor="middle" fill="#1a1a1a" stroke="#1a1a1a" stroke-width="0.18">LSK</text>
<line x1="200.2" y1="344.6" x2="207.6" y2="353.3" stroke="#111" stroke-width="1.1"/>
<polygon points="210.2,356.4 204.8,353.6 207.6,353.3 208.3,350.6" fill="#111"/>
<line x1="182.1" y1="416.5" x2="173.4" y2="416.5" stroke="#111" stroke-width="1.1"/>
<polygon points="169.4,416.5 175.0,414.2 173.4,416.5 175.0,418.8" fill="#111"/>
<text x="191.0" y="415.5" font-size="7.5" text-anchor="middle" fill="#1a1a1a" stroke="#1a1a1a" stroke-width="0.18">#17</text>
<text x="191.2" y="424.3" font-size="7.6" text-anchor="middle" fill="#1a1a1a" stroke="#1a1a1a" stroke-width="0.18">CMP</text>
<line x1="201.9" y1="420.8" x2="210.8" y2="495.6" stroke="#111" stroke-width="1.1"/>
<polygon points="211.3,499.6 208.4,494.3 210.8,495.6 212.9,493.8" fill="#111"/>
<text x="189.6" y="286.3" font-size="10.5" text-anchor="start" fill="#000" font-weight="bold" stroke="#000" stroke-width="0.45" stroke-linejoin="round">F</text>
<text x="270.4" y="299.1" font-size="8.85" text-anchor="middle" fill="#1a1a1a" stroke="#1a1a1a" stroke-width="0.18">Log2 Fold change to</text>
<text x="270.4" y="310.2" font-size="9.1" text-anchor="middle" fill="#1a1a1a" font-style="italic" stroke="#1a1a1a" stroke-width="0.18">Wild type</text>
<rect x="220.40" y="320.40" width="6.40" height="6.40" fill="#FFD700"/>
<text x="238.3" y="326.2" font-size="7.4" text-anchor="end" fill="#111" stroke="#111" stroke-width="0.18">1</text>
<line x1="241.6" y1="323.6" x2="244.8" y2="323.6" stroke="#111" stroke-width="1.0"/>
<rect x="244.80" y="318.00" width="13.06" height="11.40" fill="#fbe2d3"/>
<rect x="257.66" y="318.00" width="13.06" height="11.40" fill="#dbe9f3"/>
<rect x="270.52" y="318.00" width="13.06" height="11.40" fill="#a8cfe5"/>
<rect x="283.38" y="318.00" width="13.06" height="11.40" fill="#17437f"/>
<rect x="220.40" y="331.61" width="6.40" height="6.40" fill="#000000"/>
<text x="238.3" y="337.4" font-size="7.4" text-anchor="end" fill="#111" stroke="#111" stroke-width="0.18">2</text>
<line x1="241.6" y1="334.8" x2="244.8" y2="334.8" stroke="#111" stroke-width="1.0"/>
<rect x="244.80" y="329.20" width="13.06" height="11.40" fill="#ee9575"/>
<rect x="257.66" y="329.20" width="13.06" height="11.40" fill="#15407c"/>
<rect x="270.52" y="329.20" width="13.06" height="11.40" fill="#a8cfe5"/>
<rect x="283.38" y="329.20" width="13.06" height="11.40" fill="#b0d4e8"/>
<rect x="220.40" y="342.81" width="6.40" height="6.40" fill="#32CD32"/>
<text x="238.3" y="348.6" font-size="7.4" text-anchor="end" fill="#111" stroke="#111" stroke-width="0.18">3</text>
<line x1="241.6" y1="346.0" x2="244.8" y2="346.0" stroke="#111" stroke-width="1.0"/>
<rect x="244.80" y="340.41" width="13.06" height="11.40" fill="#f0a080"/>
<rect x="257.66" y="340.41" width="13.06" height="11.40" fill="#fae6da"/>
<rect x="270.52" y="340.41" width="13.06" height="11.40" fill="#a8cfe5"/>
<rect x="283.38" y="340.41" width="13.06" height="11.40" fill="#fae6da"/>
<rect x="220.40" y="354.02" width="6.40" height="6.40" fill="#FF00FF"/>
<text x="238.3" y="359.8" font-size="7.4" text-anchor="end" fill="#111" stroke="#111" stroke-width="0.18">4</text>
<line x1="241.6" y1="357.2" x2="244.8" y2="357.2" stroke="#111" stroke-width="1.0"/>
<rect x="244.80" y="351.62" width="13.06" height="11.40" fill="#f8cdb4"/>
<rect x="257.66" y="351.62" width="13.06" height="11.40" fill="#fbdccb"/>
<rect x="270.52" y="351.62" width="13.06" height="11.40" fill="#86bbda"/>
<rect x="283.38" y="351.62" width="13.06" height="11.40" fill="#8fc2dd"/>
<rect x="220.40" y="365.22" width="6.40" height="6.40" fill="#F08080"/>
<text x="238.3" y="371.0" font-size="7.4" text-anchor="end" fill="#111" stroke="#111" stroke-width="0.18">5</text>
<line x1="241.6" y1="368.4" x2="244.8" y2="368.4" stroke="#111" stroke-width="1.0"/>
<rect x="244.80" y="362.82" width="13.06" height="11.40" fill="#f8ece5"/>
<rect x="257.66" y="362.82" width="13.06" height="11.40" fill="#e6eff5"/>
<rect x="270.52" y="362.82" width="13.06" height="11.40" fill="#cde3ef"/>
<rect x="283.38" y="362.82" width="13.06" height="11.40" fill="#62a7cf"/>
<rect x="220.40" y="376.43" width="6.40" height="6.40" fill="#B22222"/>
<text x="238.3" y="382.2" font-size="7.4" text-anchor="end" fill="#111" stroke="#111" stroke-width="0.18">6</text>
<line x1="241.6" y1="379.6" x2="244.8" y2="379.6" stroke="#111" stroke-width="1.0"/>
<rect x="244.80" y="374.02" width="13.06" height="11.40" fill="#fbe2d3"/>
<rect x="257.66" y="374.02" width="13.06" height="11.40" fill="#fbe6db"/>
<rect x="270.52" y="374.02" width="13.06" height="11.40" fill="#d5584a"/>
<rect x="283.38" y="374.02" width="13.06" height="11.40" fill="#d04844"/>
<rect x="220.40" y="387.63" width="6.40" height="6.40" fill="#4682B4"/>
<text x="238.3" y="393.4" font-size="7.4" text-anchor="end" fill="#111" stroke="#111" stroke-width="0.18">7</text>
<line x1="241.6" y1="390.8" x2="244.8" y2="390.8" stroke="#111" stroke-width="1.0"/>
<rect x="244.80" y="385.23" width="13.06" height="11.40" fill="#f9d5c0"/>
<rect x="257.66" y="385.23" width="13.06" height="11.40" fill="#fbdccb"/>
<rect x="270.52" y="385.23" width="13.06" height="11.40" fill="#f9d2bc"/>
<rect x="283.38" y="385.23" width="13.06" height="11.40" fill="#fbe2d4"/>
<rect x="220.40" y="398.84" width="6.40" height="6.40" fill="#B0C4DE"/>
<text x="238.3" y="404.6" font-size="7.4" text-anchor="end" fill="#111" stroke="#111" stroke-width="0.18">8</text>
<line x1="241.6" y1="402.0" x2="244.8" y2="402.0" stroke="#111" stroke-width="1.0"/>
<rect x="244.80" y="396.44" width="13.06" height="11.40" fill="#dce9f3"/>
<rect x="257.66" y="396.44" width="13.06" height="11.40" fill="#fad7c3"/>
<rect x="270.52" y="396.44" width="13.06" height="11.40" fill="#f3f3f5"/>
<rect x="283.38" y="396.44" width="13.06" height="11.40" fill="#f9ece5"/>
<rect x="220.40" y="410.04" width="6.40" height="6.40" fill="#D2B48C"/>
<text x="238.3" y="415.8" font-size="7.4" text-anchor="end" fill="#111" stroke="#111" stroke-width="0.18">9</text>
<line x1="241.6" y1="413.2" x2="244.8" y2="413.2" stroke="#111" stroke-width="1.0"/>
<rect x="244.80" y="407.64" width="13.06" height="11.40" fill="#fae6db"/>
<rect x="257.66" y="407.64" width="13.06" height="11.40" fill="#f2a585"/>
<rect x="270.52" y="407.64" width="13.06" height="11.40" fill="#fbe0d0"/>
<rect x="283.38" y="407.64" width="13.06" height="11.40" fill="#f9ebe4"/>
<rect x="220.40" y="421.25" width="6.40" height="6.40" fill="#6B8E23"/>
<text x="238.3" y="427.0" font-size="7.4" text-anchor="end" fill="#111" stroke="#111" stroke-width="0.18">10</text>
<line x1="241.6" y1="424.4" x2="244.8" y2="424.4" stroke="#111" stroke-width="1.0"/>
<rect x="244.80" y="418.85" width="13.06" height="11.40" fill="#f9ebe4"/>
<rect x="257.66" y="418.85" width="13.06" height="11.40" fill="#ef9676"/>
<rect x="270.52" y="418.85" width="13.06" height="11.40" fill="#fbe3d6"/>
<rect x="283.38" y="418.85" width="13.06" height="11.40" fill="#f9cdb3"/>
<rect x="220.40" y="432.45" width="6.40" height="6.40" fill="#C0C0C0"/>
<text x="238.3" y="438.3" font-size="7.4" text-anchor="end" fill="#111" stroke="#111" stroke-width="0.18">11</text>
<line x1="241.6" y1="435.7" x2="244.8" y2="435.7" stroke="#111" stroke-width="1.0"/>
<rect x="244.80" y="430.05" width="13.06" height="11.40" fill="#f9d2bb"/>
<rect x="257.66" y="430.05" width="13.06" height="11.40" fill="#c0282f"/>
<rect x="270.52" y="430.05" width="13.06" height="11.40" fill="#bcdaea"/>
<rect x="283.38" y="430.05" width="13.06" height="11.40" fill="#f8f0ec"/>
<rect x="220.40" y="443.66" width="6.40" height="6.40" fill="#00FFFF"/>
<text x="238.3" y="449.5" font-size="7.4" text-anchor="end" fill="#111" stroke="#111" stroke-width="0.18">12</text>
<line x1="241.6" y1="446.9" x2="244.8" y2="446.9" stroke="#111" stroke-width="1.0"/>
<rect x="244.80" y="441.25" width="13.06" height="11.40" fill="#f9d4bf"/>
<rect x="257.66" y="441.25" width="13.06" height="11.40" fill="#f4ae90"/>
<rect x="270.52" y="441.25" width="13.06" height="11.40" fill="#e98a6d"/>
<rect x="283.38" y="441.25" width="13.06" height="11.40" fill="#e8876b"/>
<rect x="220.40" y="454.86" width="6.40" height="6.40" fill="#6495ED"/>
<text x="238.3" y="460.7" font-size="7.4" text-anchor="end" fill="#111" stroke="#111" stroke-width="0.18">13</text>
<line x1="241.6" y1="458.1" x2="244.8" y2="458.1" stroke="#111" stroke-width="1.0"/>
<rect x="244.80" y="452.46" width="13.06" height="11.40" fill="#fbe3d6"/>
<rect x="257.66" y="452.46" width="13.06" height="11.40" fill="#e9eff5"/>
<rect x="270.52" y="452.46" width="13.06" height="11.40" fill="#e0705a"/>
<rect x="283.38" y="452.46" width="13.06" height="11.40" fill="#da604f"/>
<rect x="220.40" y="466.07" width="6.40" height="6.40" fill="#FF4500"/>
<text x="238.3" y="471.9" font-size="7.4" text-anchor="end" fill="#111" stroke="#111" stroke-width="0.18">14</text>
<line x1="241.6" y1="469.3" x2="244.8" y2="469.3" stroke="#111" stroke-width="1.0"/>
<rect x="244.80" y="463.66" width="13.06" height="11.40" fill="#ec9173"/>
<rect x="257.66" y="463.66" width="13.06" height="11.40" fill="#f09c7c"/>
<rect x="270.52" y="463.66" width="13.06" height="11.40" fill="#e4eef4"/>
<rect x="283.38" y="463.66" width="13.06" height="11.40" fill="#fbe0d0"/>
<rect x="220.40" y="477.27" width="6.40" height="6.40" fill="#008000"/>
<text x="238.3" y="483.1" font-size="7.4" text-anchor="end" fill="#111" stroke="#111" stroke-width="0.18">15</text>
<line x1="241.6" y1="480.5" x2="244.8" y2="480.5" stroke="#111" stroke-width="1.0"/>
<rect x="244.80" y="474.87" width="13.06" height="11.40" fill="#ef9a7a"/>
<rect x="257.66" y="474.87" width="13.06" height="11.40" fill="#f09f80"/>
<rect x="270.52" y="474.87" width="13.06" height="11.40" fill="#fad9c7"/>
<rect x="283.38" y="474.87" width="13.06" height="11.40" fill="#f4ab8c"/>
<rect x="220.40" y="488.48" width="6.40" height="6.40" fill="#8FBC8F"/>
<text x="238.3" y="494.3" font-size="7.4" text-anchor="end" fill="#111" stroke="#111" stroke-width="0.18">16</text>
<line x1="241.6" y1="491.7" x2="244.8" y2="491.7" stroke="#111" stroke-width="1.0"/>
<rect x="244.80" y="486.07" width="13.06" height="11.40" fill="#f9ebe2"/>
<rect x="257.66" y="486.07" width="13.06" height="11.40" fill="#f5b79b"/>
<rect x="270.52" y="486.07" width="13.06" height="11.40" fill="#fbdfce"/>
<rect x="283.38" y="486.07" width="13.06" height="11.40" fill="#fbdfce"/>
<rect x="220.40" y="499.68" width="6.40" height="6.40" fill="#800080"/>
<text x="238.3" y="505.5" font-size="7.4" text-anchor="end" fill="#111" stroke="#111" stroke-width="0.18">17</text>
<line x1="241.6" y1="502.9" x2="244.8" y2="502.9" stroke="#111" stroke-width="1.0"/>
<rect x="244.80" y="497.28" width="13.06" height="11.40" fill="#fad9c6"/>
<rect x="257.66" y="497.28" width="13.06" height="11.40" fill="#f3a988"/>
<rect x="270.52" y="497.28" width="13.06" height="11.40" fill="#7c0c22"/>
<rect x="283.38" y="497.28" width="13.06" height="11.40" fill="#8a1026"/>
<rect x="220.40" y="510.89" width="6.40" height="6.40" fill="#00BFFF"/>
<text x="238.3" y="516.7" font-size="7.4" text-anchor="end" fill="#111" stroke="#111" stroke-width="0.18">18</text>
<line x1="241.6" y1="514.1" x2="244.8" y2="514.1" stroke="#111" stroke-width="1.0"/>
<rect x="244.80" y="508.49" width="13.06" height="11.40" fill="#f9d3be"/>
<rect x="257.66" y="508.49" width="13.06" height="11.40" fill="#c6e0ee"/>
<rect x="270.52" y="508.49" width="13.06" height="11.40" fill="#f3f3f4"/>
<rect x="283.38" y="508.49" width="13.06" height="11.40" fill="#e6eff5"/>
<rect x="220.40" y="522.09" width="6.40" height="6.40" fill="#4169E1"/>
<text x="238.3" y="527.9" font-size="7.4" text-anchor="end" fill="#111" stroke="#111" stroke-width="0.18">19</text>
<line x1="241.6" y1="525.3" x2="244.8" y2="525.3" stroke="#111" stroke-width="1.0"/>
<rect x="244.80" y="519.69" width="13.06" height="11.40" fill="#f6b99e"/>
<rect x="257.66" y="519.69" width="13.06" height="11.40" fill="#d3e6f1"/>
<rect x="270.52" y="519.69" width="13.06" height="11.40" fill="#f5f3f3"/>
<rect x="283.38" y="519.69" width="13.06" height="11.40" fill="#f7f1ee"/>
<rect x="220.40" y="533.30" width="6.40" height="6.40" fill="#008B8B"/>
<text x="238.3" y="539.1" font-size="7.4" text-anchor="end" fill="#111" stroke="#111" stroke-width="0.18">20</text>
<line x1="241.6" y1="536.5" x2="244.8" y2="536.5" stroke="#111" stroke-width="1.0"/>
<rect x="244.80" y="530.89" width="13.06" height="11.40" fill="#f9ece5"/>
<rect x="257.66" y="530.89" width="13.06" height="11.40" fill="#fbe6da"/>
<rect x="270.52" y="530.89" width="13.06" height="11.40" fill="#eaf0f5"/>
<rect x="283.38" y="530.89" width="13.06" height="11.40" fill="#fbe0d1"/>
<defs><linearGradient id="cb" x1="0" y1="1" x2="0" y2="0"><stop offset="0%" stop-color="#053061"/><stop offset="10%" stop-color="#2166ac"/><stop offset="20%" stop-color="#4393c3"/><stop offset="30%" stop-color="#92c5de"/><stop offset="40%" stop-color="#d1e5f0"/><stop offset="50%" stop-color="#f7f7f7"/><stop offset="60%" stop-color="#fddbc7"/><stop offset="70%" stop-color="#f4a582"/><stop offset="80%" stop-color="#d6604d"/><stop offset="90%" stop-color="#b2182b"/><stop offset="100%" stop-color="#67001f"/></linearGradient></defs>
<rect x="299.30" y="338.30" width="9.70" height="184.20" fill="url(#cb)"/>
<line x1="309.0" y1="347.0" x2="311.2" y2="347.0" stroke="#111" stroke-width="0.9"/>
<text x="318.6" y="349.5" font-size="7" text-anchor="end" fill="#1a1a1a" stroke="#1a1a1a" stroke-width="0.18">2</text>
<line x1="309.0" y1="379.0" x2="311.2" y2="379.0" stroke="#111" stroke-width="0.9"/>
<text x="318.6" y="381.5" font-size="7" text-anchor="end" fill="#1a1a1a" stroke="#1a1a1a" stroke-width="0.18">1</text>
<line x1="309.0" y1="411.1" x2="311.2" y2="411.1" stroke="#111" stroke-width="0.9"/>
<text x="318.6" y="413.6" font-size="7" text-anchor="end" fill="#1a1a1a" stroke="#1a1a1a" stroke-width="0.18">0</text>
<line x1="309.0" y1="443.1" x2="311.2" y2="443.1" stroke="#111" stroke-width="0.9"/>
<text x="318.6" y="445.6" font-size="7" text-anchor="end" fill="#1a1a1a" stroke="#1a1a1a" stroke-width="0.18">−1</text>
<line x1="309.0" y1="474.6" x2="311.2" y2="474.6" stroke="#111" stroke-width="0.9"/>
<text x="318.6" y="477.1" font-size="7" text-anchor="end" fill="#1a1a1a" stroke="#1a1a1a" stroke-width="0.18">−2</text>
<line x1="309.0" y1="506.6" x2="311.2" y2="506.6" stroke="#111" stroke-width="0.9"/>
<text x="318.6" y="509.1" font-size="7" text-anchor="end" fill="#1a1a1a" stroke="#1a1a1a" stroke-width="0.18">−3</text>
<line x1="251.3" y1="543.6" x2="251.3" y2="546.5" stroke="#111" stroke-width="1.0"/>
<text transform="translate(254.0,548.6) rotate(-90)" font-size="7.4" text-anchor="end" fill="#1a1a1a">4 weeks</text>
<line x1="264.1" y1="543.6" x2="264.1" y2="546.5" stroke="#111" stroke-width="1.0"/>
<text transform="translate(266.8,548.6) rotate(-90)" font-size="7.4" text-anchor="end" fill="#1a1a1a">4 months</text>
<line x1="277.0" y1="543.6" x2="277.0" y2="546.5" stroke="#111" stroke-width="1.0"/>
<text transform="translate(279.7,548.6) rotate(-90)" font-size="7.4" text-anchor="end" fill="#1a1a1a">4 weeks</text>
<line x1="289.8" y1="543.6" x2="289.8" y2="546.5" stroke="#111" stroke-width="1.0"/>
<text transform="translate(292.5,548.6) rotate(-90)" font-size="7.4" text-anchor="end" fill="#1a1a1a">2 months</text>
<line x1="218.8" y1="584.4" x2="267.3" y2="584.4" stroke="#222" stroke-width="0.9"/>
<line x1="273.2" y1="584.4" x2="313.1" y2="584.4" stroke="#222" stroke-width="0.9"/>
<text x="243.2" y="594.0" font-size="7.55" text-anchor="middle" fill="#3d7f2f" font-style="italic" stroke="#3d7f2f" stroke-width="0.18">RoLoRiG/</text>
<text x="243.1" y="603.3" font-size="7.2" text-anchor="middle" fill="#3d7f2f" font-style="italic" stroke="#3d7f2f" stroke-width="0.18">Mx1CRE</text>
<text x="292.9" y="594.4" font-size="7.6" text-anchor="middle" fill="#a0283f" font-style="italic" stroke="#a0283f" stroke-width="0.15">KRas<tspan font-size="5.5" dy="-2.7">G12D</tspan><tspan dy="2.7">/</tspan></text>
<text x="292.9" y="603.3" font-size="7.2" text-anchor="middle" fill="#a0283f" font-style="italic" stroke="#a0283f" stroke-width="0.18">Mx1CRE</text>
<text x="346.1" y="286.3" font-size="10.5" text-anchor="start" fill="#000" font-weight="bold" stroke="#000" stroke-width="0.45" stroke-linejoin="round">G</text>
<line x1="385.5" y1="311.3" x2="385.5" y2="422.9" stroke="#333" stroke-width="1.25"/>
<line x1="384.9" y1="422.3" x2="488.7" y2="422.3" stroke="#333" stroke-width="1.25"/>
<line x1="382.2" y1="422.3" x2="385.5" y2="422.3" stroke="#333" stroke-width="1.0"/>
<text x="379.5" y="425.0" font-size="7.3" text-anchor="end" fill="#1a1a1a" stroke="#1a1a1a" stroke-width="0.18">0</text>
<line x1="382.2" y1="395.3" x2="385.5" y2="395.3" stroke="#333" stroke-width="1.0"/>
<text x="379.5" y="398.0" font-size="7.3" text-anchor="end" fill="#1a1a1a" stroke="#1a1a1a" stroke-width="0.18">5</text>
<line x1="382.2" y1="368.3" x2="385.5" y2="368.3" stroke="#333" stroke-width="1.0"/>
<text x="379.5" y="371.0" font-size="7.3" text-anchor="end" fill="#1a1a1a" stroke="#1a1a1a" stroke-width="0.18">10</text>
<line x1="382.2" y1="341.3" x2="385.5" y2="341.3" stroke="#333" stroke-width="1.0"/>
<text x="379.5" y="344.0" font-size="7.3" text-anchor="end" fill="#1a1a1a" stroke="#1a1a1a" stroke-width="0.18">15</text>
<line x1="382.2" y1="314.3" x2="385.5" y2="314.3" stroke="#333" stroke-width="1.0"/>
<text x="379.5" y="317.0" font-size="7.3" text-anchor="end" fill="#1a1a1a" stroke="#1a1a1a" stroke-width="0.18">20</text>
<line x1="398.0" y1="422.3" x2="398.0" y2="425.5" stroke="#333" stroke-width="1.0"/>
<line x1="417.2" y1="422.3" x2="417.2" y2="425.5" stroke="#333" stroke-width="1.0"/>
<line x1="436.5" y1="422.3" x2="436.5" y2="425.5" stroke="#333" stroke-width="1.0"/>
<line x1="455.8" y1="422.3" x2="455.8" y2="425.5" stroke="#333" stroke-width="1.0"/>
<line x1="475.2" y1="422.3" x2="475.2" y2="425.5" stroke="#333" stroke-width="1.0"/>
<text transform="translate(366,368.5) rotate(-90)" font-size="8.2" text-anchor="middle" fill="#1a1a1a" textLength="74" lengthAdjust="spacingAndGlyphs" stroke="#1a1a1a" stroke-width="0.25">% CMP of lineage negative</text>
<line x1="398.0" y1="409.9" x2="398.0" y2="415.3" stroke="#222" stroke-width="0.8"/>
<line x1="395.0" y1="409.9" x2="401.0" y2="409.9" stroke="#222" stroke-width="0.8"/>
<line x1="395.0" y1="415.3" x2="401.0" y2="415.3" stroke="#222" stroke-width="0.8"/>
<rect x="392.35" y="411.77" width="11.30" height="3.24" fill="#6c6cb4"/>
<line x1="392.4" y1="413.4" x2="403.6" y2="413.4" stroke="#222" stroke-width="0.9"/>
<line x1="417.2" y1="410.2" x2="417.2" y2="412.9" stroke="#222" stroke-width="0.8"/>
<line x1="414.2" y1="410.2" x2="420.2" y2="410.2" stroke="#222" stroke-width="0.8"/>
<line x1="414.2" y1="412.9" x2="420.2" y2="412.9" stroke="#222" stroke-width="0.8"/>
<rect x="411.95" y="410.42" width="10.50" height="2.16" fill="#333"/>
<line x1="411.9" y1="411.5" x2="422.4" y2="411.5" stroke="#222" stroke-width="0.9"/>
<line x1="436.5" y1="400.7" x2="436.5" y2="411.8" stroke="#222" stroke-width="0.8"/>
<line x1="433.5" y1="400.7" x2="439.5" y2="400.7" stroke="#222" stroke-width="0.8"/>
<line x1="433.5" y1="411.8" x2="439.5" y2="411.8" stroke="#222" stroke-width="0.8"/>
<rect x="430.85" y="402.05" width="11.30" height="8.37" fill="#35b83a"/>
<line x1="430.9" y1="406.9" x2="442.1" y2="406.9" stroke="#222" stroke-width="0.9"/>
<line x1="455.8" y1="321.3" x2="455.8" y2="396.4" stroke="#222" stroke-width="0.8"/>
<line x1="452.8" y1="321.3" x2="458.8" y2="321.3" stroke="#222" stroke-width="0.8"/>
<line x1="452.8" y1="396.4" x2="458.8" y2="396.4" stroke="#222" stroke-width="0.8"/>
<rect x="450.15" y="335.90" width="11.30" height="57.78" fill="#c8102e"/>
<line x1="450.2" y1="381.3" x2="461.4" y2="381.3" stroke="#222" stroke-width="0.9"/>
<line x1="475.2" y1="364.2" x2="475.2" y2="401.2" stroke="#222" stroke-width="0.8"/>
<line x1="472.2" y1="364.2" x2="478.2" y2="364.2" stroke="#222" stroke-width="0.8"/>
<line x1="472.2" y1="401.2" x2="478.2" y2="401.2" stroke="#222" stroke-width="0.8"/>
<rect x="469.55" y="365.60" width="11.30" height="34.29" fill="#c8102e"/>
<line x1="469.6" y1="381.8" x2="480.8" y2="381.8" stroke="#222" stroke-width="0.9"/>
<line x1="398.0" y1="383.3" x2="437.5" y2="383.3" stroke="#1a1a1a" stroke-width="1.0"/>
<text x="417.5" y="382.2" font-size="7.6" text-anchor="middle" fill="#1a1a1a" stroke="#1a1a1a" stroke-width="0.18">*</text>
<line x1="405.0" y1="316.3" x2="480.5" y2="316.3" stroke="#1a1a1a" stroke-width="1.0"/>
<text x="443.0" y="315.2" font-size="7.6" text-anchor="middle" fill="#1a1a1a" stroke="#1a1a1a" stroke-width="0.18">*</text>
<line x1="423.8" y1="303.6" x2="454.2" y2="303.6" stroke="#1a1a1a" stroke-width="1.0"/>
<text x="438.7" y="300.3" font-size="7.45" text-anchor="middle" fill="#1a1a1a" stroke="#1a1a1a" stroke-width="0.15"><tspan font-style="italic">P</tspan> = .05</text>
<line x1="436.4" y1="286.3" x2="476.5" y2="286.3" stroke="#1a1a1a" stroke-width="1.0"/>
<text x="456" y="283" font-size="7.45" text-anchor="middle" fill="#1a1a1a" stroke="#1a1a1a" stroke-width="0.15"><tspan font-style="italic">P</tspan> = .05</text>
<text transform="translate(398.9,431.0) rotate(-45)" font-size="7.6" text-anchor="end" fill="#1a1a1a" font-style="italic">Wild type</text>
<text transform="translate(418.1,431.0) rotate(-45)" font-size="7.6" text-anchor="end" fill="#1a1a1a">4 weeks</text>
<text transform="translate(437.4,431.0) rotate(-45)" font-size="7.6" text-anchor="end" fill="#1a1a1a">4 months</text>
<text transform="translate(456.7,431.0) rotate(-45)" font-size="7.6" text-anchor="end" fill="#1a1a1a">4 weeks</text>
<text transform="translate(476.1,431.0) rotate(-45)" font-size="7.6" text-anchor="end" fill="#1a1a1a">2 months</text>
<text x="347.0" y="479.2" font-size="10.5" text-anchor="start" fill="#000" font-weight="bold" stroke="#000" stroke-width="0.45" stroke-linejoin="round">H</text>
<line x1="385.5" y1="482.5" x2="385.5" y2="593.9" stroke="#333" stroke-width="1.25"/>
<line x1="384.9" y1="593.3" x2="493.0" y2="593.3" stroke="#333" stroke-width="1.25"/>
<line x1="382.2" y1="593.3" x2="385.5" y2="593.3" stroke="#333" stroke-width="1.0"/>
<text x="379.5" y="596.0" font-size="7.3" text-anchor="end" fill="#1a1a1a" stroke="#1a1a1a" stroke-width="0.18">0</text>
<line x1="382.2" y1="566.3" x2="385.5" y2="566.3" stroke="#333" stroke-width="1.0"/>
<text x="379.5" y="569.0" font-size="7.3" text-anchor="end" fill="#1a1a1a" stroke="#1a1a1a" stroke-width="0.18">5</text>
<line x1="382.2" y1="539.4" x2="385.5" y2="539.4" stroke="#333" stroke-width="1.0"/>
<text x="379.5" y="542.1" font-size="7.3" text-anchor="end" fill="#1a1a1a" stroke="#1a1a1a" stroke-width="0.18">10</text>
<line x1="382.2" y1="512.4" x2="385.5" y2="512.4" stroke="#333" stroke-width="1.0"/>
<text x="379.5" y="515.1" font-size="7.3" text-anchor="end" fill="#1a1a1a" stroke="#1a1a1a" stroke-width="0.18">15</text>
<line x1="382.2" y1="485.5" x2="385.5" y2="485.5" stroke="#333" stroke-width="1.0"/>
<text x="379.5" y="488.2" font-size="7.3" text-anchor="end" fill="#1a1a1a" stroke="#1a1a1a" stroke-width="0.18">20</text>
<line x1="398.5" y1="593.3" x2="398.5" y2="596.5" stroke="#333" stroke-width="1.0"/>
<line x1="418.6" y1="593.3" x2="418.6" y2="596.5" stroke="#333" stroke-width="1.0"/>
<line x1="438.7" y1="593.3" x2="438.7" y2="596.5" stroke="#333" stroke-width="1.0"/>
<line x1="458.9" y1="593.3" x2="458.9" y2="596.5" stroke="#333" stroke-width="1.0"/>
<line x1="479.0" y1="593.3" x2="479.0" y2="596.5" stroke="#333" stroke-width="1.0"/>
<text transform="translate(366,539.5) rotate(-90)" font-size="8.2" text-anchor="middle" fill="#1a1a1a" textLength="73" lengthAdjust="spacingAndGlyphs" stroke="#1a1a1a" stroke-width="0.25">% LSK of lineage negative</text>
<line x1="398.5" y1="557.5" x2="398.5" y2="569.3" stroke="#222" stroke-width="0.8"/>
<line x1="395.5" y1="557.5" x2="401.5" y2="557.5" stroke="#222" stroke-width="0.8"/>
<line x1="395.5" y1="569.3" x2="401.5" y2="569.3" stroke="#222" stroke-width="0.8"/>
<rect x="392.75" y="558.00" width="11.50" height="9.43" fill="#7d79c9"/>
<line x1="392.8" y1="562.0" x2="404.2" y2="562.0" stroke="#222" stroke-width="0.9"/>
<line x1="418.6" y1="549.6" x2="418.6" y2="558.0" stroke="#222" stroke-width="0.8"/>
<line x1="415.6" y1="549.6" x2="421.6" y2="549.6" stroke="#222" stroke-width="0.8"/>
<line x1="415.6" y1="558.0" x2="421.6" y2="558.0" stroke="#222" stroke-width="0.8"/>
<rect x="412.85" y="551.26" width="11.50" height="5.12" fill="#35b83a"/>
<line x1="412.9" y1="554.0" x2="424.4" y2="554.0" stroke="#222" stroke-width="0.9"/>
<line x1="438.7" y1="515.7" x2="438.7" y2="580.6" stroke="#222" stroke-width="0.8"/>
<line x1="435.7" y1="515.7" x2="441.7" y2="515.7" stroke="#222" stroke-width="0.8"/>
<line x1="435.7" y1="580.6" x2="441.7" y2="580.6" stroke="#222" stroke-width="0.8"/>
<rect x="432.95" y="521.88" width="11.50" height="56.33" fill="#35b83a"/>
<line x1="432.9" y1="556.4" x2="444.4" y2="556.4" stroke="#222" stroke-width="0.9"/>
<line x1="458.9" y1="581.2" x2="458.9" y2="585.8" stroke="#222" stroke-width="0.8"/>
<line x1="455.9" y1="581.2" x2="461.9" y2="581.2" stroke="#222" stroke-width="0.8"/>
<line x1="455.9" y1="585.8" x2="461.9" y2="585.8" stroke="#222" stroke-width="0.8"/>
<rect x="453.25" y="582.52" width="11.30" height="2.43" fill="#c8102e"/>
<line x1="453.2" y1="583.9" x2="464.5" y2="583.9" stroke="#222" stroke-width="0.9"/>
<line x1="479.0" y1="575.5" x2="479.0" y2="589.5" stroke="#222" stroke-width="0.8"/>
<line x1="476.0" y1="575.5" x2="482.0" y2="575.5" stroke="#222" stroke-width="0.8"/>
<line x1="476.0" y1="589.5" x2="482.0" y2="589.5" stroke="#222" stroke-width="0.8"/>
<rect x="473.25" y="578.21" width="11.50" height="8.89" fill="#c8102e"/>
<line x1="473.2" y1="583.3" x2="484.8" y2="583.3" stroke="#222" stroke-width="0.9"/>
<line x1="400.0" y1="489.3" x2="478.0" y2="489.3" stroke="#1a1a1a" stroke-width="1.0"/>
<text x="439.3" y="488.6" font-size="7.6" text-anchor="middle" fill="#1a1a1a" stroke="#1a1a1a" stroke-width="0.18">**</text>
<line x1="399.5" y1="503.8" x2="463.0" y2="503.8" stroke="#1a1a1a" stroke-width="1.0"/>
<text x="431.3" y="503.1" font-size="7.6" text-anchor="middle" fill="#1a1a1a" stroke="#1a1a1a" stroke-width="0.18">***</text>
<line x1="418.0" y1="512.0" x2="461.3" y2="512.0" stroke="#1a1a1a" stroke-width="1.0"/>
<text x="439.5" y="511.3" font-size="7.6" text-anchor="middle" fill="#1a1a1a" stroke="#1a1a1a" stroke-width="0.18">***</text>
<line x1="396.8" y1="542.8" x2="417.5" y2="542.8" stroke="#1a1a1a" stroke-width="1.0"/>
<text x="407.5" y="542.3" font-size="7.6" text-anchor="middle" fill="#1a1a1a" stroke="#1a1a1a" stroke-width="0.18">*</text>
<text transform="translate(399.4,602.0) rotate(-45)" font-size="7.6" text-anchor="end" fill="#1a1a1a" font-style="italic">Wild type</text>
<text transform="translate(419.5,602.0) rotate(-45)" font-size="7.6" text-anchor="end" fill="#1a1a1a">4 weeks</text>
<text transform="translate(439.6,602.0) rotate(-45)" font-size="7.6" text-anchor="end" fill="#1a1a1a">4 months</text>
<text transform="translate(459.8,602.0) rotate(-45)" font-size="7.6" text-anchor="end" fill="#1a1a1a">4 weeks</text>
<text transform="translate(479.9,602.0) rotate(-45)" font-size="7.6" text-anchor="end" fill="#1a1a1a">2 months</text>
<text x="6.6" y="542.8" font-size="10.5" text-anchor="start" fill="#000" font-weight="bold" stroke="#000" stroke-width="0.45" stroke-linejoin="round">I</text>
<rect x="23.90" y="549.10" width="71.50" height="13.50" fill="#E3CEA2"/>
<text x="59.5" y="558.4" font-size="6.7" text-anchor="middle" fill="#1a1a1a" stroke="#1a1a1a" stroke-width="0.18">Lineage-negative</text>
<rect x="106.60" y="549.10" width="82.70" height="13.50" fill="#E3CEA2"/>
<text x="148.1" y="558.4" font-size="7.05" text-anchor="middle" fill="#1a1a1a" stroke="#1a1a1a" stroke-width="0.18">5% of total cells</text>
<text x="102.5" y="578.6" font-size="7.6" text-anchor="middle" fill="#1a1a1a" stroke="#1a1a1a" stroke-width="0.18">CMP</text>
<text x="102.8" y="587.6" font-size="7.45" text-anchor="middle" fill="#1a1a1a" stroke="#1a1a1a" stroke-width="0.18">(cluster #17)</text>
<text x="156.4" y="578.6" font-size="7.6" text-anchor="middle" fill="#1a1a1a" stroke="#1a1a1a" stroke-width="0.18">LSK</text>
<text x="156.4" y="587.6" font-size="7.45" text-anchor="middle" fill="#1a1a1a" stroke="#1a1a1a" stroke-width="0.18">(cluster #4)</text>
<text x="18.0" y="599.0" font-size="7.2" text-anchor="start" fill="#55b848" font-style="italic" stroke="#55b848" stroke-width="0.18">RoLoRiG/</text>
<text x="18.0" y="608.2" font-size="7.2" text-anchor="start" fill="#55b848" font-style="italic" stroke="#55b848" stroke-width="0.18">Mx1CRE</text>
<text x="18.0" y="617.6" font-size="7.2" text-anchor="start" fill="#55b848" stroke="#55b848" stroke-width="0.18">4 months</text>
<text x="18" y="634" font-size="7.55" fill="#c41230" font-style="italic">KRas<tspan font-size="5.4" dy="-2.7">G12D</tspan><tspan dy="2.7">/Mx1CRE</tspan></text>
<text x="18.0" y="644.0" font-size="7.35" text-anchor="start" fill="#c41230" stroke="#c41230" stroke-width="0.18">2 months</text>
<line x1="102.5" y1="612.7" x2="102.5" y2="602.4" stroke="#111" stroke-width="1.1"/>
<polygon points="102.5,598.5 105.0,603.9 102.5,602.4 100.0,603.9" fill="#111"/>
<line x1="156.4" y1="611.6" x2="156.4" y2="601.7" stroke="#111" stroke-width="1.1"/>
<polygon points="156.4,597.8 158.9,603.2 156.4,601.7 153.9,603.2" fill="#111"/>
<line x1="92.1" y1="642.4" x2="92.1" y2="632.3" stroke="#111" stroke-width="1.1"/>
<polygon points="92.1,628.4 94.6,633.8 92.1,632.3 89.6,633.8" fill="#111"/>
<line x1="103.7" y1="642.4" x2="103.7" y2="632.3" stroke="#111" stroke-width="1.1"/>
<polygon points="103.7,628.4 106.2,633.8 103.7,632.3 101.2,633.8" fill="#111"/>
<line x1="115.6" y1="642.4" x2="115.6" y2="632.3" stroke="#111" stroke-width="1.1"/>
<polygon points="115.6,628.4 118.1,633.8 115.6,632.3 113.1,633.8" fill="#111"/>
<line x1="145.8" y1="628.0" x2="145.8" y2="638.3" stroke="#111" stroke-width="1.1"/>
<polygon points="145.8,642.2 143.3,636.8 145.8,638.3 148.3,636.8" fill="#111"/>
<line x1="157.3" y1="628.0" x2="157.3" y2="638.3" stroke="#111" stroke-width="1.1"/>
<polygon points="157.3,642.2 154.8,636.8 157.3,638.3 159.8,636.8" fill="#111"/>
<line x1="169.0" y1="628.0" x2="169.0" y2="638.3" stroke="#111" stroke-width="1.1"/>
<polygon points="169.0,642.2 166.5,636.8 169.0,638.3 171.5,636.8" fill="#111"/>
<rect x="0.00" y="0.00" width="1.00" height="652.00" fill="#666"/>
<rect x="0.00" y="0.00" width="520.00" height="0.85" fill="#555"/>
<rect x="518.90" y="0.00" width="1.10" height="652.00" fill="#585858"/>
<rect x="0.00" y="650.80" width="520.00" height="1.20" fill="#505050"/>
<rect x="0.00" y="0.00" width="1.00" height="1.00" fill="#111"/>
<rect x="519.00" y="651.00" width="1.00" height="1.00" fill="#111"/>
</svg></body></html>
